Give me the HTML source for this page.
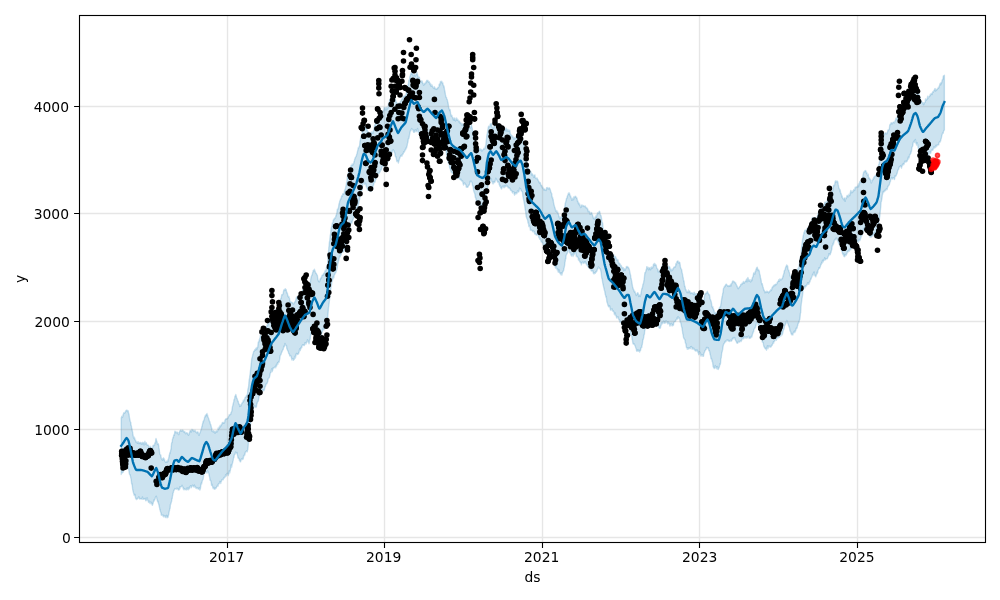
<!DOCTYPE html>
<html lang="en"><head><meta charset="utf-8"><title>Forecast plot</title>
<style>html,body{margin:0;padding:0;background:#fff}body{width:1000px;height:600px;overflow:hidden}svg{display:block}</style>
</head><body>
<svg width="1000" height="600" viewBox="0 0 1000 600">
<rect width="1000" height="600" fill="#fff"/>
<clipPath id="c"><rect x="79.5" y="15.5" width="906.0" height="527.0"/></clipPath>
<g clip-path="url(#c)">
<polygon points="121.2,417.9 121.5,417.4 121.8,416.3 122.1,417.2 122.4,417.4 122.7,416.8 123.0,414.6 123.3,415.0 123.6,413.2 123.9,412.7 124.2,413.2 124.5,413.3 124.8,413.0 125.1,411.9 125.4,412.0 125.7,411.0 126.0,410.5 126.3,410.9 126.6,410.1 126.9,410.1 127.2,410.1 127.5,411.3 127.8,411.8 128.1,410.7 128.4,411.9 128.7,413.8 129.0,413.9 129.3,416.3 129.6,418.8 129.9,419.7 130.2,421.2 130.5,421.9 130.8,422.6 131.1,425.6 131.4,425.8 131.7,429.0 132.0,428.7 132.3,431.1 132.6,431.9 132.9,434.7 133.2,435.7 133.5,437.6 133.8,438.1 134.1,437.0 134.4,438.9 134.7,437.8 135.0,439.9 135.3,440.4 135.6,440.0 135.9,441.6 136.2,442.4 136.5,442.5 136.8,441.9 137.1,442.9 137.4,441.9 137.7,443.3 138.0,441.7 138.3,441.9 138.6,443.2 138.9,443.8 139.2,442.4 139.5,443.3 139.8,443.1 140.1,442.8 140.4,442.4 140.7,442.8 141.0,443.2 141.3,444.4 141.6,443.1 141.9,442.8 142.2,442.4 142.5,444.0 142.8,442.5 143.1,443.0 143.4,442.6 143.7,443.0 144.0,445.0 144.3,443.7 144.6,443.3 144.9,441.2 145.2,443.1 145.5,443.3 145.8,444.2 146.1,442.6 146.4,443.0 146.7,444.4 147.0,445.1 147.3,445.2 147.6,445.0 147.9,444.8 148.2,445.6 148.5,445.4 148.8,446.5 149.1,448.5 149.4,448.2 149.7,447.6 150.0,447.6 150.3,446.3 150.6,447.5 150.9,446.9 151.2,448.6 151.5,449.8 151.8,449.2 152.1,449.3 152.4,447.6 152.7,447.9 153.0,445.3 153.3,445.2 153.6,445.2 153.9,445.8 154.2,445.5 154.5,445.3 154.8,443.2 155.1,442.5 155.4,442.9 155.7,439.9 156.0,438.5 156.3,439.6 156.6,440.6 156.9,441.6 157.2,442.4 157.5,444.5 157.8,444.3 158.1,443.7 158.4,444.1 158.7,445.6 159.0,447.9 159.3,449.4 159.6,452.7 159.9,454.0 160.2,454.5 160.5,455.0 160.8,454.9 161.1,457.5 161.4,458.5 161.7,459.4 162.0,458.7 162.3,460.2 162.6,459.5 162.9,458.7 163.2,458.7 163.5,457.8 163.8,458.8 164.1,460.4 164.4,458.9 164.7,460.2 165.0,461.3 165.3,461.7 165.6,462.3 165.9,461.9 166.2,462.1 166.5,461.1 166.8,462.4 167.1,461.8 167.4,460.4 167.7,461.8 168.0,461.5 168.3,459.2 168.6,458.4 168.9,457.1 169.2,455.0 169.5,454.8 169.8,452.6 170.1,453.7 170.4,451.8 170.7,450.1 171.0,449.3 171.3,446.7 171.6,443.1 171.9,442.4 172.2,442.2 172.5,439.1 172.8,438.5 173.1,437.1 173.4,437.7 173.7,434.9 174.0,435.3 174.3,435.3 174.6,433.2 174.9,431.2 175.2,431.8 175.5,431.6 175.8,432.4 176.1,432.9 176.4,432.4 176.7,432.4 177.0,431.9 177.3,432.3 177.6,432.8 177.9,433.1 178.2,433.9 178.5,434.5 178.8,434.7 179.1,432.6 179.4,432.0 179.7,431.3 180.0,430.7 180.3,430.6 180.6,430.0 180.9,430.5 181.2,431.2 181.5,430.2 181.8,430.9 182.1,431.0 182.4,430.3 182.7,430.0 183.0,430.7 183.3,430.6 183.6,431.9 183.9,431.7 184.2,431.5 184.5,432.6 184.8,431.6 185.1,432.4 185.4,433.2 185.7,433.8 186.0,433.7 186.3,433.4 186.6,432.6 186.9,433.2 187.2,433.3 187.5,433.1 187.8,434.2 188.1,434.0 188.4,435.3 188.7,435.2 189.0,434.0 189.3,433.9 189.6,431.6 189.9,432.3 190.2,430.5 190.5,430.4 190.8,430.7 191.1,431.2 191.4,432.0 191.7,430.0 192.0,429.3 192.3,429.8 192.6,430.6 192.9,429.7 193.2,430.2 193.5,430.6 193.8,431.5 194.1,431.4 194.4,431.3 194.7,430.7 195.0,430.1 195.3,431.2 195.6,431.4 195.9,432.2 196.2,432.3 196.5,432.3 196.8,433.1 197.1,432.4 197.4,432.3 197.7,431.8 198.0,432.1 198.3,433.1 198.6,435.1 198.9,435.2 199.2,435.3 199.5,433.6 199.8,433.3 200.1,432.4 200.4,431.8 200.7,430.8 201.0,429.8 201.3,429.4 201.6,427.9 201.9,426.3 202.2,426.1 202.5,423.8 202.8,423.3 203.1,421.3 203.4,421.8 203.7,420.4 204.0,420.1 204.3,418.9 204.6,417.0 204.9,417.5 205.2,415.8 205.5,415.2 205.8,416.0 206.1,414.6 206.4,414.4 206.7,414.2 207.0,413.5 207.3,415.8 207.6,415.0 207.9,416.9 208.2,417.4 208.5,418.1 208.8,419.0 209.1,419.9 209.4,421.3 209.7,421.4 210.0,422.2 210.3,424.1 210.6,424.6 210.9,424.8 211.2,426.4 211.5,427.9 211.8,428.1 212.1,431.4 212.4,430.8 212.7,431.4 213.0,431.7 213.3,432.0 213.6,430.6 213.9,431.6 214.2,431.3 214.5,431.5 214.8,432.9 215.1,433.2 215.4,431.6 215.7,432.1 216.0,431.7 216.3,430.7 216.6,432.1 216.9,431.3 217.2,431.8 217.5,431.3 217.8,430.2 218.1,428.0 218.4,428.9 218.7,429.0 219.0,428.6 219.3,426.7 219.6,427.9 219.9,426.4 220.2,425.2 220.5,426.8 220.8,426.2 221.1,425.2 221.4,425.3 221.7,423.9 222.0,424.1 222.3,422.7 222.6,422.5 222.9,422.5 223.2,422.2 223.5,423.3 223.8,423.2 224.1,422.4 224.4,423.0 224.7,421.9 225.0,420.0 225.3,419.6 225.6,418.9 225.9,419.3 226.2,418.8 226.5,418.7 226.8,419.0 227.1,418.1 227.4,418.7 227.7,418.4 228.0,418.1 228.3,416.9 228.6,416.2 228.9,416.2 229.2,414.7 229.5,415.1 229.8,415.1 230.1,414.3 230.4,414.2 230.7,414.4 231.0,412.6 231.3,412.2 231.6,411.8 231.9,410.4 232.2,408.4 232.5,406.5 232.8,405.4 233.1,403.9 233.4,402.9 233.7,401.9 234.0,399.6 234.3,399.2 234.6,399.0 234.9,396.3 235.2,396.1 235.5,395.6 235.8,394.4 236.1,395.6 236.4,396.9 236.7,398.1 237.0,398.6 237.3,398.9 237.6,400.8 237.9,401.0 238.2,401.1 238.5,403.1 238.8,404.1 239.1,404.1 239.4,404.3 239.7,406.5 240.0,405.5 240.3,404.9 240.6,406.0 240.9,405.9 241.2,405.8 241.5,404.2 241.8,403.4 242.1,403.0 242.4,402.9 242.7,402.1 243.0,402.3 243.3,400.2 243.6,401.6 243.9,400.3 244.2,400.3 244.5,399.2 244.8,398.7 245.1,397.3 245.4,397.3 245.7,396.9 246.0,397.1 246.3,395.7 246.6,395.4 246.9,395.0 247.2,395.4 247.5,393.6 247.8,390.0 248.1,388.5 248.4,387.6 248.7,385.5 249.0,380.9 249.3,379.8 249.6,377.7 249.9,375.1 250.2,373.1 250.5,370.6 250.8,368.0 251.1,364.9 251.4,362.6 251.7,359.1 252.0,357.7 252.3,356.9 252.6,355.5 252.9,354.0 253.2,353.7 253.5,352.2 253.8,351.1 254.1,351.1 254.4,351.0 254.7,349.8 255.0,349.6 255.3,350.2 255.6,349.2 255.9,348.4 256.2,348.2 256.5,347.8 256.8,349.7 257.1,348.1 257.4,346.9 257.7,347.6 258.0,344.4 258.3,342.2 258.6,341.5 258.9,342.2 259.2,339.8 259.5,340.1 259.8,338.1 260.1,337.7 260.4,334.9 260.7,335.8 261.0,336.4 261.3,336.1 261.6,337.7 261.9,336.2 262.2,336.3 262.5,336.5 262.8,335.8 263.1,335.3 263.4,333.5 263.7,334.1 264.0,333.9 264.3,332.5 264.6,332.7 264.9,331.7 265.2,332.2 265.5,331.0 265.8,330.3 266.1,328.6 266.4,327.7 266.7,326.4 267.0,325.3 267.3,324.6 267.6,325.8 267.9,324.3 268.2,323.8 268.5,322.6 268.8,321.6 269.1,321.8 269.4,321.5 269.7,320.1 270.0,319.0 270.3,318.1 270.6,317.2 270.9,315.9 271.2,316.1 271.5,317.3 271.8,315.9 272.1,316.0 272.4,313.0 272.7,313.7 273.0,313.9 273.3,314.1 273.6,313.3 273.9,313.2 274.2,312.6 274.5,310.2 274.8,310.7 275.1,309.9 275.4,310.5 275.7,311.1 276.0,309.5 276.3,309.9 276.6,310.0 276.9,308.6 277.2,308.9 277.5,306.7 277.8,308.9 278.1,307.2 278.4,306.8 278.7,307.3 279.0,305.1 279.3,303.9 279.6,303.2 279.9,302.7 280.2,300.2 280.5,298.9 280.8,298.7 281.1,298.6 281.4,297.0 281.7,294.7 282.0,295.2 282.3,294.5 282.6,294.6 282.9,294.0 283.2,292.9 283.5,291.3 283.8,289.9 284.1,290.7 284.4,289.6 284.7,289.6 285.0,289.4 285.3,288.6 285.6,290.2 285.9,289.5 286.2,289.6 286.5,291.8 286.8,292.0 287.1,293.4 287.4,293.1 287.7,295.1 288.0,296.3 288.3,296.6 288.6,297.2 288.9,296.3 289.2,297.7 289.5,298.3 289.8,300.8 290.1,300.9 290.4,302.5 290.7,302.0 291.0,301.9 291.3,302.3 291.6,302.6 291.9,302.3 292.2,302.5 292.5,303.2 292.8,303.0 293.1,303.9 293.4,303.6 293.7,304.0 294.0,303.5 294.3,302.8 294.6,302.3 294.9,301.8 295.2,301.9 295.5,301.3 295.8,299.8 296.1,298.6 296.4,297.3 296.7,297.5 297.0,296.7 297.3,296.6 297.6,297.2 297.9,298.6 298.2,297.6 298.5,298.2 298.8,296.6 299.1,296.1 299.4,294.9 299.7,294.1 300.0,294.9 300.3,293.1 300.6,293.7 300.9,294.5 301.2,294.9 301.5,293.6 301.8,292.5 302.1,292.5 302.4,290.4 302.7,289.7 303.0,289.9 303.3,289.5 303.6,288.7 303.9,289.1 304.2,288.2 304.5,287.4 304.8,288.2 305.1,288.2 305.4,288.4 305.7,286.3 306.0,285.7 306.3,285.5 306.6,286.1 306.9,286.3 307.2,286.7 307.5,286.4 307.8,286.9 308.1,284.8 308.4,285.4 308.7,284.4 309.0,284.5 309.3,284.5 309.6,283.7 309.9,283.7 310.2,283.4 310.5,280.9 310.8,279.0 311.1,277.2 311.4,276.6 311.7,275.6 312.0,274.8 312.3,274.8 312.6,272.4 312.9,272.3 313.2,270.4 313.5,270.6 313.8,270.0 314.1,270.7 314.4,269.3 314.7,270.4 315.0,271.0 315.3,272.1 315.6,272.8 315.9,273.3 316.2,273.2 316.5,274.1 316.8,274.7 317.1,274.9 317.4,275.6 317.7,278.0 318.0,279.9 318.3,280.3 318.6,281.6 318.9,281.1 319.2,281.6 319.5,281.8 319.8,280.8 320.1,279.1 320.4,278.8 320.7,278.1 321.0,278.7 321.3,277.0 321.6,277.6 321.9,275.7 322.2,275.2 322.5,274.9 322.8,274.9 323.1,275.3 323.4,274.0 323.7,273.3 324.0,273.9 324.3,273.5 324.6,272.5 324.9,271.4 325.2,270.9 325.5,270.1 325.8,270.8 326.1,270.6 326.4,267.5 326.7,267.9 327.0,267.0 327.3,265.8 327.6,263.8 327.9,258.7 328.2,254.5 328.5,252.3 328.8,247.5 329.1,245.6 329.4,241.8 329.7,241.2 330.0,237.6 330.3,235.2 330.6,234.0 330.9,230.4 331.2,228.4 331.5,227.1 331.8,226.2 332.1,224.8 332.4,222.9 332.7,222.9 333.0,221.9 333.3,220.0 333.6,220.1 333.9,219.0 334.2,219.6 334.5,218.4 334.8,217.9 335.1,218.1 335.4,218.0 335.7,216.7 336.0,215.3 336.3,215.7 336.6,213.9 336.9,212.2 337.2,210.0 337.5,208.9 337.8,209.4 338.1,208.9 338.4,207.6 338.7,206.1 339.0,203.7 339.3,203.9 339.6,201.5 339.9,200.7 340.2,199.9 340.5,198.7 340.8,199.3 341.1,199.0 341.4,196.8 341.7,195.8 342.0,196.4 342.3,196.6 342.6,194.9 342.9,193.6 343.2,193.8 343.5,194.3 343.8,194.0 344.1,193.0 344.4,191.6 344.7,189.7 345.0,191.3 345.3,189.1 345.6,187.6 345.9,186.0 346.2,185.1 346.5,182.7 346.8,182.4 347.1,179.4 347.4,176.8 347.7,174.8 348.0,174.2 348.3,173.5 348.6,172.2 348.9,171.4 349.2,169.9 349.5,170.4 349.8,169.3 350.1,169.6 350.4,169.5 350.7,168.1 351.0,165.6 351.3,165.4 351.6,165.4 351.9,165.1 352.2,164.0 352.5,165.3 352.8,165.1 353.1,164.6 353.4,163.8 353.7,163.6 354.0,161.4 354.3,161.6 354.6,159.6 354.9,158.8 355.2,158.1 355.5,157.2 355.8,156.8 356.1,156.4 356.4,155.8 356.7,154.2 357.0,154.0 357.3,152.1 357.6,151.0 357.9,149.8 358.2,147.8 358.5,148.4 358.8,147.6 359.1,146.6 359.4,145.9 359.7,144.7 360.0,140.9 360.3,140.8 360.6,138.7 360.9,136.9 361.2,135.6 361.5,135.4 361.8,134.9 362.1,134.0 362.4,131.7 362.7,129.9 363.0,128.4 363.3,128.7 363.6,126.8 363.9,126.3 364.2,125.5 364.5,124.3 364.8,125.5 365.1,126.3 365.4,128.0 365.7,128.1 366.0,127.9 366.3,129.5 366.6,129.6 366.9,129.7 367.2,129.7 367.5,132.0 367.8,131.8 368.1,132.1 368.4,131.7 368.7,134.1 369.0,133.4 369.3,135.8 369.6,134.7 369.9,134.1 370.2,135.9 370.5,134.9 370.8,133.2 371.1,132.7 371.4,131.8 371.7,132.7 372.0,133.4 372.3,131.9 372.6,132.5 372.9,133.4 373.2,132.6 373.5,130.4 373.8,130.3 374.1,128.1 374.4,127.1 374.7,124.9 375.0,125.1 375.3,124.8 375.6,122.8 375.9,121.8 376.2,121.4 376.5,121.1 376.8,121.5 377.1,120.2 377.4,117.6 377.7,118.2 378.0,116.3 378.3,116.6 378.6,116.9 378.9,115.7 379.2,114.8 379.5,115.2 379.8,115.8 380.1,116.1 380.4,115.3 380.7,114.0 381.0,113.6 381.3,115.7 381.6,114.6 381.9,112.5 382.2,111.9 382.5,112.5 382.8,112.4 383.1,111.3 383.4,110.8 383.7,110.6 384.0,108.6 384.3,107.1 384.6,108.4 384.9,108.1 385.2,109.9 385.5,109.2 385.8,107.6 386.1,107.5 386.4,107.3 386.7,109.9 387.0,108.8 387.3,108.0 387.6,108.7 387.9,107.3 388.2,106.3 388.5,103.7 388.8,103.7 389.1,102.9 389.4,101.7 389.7,99.8 390.0,100.2 390.3,99.3 390.6,98.0 390.9,97.7 391.2,97.0 391.5,96.3 391.8,97.5 392.1,96.3 392.4,96.3 392.7,95.4 393.0,95.8 393.3,95.8 393.6,94.9 393.9,95.9 394.2,96.1 394.5,97.0 394.8,97.5 395.1,99.4 395.4,99.7 395.7,100.6 396.0,101.4 396.3,102.3 396.6,102.0 396.9,104.6 397.2,106.1 397.5,105.3 397.8,104.8 398.1,105.1 398.4,103.1 398.7,105.3 399.0,104.9 399.3,104.1 399.6,103.1 399.9,102.5 400.2,102.1 400.5,101.3 400.8,101.2 401.1,100.7 401.4,100.4 401.7,99.3 402.0,99.5 402.3,98.8 402.6,98.7 402.9,97.4 403.2,97.3 403.5,96.2 403.8,96.8 404.1,96.7 404.4,96.2 404.7,95.9 405.0,95.8 405.3,96.2 405.6,95.2 405.9,94.7 406.2,93.5 406.5,92.4 406.8,90.2 407.1,88.1 407.4,88.0 407.7,85.5 408.0,85.4 408.3,84.6 408.6,82.3 408.9,80.1 409.2,80.8 409.5,79.9 409.8,77.0 410.1,75.8 410.4,75.3 410.7,74.3 411.0,73.1 411.3,72.8 411.6,72.8 411.9,74.3 412.2,73.3 412.5,73.9 412.8,75.4 413.1,76.0 413.4,75.1 413.7,75.6 414.0,75.4 414.3,74.2 414.6,75.5 414.9,75.5 415.2,76.2 415.5,75.0 415.8,75.5 416.1,73.6 416.4,74.2 416.7,74.4 417.0,72.3 417.3,73.9 417.6,74.8 417.9,76.0 418.2,77.9 418.5,77.4 418.8,77.0 419.1,77.3 419.4,77.3 419.7,79.0 420.0,81.1 420.3,82.2 420.6,82.5 420.9,82.3 421.2,81.8 421.5,81.9 421.8,80.6 422.1,81.4 422.4,81.6 422.7,83.3 423.0,83.2 423.3,84.5 423.6,85.4 423.9,84.7 424.2,83.8 424.5,84.0 424.8,83.4 425.1,83.0 425.4,83.7 425.7,83.6 426.0,81.7 426.3,82.1 426.6,80.8 426.9,80.3 427.2,80.4 427.5,80.8 427.8,80.4 428.1,81.8 428.4,82.4 428.7,81.5 429.0,81.6 429.3,82.0 429.6,82.9 429.9,84.0 430.2,84.9 430.5,83.5 430.8,84.7 431.1,86.3 431.4,86.4 431.7,85.5 432.0,84.8 432.3,86.2 432.6,86.5 432.9,87.0 433.2,87.6 433.5,88.2 433.8,88.3 434.1,88.6 434.4,86.7 434.7,87.3 435.0,88.8 435.3,88.7 435.6,88.5 435.9,89.3 436.2,89.1 436.5,88.9 436.8,89.4 437.1,88.1 437.4,88.3 437.7,88.5 438.0,87.3 438.3,87.4 438.6,87.3 438.9,86.7 439.2,84.1 439.5,84.5 439.8,83.5 440.1,84.9 440.4,81.5 440.7,81.5 441.0,82.1 441.3,81.9 441.6,81.2 441.9,81.5 442.2,83.3 442.5,83.1 442.8,82.7 443.1,85.2 443.4,84.9 443.7,87.0 444.0,86.2 444.3,88.0 444.6,90.7 444.9,90.9 445.2,93.1 445.5,94.9 445.8,96.2 446.1,97.2 446.4,97.1 446.7,98.9 447.0,99.5 447.3,99.5 447.6,101.6 447.9,102.2 448.2,103.9 448.5,106.4 448.8,108.2 449.1,108.8 449.4,109.0 449.7,110.5 450.0,109.3 450.3,111.0 450.6,113.4 450.9,114.7 451.2,116.1 451.5,115.3 451.8,115.2 452.1,116.5 452.4,117.3 452.7,117.6 453.0,118.3 453.3,119.9 453.6,118.8 453.9,118.2 454.2,120.4 454.5,118.3 454.8,118.0 455.1,119.1 455.4,121.0 455.7,120.0 456.0,120.5 456.3,118.9 456.6,117.9 456.9,119.4 457.2,120.1 457.5,120.1 457.8,119.3 458.1,120.4 458.4,120.7 458.7,121.9 459.0,121.5 459.3,121.0 459.6,121.4 459.9,123.0 460.2,122.5 460.5,123.0 460.8,123.3 461.1,123.1 461.4,124.3 461.7,124.9 462.0,125.1 462.3,123.7 462.6,124.8 462.9,124.6 463.2,124.0 463.5,125.8 463.8,125.8 464.1,126.1 464.4,126.7 464.7,128.2 465.0,127.9 465.3,128.0 465.6,128.9 465.9,128.3 466.2,128.9 466.5,128.7 466.8,129.0 467.1,129.3 467.4,130.1 467.7,129.1 468.0,129.7 468.3,128.4 468.6,128.1 468.9,127.6 469.2,128.3 469.5,127.4 469.8,128.1 470.1,128.3 470.4,127.5 470.7,127.6 471.0,126.0 471.3,124.7 471.6,125.6 471.9,127.3 472.2,127.9 472.5,130.4 472.8,130.8 473.1,131.9 473.4,133.2 473.7,134.0 474.0,136.0 474.3,136.7 474.6,138.5 474.9,139.5 475.2,139.6 475.5,141.3 475.8,143.5 476.1,144.4 476.4,146.1 476.7,147.3 477.0,148.9 477.3,148.7 477.6,148.3 477.9,148.0 478.2,148.1 478.5,148.3 478.8,149.3 479.1,150.2 479.4,149.5 479.7,148.7 480.0,150.2 480.3,149.0 480.6,149.7 480.9,149.8 481.2,149.4 481.5,149.7 481.8,151.0 482.1,150.1 482.4,150.9 482.7,150.0 483.0,149.7 483.3,149.3 483.6,149.3 483.9,148.3 484.2,149.1 484.5,148.2 484.8,148.7 485.1,147.4 485.4,146.0 485.7,146.4 486.0,143.0 486.3,140.5 486.6,138.0 486.9,134.6 487.2,133.7 487.5,132.3 487.8,130.2 488.1,128.4 488.4,126.9 488.7,126.1 489.0,126.9 489.3,126.9 489.6,126.6 489.9,126.0 490.2,124.3 490.5,123.7 490.8,124.8 491.1,123.4 491.4,124.0 491.7,124.9 492.0,127.0 492.3,127.3 492.6,127.7 492.9,128.7 493.2,128.6 493.5,128.2 493.8,126.9 494.1,126.7 494.4,125.3 494.7,124.1 495.0,124.3 495.3,123.2 495.6,124.0 495.9,125.4 496.2,123.4 496.5,124.1 496.8,124.0 497.1,124.4 497.4,123.0 497.7,124.7 498.0,125.2 498.3,126.1 498.6,127.7 498.9,128.1 499.2,128.2 499.5,128.0 499.8,128.7 500.1,129.0 500.4,130.6 500.7,131.1 501.0,131.1 501.3,132.0 501.6,131.6 501.9,133.5 502.2,134.1 502.5,133.9 502.8,132.8 503.1,131.5 503.4,131.0 503.7,131.8 504.0,130.8 504.3,129.7 504.6,130.5 504.9,129.8 505.2,130.8 505.5,129.4 505.8,128.5 506.1,128.1 506.4,129.1 506.7,130.2 507.0,131.3 507.3,130.7 507.6,129.9 507.9,129.3 508.2,130.2 508.5,131.4 508.8,131.1 509.1,131.2 509.4,130.2 509.7,130.2 510.0,131.7 510.3,133.9 510.6,135.1 510.9,134.3 511.2,135.5 511.5,135.4 511.8,135.5 512.1,135.8 512.4,137.1 512.7,137.0 513.0,136.6 513.3,137.7 513.6,138.2 513.9,139.3 514.2,139.2 514.5,137.9 514.8,137.5 515.1,138.5 515.4,138.4 515.7,138.4 516.0,137.7 516.3,136.1 516.6,137.7 516.9,136.6 517.2,136.4 517.5,136.3 517.8,135.6 518.1,136.1 518.4,135.5 518.7,134.5 519.0,133.8 519.3,134.3 519.6,133.3 519.9,133.3 520.2,132.9 520.5,131.2 520.8,132.4 521.1,134.0 521.4,134.2 521.7,134.6 522.0,136.1 522.3,137.6 522.6,138.8 522.9,140.1 523.2,141.0 523.5,142.8 523.8,143.2 524.1,144.7 524.4,147.9 524.7,149.5 525.0,149.2 525.3,152.8 525.6,154.9 525.9,157.1 526.2,159.2 526.5,158.8 526.8,161.3 527.1,161.8 527.4,164.8 527.7,165.2 528.0,166.3 528.3,168.3 528.6,170.4 528.9,170.2 529.2,170.5 529.5,170.4 529.8,170.3 530.1,171.9 530.4,171.2 530.7,171.3 531.0,172.3 531.3,172.7 531.6,175.0 531.9,173.9 532.2,173.7 532.5,174.6 532.8,174.8 533.1,175.1 533.4,176.2 533.7,177.2 534.0,177.4 534.3,175.1 534.6,175.3 534.9,174.9 535.2,177.2 535.5,178.1 535.8,178.2 536.1,178.8 536.4,178.7 536.7,178.5 537.0,177.8 537.3,178.5 537.6,179.1 537.9,179.5 538.2,180.7 538.5,180.7 538.8,181.4 539.1,182.5 539.4,183.0 539.7,182.3 540.0,182.4 540.3,182.8 540.6,184.4 540.9,185.7 541.2,185.1 541.5,185.1 541.8,185.7 542.1,187.3 542.4,187.8 542.7,187.0 543.0,187.7 543.3,188.7 543.6,189.2 543.9,190.0 544.2,189.2 544.5,188.9 544.8,189.5 545.1,190.3 545.4,190.1 545.7,190.3 546.0,190.5 546.3,189.5 546.6,187.6 546.9,188.5 547.2,187.5 547.5,188.2 547.8,188.8 548.1,188.4 548.4,188.5 548.7,188.9 549.0,187.6 549.3,188.1 549.6,188.4 549.9,188.6 550.2,189.5 550.5,190.4 550.8,192.2 551.1,192.2 551.4,193.4 551.7,193.5 552.0,195.9 552.3,197.9 552.6,197.3 552.9,199.9 553.2,199.4 553.5,202.5 553.8,203.7 554.1,204.9 554.4,206.2 554.7,207.5 555.0,207.8 555.3,209.1 555.6,210.6 555.9,211.3 556.2,211.5 556.5,211.7 556.8,210.5 557.1,212.5 557.4,212.5 557.7,211.9 558.0,213.8 558.3,213.5 558.6,214.7 558.9,216.8 559.2,216.3 559.5,217.9 559.8,218.9 560.1,218.6 560.4,218.2 560.7,217.6 561.0,216.6 561.3,216.8 561.6,217.6 561.9,218.0 562.2,217.2 562.5,215.8 562.8,214.8 563.1,216.6 563.4,213.9 563.7,213.3 564.0,212.0 564.3,210.4 564.6,208.9 564.9,206.1 565.2,203.7 565.5,202.8 565.8,201.4 566.1,200.5 566.4,198.8 566.7,197.9 567.0,198.1 567.3,196.1 567.6,195.7 567.9,194.8 568.2,193.7 568.5,193.0 568.8,194.4 569.1,194.2 569.4,193.0 569.7,194.1 570.0,195.1 570.3,196.4 570.6,195.9 570.9,197.3 571.2,197.9 571.5,198.9 571.8,200.3 572.1,200.2 572.4,199.6 572.7,198.7 573.0,198.0 573.3,199.7 573.6,199.6 573.9,196.7 574.2,197.5 574.5,197.6 574.8,197.4 575.1,196.3 575.4,196.4 575.7,196.3 576.0,197.5 576.3,198.0 576.6,197.5 576.9,198.0 577.2,199.5 577.5,201.4 577.8,200.9 578.1,202.1 578.4,203.5 578.7,202.7 579.0,204.3 579.3,204.8 579.6,204.0 579.9,205.2 580.2,206.1 580.5,207.1 580.8,207.5 581.1,207.2 581.4,205.1 581.7,205.8 582.0,204.9 582.3,205.9 582.6,205.9 582.9,205.6 583.2,205.5 583.5,205.8 583.8,206.3 584.1,206.6 584.4,206.2 584.7,206.1 585.0,206.7 585.3,205.9 585.6,207.0 585.9,207.8 586.2,207.9 586.5,207.6 586.8,208.2 587.1,207.9 587.4,209.2 587.7,209.0 588.0,210.3 588.3,211.9 588.6,210.9 588.9,211.2 589.2,211.7 589.5,211.3 589.8,213.2 590.1,214.4 590.4,213.2 590.7,214.1 591.0,212.7 591.3,212.9 591.6,212.6 591.9,213.5 592.2,214.6 592.5,215.0 592.8,216.0 593.1,216.9 593.4,218.4 593.7,218.3 594.0,218.1 594.3,219.2 594.6,218.2 594.9,218.7 595.2,216.7 595.5,217.8 595.8,217.0 596.1,215.5 596.4,217.4 596.7,215.6 597.0,214.4 597.3,214.4 597.6,212.7 597.9,213.2 598.2,213.5 598.5,212.9 598.8,212.3 599.1,211.6 599.4,211.3 599.7,211.6 600.0,212.8 600.3,214.4 600.6,215.2 600.9,215.3 601.2,216.4 601.5,218.3 601.8,220.1 602.1,222.5 602.4,222.5 602.7,223.5 603.0,227.2 603.3,228.9 603.6,230.9 603.9,232.2 604.2,234.9 604.5,236.4 604.8,236.9 605.1,238.0 605.4,239.4 605.7,240.9 606.0,242.0 606.3,243.2 606.6,242.9 606.9,244.2 607.2,245.4 607.5,247.8 607.8,249.9 608.1,249.8 608.4,249.8 608.7,250.4 609.0,251.7 609.3,252.1 609.6,252.9 609.9,252.6 610.2,251.9 610.5,252.7 610.8,253.8 611.1,253.7 611.4,253.7 611.7,254.2 612.0,256.7 612.3,256.7 612.6,255.8 612.9,255.7 613.2,256.2 613.5,254.6 613.8,254.8 614.1,256.3 614.4,256.6 614.7,257.5 615.0,258.0 615.3,256.5 615.6,256.6 615.9,257.7 616.2,258.2 616.5,259.1 616.8,260.3 617.1,260.4 617.4,260.4 617.7,259.5 618.0,259.9 618.3,261.9 618.6,263.2 618.9,263.7 619.2,263.1 619.5,263.2 619.8,264.7 620.1,264.0 620.4,265.2 620.7,265.7 621.0,266.2 621.3,265.5 621.6,267.0 621.9,267.8 622.2,267.1 622.5,268.1 622.8,268.6 623.1,269.0 623.4,267.6 623.7,270.7 624.0,269.0 624.3,268.7 624.6,269.5 624.9,269.9 625.2,270.2 625.5,268.8 625.8,268.7 626.1,267.7 626.4,266.4 626.7,266.7 627.0,266.9 627.3,267.4 627.6,266.4 627.9,267.2 628.2,267.6 628.5,267.5 628.8,268.3 629.1,268.7 629.4,270.0 629.7,271.3 630.0,272.7 630.3,274.6 630.6,275.0 630.9,278.4 631.2,278.5 631.5,280.5 631.8,281.9 632.1,283.7 632.4,285.7 632.7,287.6 633.0,287.8 633.3,289.4 633.6,289.3 633.9,290.5 634.2,291.6 634.5,292.0 634.8,291.1 635.1,292.2 635.4,292.9 635.7,294.0 636.0,294.2 636.3,295.5 636.6,294.8 636.9,294.6 637.2,294.0 637.5,292.6 637.8,293.3 638.1,293.1 638.4,294.6 638.7,296.5 639.0,295.8 639.3,295.0 639.6,294.9 639.9,296.3 640.2,296.6 640.5,295.6 640.8,294.5 641.1,292.4 641.4,291.1 641.7,289.3 642.0,288.2 642.3,288.1 642.6,286.5 642.9,284.3 643.2,284.0 643.5,283.5 643.8,281.2 644.1,279.7 644.4,277.6 644.7,274.2 645.0,272.4 645.3,272.8 645.6,272.0 645.9,270.8 646.2,269.5 646.5,269.3 646.8,266.6 647.1,267.0 647.4,268.2 647.7,268.8 648.0,267.3 648.3,268.9 648.6,269.9 648.9,267.7 649.2,267.8 649.5,268.3 649.8,267.9 650.1,269.6 650.4,267.9 650.7,269.8 651.0,268.6 651.3,267.0 651.6,268.2 651.9,267.6 652.2,266.9 652.5,268.1 652.8,267.5 653.1,266.2 653.4,264.5 653.7,264.1 654.0,264.2 654.3,263.3 654.6,265.1 654.9,265.5 655.2,264.0 655.5,264.7 655.8,265.5 656.1,264.9 656.4,266.3 656.7,267.7 657.0,268.4 657.3,268.7 657.6,268.9 657.9,269.2 658.2,271.8 658.5,271.5 658.8,271.8 659.1,271.3 659.4,272.0 659.7,271.0 660.0,271.4 660.3,271.2 660.6,269.0 660.9,268.1 661.2,268.1 661.5,268.1 661.8,266.7 662.1,266.9 662.4,265.6 662.7,265.2 663.0,265.1 663.3,265.5 663.6,266.3 663.9,265.1 664.2,265.6 664.5,266.8 664.8,266.6 665.1,265.2 665.4,266.3 665.7,265.1 666.0,265.0 666.3,265.9 666.6,267.5 666.9,266.6 667.2,266.9 667.5,267.5 667.8,266.3 668.1,266.0 668.4,267.2 668.7,268.2 669.0,266.5 669.3,266.9 669.6,266.8 669.9,267.5 670.2,268.6 670.5,269.6 670.8,269.5 671.1,271.0 671.4,270.4 671.7,269.2 672.0,270.6 672.3,270.2 672.6,270.1 672.9,268.6 673.2,268.6 673.5,268.5 673.8,267.2 674.1,267.4 674.4,266.9 674.7,266.8 675.0,267.2 675.3,266.4 675.6,266.1 675.9,263.5 676.2,264.7 676.5,264.0 676.8,262.4 677.1,261.3 677.4,261.2 677.7,261.1 678.0,260.9 678.3,262.4 678.6,263.1 678.9,262.6 679.2,262.0 679.5,262.3 679.8,262.5 680.1,264.3 680.4,266.7 680.7,267.8 681.0,268.7 681.3,269.2 681.6,269.4 681.9,271.3 682.2,272.9 682.5,274.2 682.8,276.5 683.1,277.2 683.4,279.4 683.7,281.0 684.0,280.9 684.3,283.9 684.6,286.3 684.9,286.1 685.2,287.3 685.5,289.6 685.8,289.4 686.1,289.9 686.4,291.2 686.7,292.3 687.0,292.7 687.3,291.2 687.6,291.8 687.9,292.2 688.2,292.8 688.5,290.0 688.8,292.2 689.1,290.7 689.4,291.6 689.7,291.0 690.0,291.7 690.3,293.7 690.6,292.5 690.9,293.2 691.2,292.7 691.5,293.2 691.8,293.0 692.1,293.1 692.4,292.9 692.7,293.7 693.0,293.2 693.3,294.0 693.6,294.4 693.9,292.8 694.2,292.1 694.5,293.2 694.8,294.3 695.1,295.1 695.4,295.1 695.7,293.8 696.0,293.4 696.3,293.8 696.6,294.4 696.9,294.0 697.2,294.0 697.5,294.8 697.8,294.9 698.1,296.5 698.4,296.1 698.7,296.4 699.0,296.7 699.3,297.1 699.6,296.3 699.9,297.2 700.2,298.8 700.5,298.6 700.8,298.5 701.1,298.6 701.4,299.6 701.7,299.7 702.0,299.4 702.3,299.3 702.6,300.5 702.9,300.5 703.2,300.2 703.5,300.2 703.8,300.2 704.1,300.1 704.4,296.7 704.7,295.0 705.0,293.7 705.3,294.2 705.6,293.3 705.9,293.3 706.2,293.1 706.5,293.5 706.8,292.4 707.1,291.7 707.4,291.3 707.7,292.8 708.0,292.8 708.3,293.2 708.6,294.2 708.9,294.4 709.2,295.4 709.5,294.6 709.8,296.7 710.1,298.7 710.4,299.6 710.7,300.2 711.0,301.0 711.3,301.9 711.6,303.9 711.9,306.8 712.2,307.1 712.5,307.1 712.8,306.6 713.1,309.0 713.4,308.5 713.7,309.8 714.0,310.3 714.3,311.9 714.6,313.1 714.9,313.7 715.2,314.1 715.5,313.0 715.8,312.5 716.1,312.8 716.4,313.8 716.7,312.3 717.0,312.5 717.3,312.6 717.6,313.6 717.9,312.5 718.2,311.7 718.5,312.5 718.8,311.1 719.1,309.1 719.4,307.8 719.7,307.3 720.0,307.7 720.3,306.5 720.6,306.3 720.9,303.9 721.2,302.6 721.5,300.1 721.8,298.3 722.1,296.4 722.4,295.7 722.7,293.5 723.0,292.5 723.3,289.9 723.6,288.1 723.9,287.7 724.2,287.3 724.5,286.3 724.8,286.4 725.1,286.6 725.4,285.1 725.7,284.7 726.0,284.3 726.3,284.1 726.6,284.4 726.9,285.3 727.2,285.3 727.5,285.6 727.8,286.4 728.1,285.7 728.4,286.3 728.7,286.5 729.0,285.7 729.3,285.6 729.6,285.9 729.9,286.3 730.2,284.9 730.5,284.6 730.8,285.7 731.1,285.9 731.4,283.5 731.7,283.8 732.0,282.8 732.3,281.7 732.6,281.4 732.9,280.9 733.2,281.2 733.5,281.7 733.8,281.4 734.1,281.4 734.4,282.4 734.7,282.1 735.0,283.0 735.3,283.2 735.6,282.7 735.9,284.2 736.2,284.3 736.5,285.2 736.8,286.0 737.1,285.8 737.4,287.3 737.7,287.9 738.0,287.7 738.3,288.7 738.6,287.9 738.9,288.0 739.2,287.1 739.5,286.7 739.8,286.6 740.1,286.6 740.4,285.6 740.7,284.4 741.0,284.6 741.3,284.0 741.6,284.7 741.9,284.1 742.2,283.0 742.5,283.8 742.8,283.1 743.1,282.8 743.4,281.5 743.7,282.5 744.0,283.3 744.3,282.8 744.6,282.3 744.9,281.8 745.2,281.6 745.5,281.3 745.8,280.7 746.1,281.3 746.4,279.4 746.7,279.1 747.0,281.9 747.3,281.4 747.6,279.1 747.9,277.4 748.2,278.6 748.5,279.9 748.8,281.1 749.1,281.1 749.4,280.5 749.7,279.8 750.0,280.9 750.3,281.4 750.6,282.0 750.9,281.1 751.2,279.5 751.5,279.9 751.8,280.8 752.1,279.7 752.4,277.5 752.7,277.2 753.0,276.6 753.3,275.1 753.6,273.4 753.9,272.7 754.2,273.4 754.5,273.6 754.8,274.1 755.1,272.4 755.4,270.9 755.7,271.6 756.0,269.1 756.3,269.3 756.6,267.7 756.9,267.7 757.2,267.2 757.5,268.3 757.8,269.0 758.1,270.6 758.4,269.7 758.7,269.7 759.0,270.8 759.3,270.9 759.6,273.9 759.9,274.4 760.2,275.3 760.5,278.1 760.8,278.7 761.1,279.9 761.4,282.7 761.7,283.4 762.0,284.7 762.3,283.6 762.6,285.8 762.9,286.9 763.2,287.3 763.5,289.0 763.8,290.0 764.1,290.8 764.4,290.3 764.7,291.9 765.0,292.9 765.3,291.8 765.6,291.8 765.9,292.2 766.2,292.4 766.5,291.2 766.8,292.1 767.1,291.5 767.4,291.3 767.7,292.2 768.0,291.9 768.3,292.3 768.6,292.9 768.9,291.7 769.2,292.3 769.5,291.4 769.8,290.9 770.1,291.0 770.4,290.9 770.7,290.0 771.0,289.6 771.3,290.5 771.6,289.8 771.9,288.3 772.2,287.5 772.5,286.7 772.8,287.1 773.1,286.9 773.4,285.6 773.7,285.6 774.0,285.4 774.3,284.8 774.6,285.8 774.9,285.6 775.2,284.6 775.5,284.2 775.8,284.3 776.1,284.7 776.4,284.3 776.7,284.0 777.0,283.2 777.3,282.2 777.6,282.3 777.9,281.6 778.2,281.0 778.5,281.0 778.8,279.6 779.1,281.4 779.4,281.1 779.7,279.9 780.0,278.8 780.3,279.6 780.6,279.4 780.9,279.9 781.2,279.9 781.5,279.2 781.8,279.3 782.1,278.2 782.4,278.6 782.7,277.5 783.0,275.7 783.3,276.2 783.6,273.9 783.9,273.5 784.2,271.3 784.5,270.4 784.8,269.9 785.1,269.9 785.4,268.2 785.7,267.3 786.0,266.5 786.3,265.8 786.6,264.9 786.9,266.5 787.2,266.2 787.5,265.6 787.8,266.8 788.1,269.6 788.4,270.2 788.7,269.9 789.0,271.8 789.3,272.2 789.6,273.5 789.9,275.7 790.2,276.1 790.5,276.2 790.8,276.9 791.1,277.8 791.4,278.1 791.7,278.5 792.0,277.5 792.3,278.2 792.6,278.4 792.9,277.7 793.2,278.6 793.5,275.5 793.8,275.1 794.1,274.0 794.4,274.4 794.7,275.1 795.0,275.6 795.3,274.2 795.6,273.5 795.9,273.4 796.2,273.1 796.5,272.8 796.8,271.5 797.1,269.5 797.4,270.2 797.7,271.0 798.0,268.3 798.3,268.7 798.6,268.7 798.9,267.0 799.2,264.6 799.5,262.8 799.8,261.4 800.1,258.6 800.4,258.1 800.7,255.4 801.0,253.4 801.3,250.2 801.6,247.7 801.9,244.6 802.2,242.8 802.5,239.8 802.8,238.3 803.1,237.0 803.4,235.0 803.7,234.2 804.0,232.3 804.3,233.3 804.6,231.3 804.9,230.3 805.2,230.7 805.5,230.6 805.8,230.3 806.1,229.9 806.4,229.8 806.7,229.7 807.0,229.2 807.3,228.1 807.6,228.8 807.9,228.0 808.2,228.5 808.5,229.0 808.8,227.4 809.1,226.7 809.4,225.3 809.7,224.3 810.0,222.9 810.3,222.9 810.6,222.2 810.9,223.1 811.2,223.2 811.5,222.6 811.8,219.8 812.1,219.1 812.4,217.5 812.7,218.2 813.0,218.4 813.3,218.4 813.6,219.9 813.9,218.2 814.2,217.8 814.5,218.3 814.8,217.8 815.1,218.7 815.4,217.6 815.7,219.6 816.0,220.5 816.3,219.9 816.6,219.9 816.9,218.7 817.2,216.5 817.5,216.3 817.8,214.0 818.1,215.8 818.4,212.8 818.7,212.5 819.0,211.5 819.3,210.7 819.6,210.9 819.9,209.9 820.2,209.6 820.5,210.2 820.8,209.2 821.1,208.7 821.4,207.6 821.7,205.9 822.0,206.5 822.3,205.9 822.6,205.4 822.9,205.1 823.2,205.3 823.5,205.8 823.8,205.3 824.1,205.1 824.4,205.0 824.7,202.4 825.0,202.1 825.3,202.5 825.6,203.0 825.9,202.2 826.2,202.4 826.5,202.5 826.8,201.6 827.1,201.8 827.4,199.3 827.7,198.0 828.0,198.5 828.3,198.8 828.6,199.3 828.9,198.6 829.2,198.0 829.5,197.5 829.8,197.5 830.1,198.5 830.4,197.7 830.7,197.8 831.0,195.8 831.3,195.6 831.6,193.6 831.9,191.5 832.2,190.9 832.5,190.6 832.8,190.4 833.1,187.9 833.4,186.3 833.7,185.3 834.0,185.3 834.3,185.8 834.6,185.2 834.9,183.0 835.2,181.3 835.5,180.8 835.8,182.3 836.1,181.5 836.4,181.1 836.7,181.9 837.0,181.7 837.3,181.1 837.6,181.6 837.9,182.3 838.2,184.4 838.5,185.8 838.8,187.8 839.1,188.2 839.4,189.2 839.7,189.4 840.0,191.7 840.3,190.0 840.6,193.0 840.9,193.1 841.2,194.1 841.5,194.9 841.8,197.0 842.1,195.8 842.4,197.6 842.7,198.4 843.0,198.4 843.3,199.2 843.6,199.8 843.9,198.8 844.2,197.9 844.5,198.1 844.8,198.6 845.1,201.3 845.4,199.8 845.7,199.2 846.0,197.8 846.3,198.5 846.6,197.7 846.9,195.9 847.2,195.3 847.5,196.4 847.8,195.6 848.1,196.9 848.4,196.7 848.7,195.9 849.0,194.2 849.3,195.5 849.6,194.8 849.9,195.5 850.2,193.2 850.5,191.8 850.8,190.4 851.1,193.0 851.4,191.9 851.7,191.3 852.0,192.4 852.3,192.0 852.6,192.6 852.9,190.9 853.2,190.4 853.5,190.9 853.8,189.5 854.1,189.6 854.4,190.5 854.7,190.3 855.0,187.7 855.3,187.1 855.6,187.7 855.9,187.6 856.2,187.3 856.5,187.6 856.8,186.9 857.1,186.4 857.4,186.9 857.7,186.1 858.0,185.3 858.3,183.9 858.6,186.9 858.9,184.7 859.2,184.9 859.5,182.8 859.8,181.5 860.1,181.9 860.4,182.4 860.7,182.1 861.0,182.5 861.3,181.1 861.6,179.3 861.9,178.4 862.2,178.3 862.5,178.2 862.8,176.5 863.1,174.2 863.4,173.5 863.7,172.0 864.0,172.2 864.3,172.0 864.6,171.8 864.9,170.8 865.2,171.1 865.5,170.5 865.8,170.8 866.1,171.9 866.4,173.2 866.7,172.2 867.0,173.2 867.3,175.0 867.6,175.2 867.9,175.2 868.2,174.2 868.5,177.3 868.8,178.2 869.1,177.6 869.4,178.7 869.7,178.5 870.0,179.6 870.3,179.2 870.6,180.1 870.9,181.1 871.2,183.0 871.5,182.4 871.8,182.0 872.1,180.2 872.4,180.3 872.7,180.2 873.0,178.7 873.3,179.7 873.6,177.7 873.9,177.0 874.2,178.0 874.5,176.8 874.8,176.1 875.1,176.3 875.4,176.2 875.7,175.3 876.0,174.8 876.3,175.4 876.6,173.9 876.9,174.5 877.2,173.2 877.5,172.8 877.8,171.9 878.1,170.2 878.4,167.3 878.7,164.6 879.0,163.9 879.3,162.5 879.6,161.4 879.9,158.1 880.2,154.7 880.5,153.4 880.8,150.6 881.1,149.2 881.4,147.2 881.7,144.0 882.0,140.7 882.3,141.7 882.6,140.7 882.9,138.4 883.2,136.9 883.5,134.8 883.8,134.7 884.1,135.0 884.4,133.5 884.7,134.4 885.0,133.4 885.3,132.8 885.6,133.6 885.9,133.1 886.2,133.3 886.5,133.5 886.8,134.0 887.1,132.8 887.4,132.5 887.7,131.1 888.0,129.9 888.3,130.7 888.6,129.9 888.9,129.6 889.2,129.5 889.5,127.4 889.8,124.7 890.1,124.7 890.4,123.9 890.7,124.4 891.0,122.8 891.3,122.7 891.6,123.2 891.9,123.4 892.2,123.9 892.5,123.0 892.8,122.8 893.1,122.3 893.4,122.1 893.7,122.3 894.0,122.7 894.3,122.9 894.6,122.7 894.9,121.1 895.2,120.6 895.5,120.0 895.8,118.6 896.1,118.1 896.4,118.8 896.7,119.7 897.0,118.8 897.3,116.8 897.6,115.6 897.9,115.3 898.2,116.0 898.5,114.2 898.8,113.1 899.1,112.1 899.4,109.9 899.7,111.7 900.0,111.2 900.3,110.7 900.6,109.2 900.9,108.7 901.2,108.2 901.5,108.3 901.8,108.4 902.1,109.5 902.4,109.6 902.7,109.6 903.0,108.5 903.3,107.0 903.6,107.2 903.9,106.0 904.2,106.9 904.5,107.8 904.8,107.6 905.1,107.8 905.4,107.6 905.7,106.8 906.0,105.2 906.3,104.3 906.6,104.0 906.9,104.0 907.2,103.2 907.5,103.2 907.8,102.7 908.1,103.0 908.4,102.6 908.7,101.9 909.0,100.3 909.3,99.7 909.6,98.8 909.9,97.0 910.2,97.2 910.5,96.2 910.8,94.8 911.1,94.6 911.4,94.1 911.7,92.6 912.0,91.1 912.3,90.6 912.6,89.8 912.9,89.9 913.2,87.6 913.5,87.2 913.8,86.4 914.1,86.6 914.4,85.5 914.7,85.4 915.0,85.0 915.3,86.1 915.6,84.8 915.9,84.6 916.2,85.8 916.5,86.1 916.8,87.4 917.1,88.9 917.4,88.4 917.7,89.4 918.0,91.7 918.3,91.5 918.6,92.3 918.9,94.7 919.2,95.6 919.5,95.8 919.8,96.8 920.1,97.9 920.4,100.2 920.7,99.9 921.0,101.1 921.3,102.1 921.6,101.4 921.9,102.2 922.2,102.4 922.5,102.5 922.8,103.9 923.1,103.8 923.4,102.6 923.7,104.7 924.0,103.9 924.3,103.3 924.6,102.5 924.9,102.5 925.2,101.7 925.5,99.0 925.8,100.5 926.1,100.4 926.4,100.4 926.7,99.1 927.0,99.2 927.3,98.9 927.6,96.3 927.9,98.0 928.2,97.9 928.5,97.9 928.8,96.9 929.1,96.2 929.4,96.0 929.7,96.5 930.0,95.2 930.3,94.2 930.6,95.0 930.9,94.4 931.2,93.5 931.5,93.6 931.8,94.3 932.1,94.6 932.4,93.0 932.7,92.0 933.0,91.6 933.3,92.4 933.6,91.5 933.9,90.7 934.2,90.0 934.5,90.4 934.8,88.8 935.1,88.5 935.4,89.8 935.7,91.1 936.0,90.0 936.3,89.4 936.6,90.1 936.9,89.6 937.2,89.3 937.5,89.0 937.8,88.4 938.1,88.3 938.4,87.2 938.7,88.0 939.0,87.2 939.3,85.9 939.6,85.5 939.9,84.1 940.2,83.3 940.5,83.3 940.8,84.8 941.1,83.3 941.4,82.1 941.7,83.1 942.0,81.0 942.3,79.9 942.6,79.1 942.9,79.7 943.2,76.6 943.5,75.7 943.8,75.7 944.1,75.6 944.4,75.3 944.4,75.1 944.4,130.3 944.4,130.0 944.1,130.1 943.8,130.8 943.5,131.5 943.2,133.2 942.9,133.1 942.6,133.0 942.3,134.2 942.0,135.0 941.7,136.2 941.4,137.9 941.1,138.9 940.8,140.1 940.5,141.4 940.2,141.1 939.9,142.2 939.6,141.8 939.3,142.0 939.0,143.1 938.7,144.8 938.4,144.7 938.1,144.9 937.8,145.1 937.5,145.0 937.2,145.2 936.9,145.5 936.6,146.7 936.3,145.6 936.0,145.2 935.7,146.2 935.4,147.0 935.1,147.7 934.8,147.6 934.5,148.1 934.2,147.0 933.9,146.7 933.6,148.3 933.3,148.6 933.0,149.9 932.7,150.3 932.4,149.4 932.1,150.3 931.8,149.9 931.5,150.6 931.2,150.7 930.9,152.6 930.6,153.4 930.3,152.7 930.0,151.8 929.7,152.0 929.4,152.0 929.1,153.5 928.8,154.3 928.5,154.3 928.2,154.7 927.9,155.6 927.6,156.2 927.3,156.1 927.0,154.8 926.7,155.2 926.4,155.3 926.1,157.9 925.8,157.5 925.5,158.1 925.2,158.7 924.9,157.4 924.6,159.9 924.3,161.4 924.0,162.1 923.7,162.1 923.4,161.7 923.1,161.2 922.8,160.4 922.5,159.5 922.2,160.1 921.9,158.6 921.6,157.6 921.3,157.7 921.0,158.1 920.7,155.8 920.4,155.8 920.1,155.2 919.8,155.4 919.5,153.7 919.2,151.6 918.9,150.3 918.6,148.9 918.3,148.3 918.0,147.1 917.7,144.3 917.4,144.1 917.1,142.7 916.8,143.8 916.5,145.0 916.2,143.4 915.9,143.3 915.6,140.6 915.3,139.5 915.0,140.3 914.7,142.5 914.4,141.5 914.1,140.9 913.8,142.2 913.5,141.9 913.2,142.3 912.9,145.0 912.6,146.3 912.3,147.0 912.0,147.2 911.7,149.1 911.4,151.8 911.1,151.4 910.8,153.5 910.5,153.8 910.2,154.5 909.9,154.3 909.6,154.6 909.3,157.3 909.0,157.6 908.7,158.9 908.4,157.0 908.1,158.0 907.8,159.5 907.5,159.8 907.2,160.8 906.9,161.6 906.6,160.9 906.3,161.9 906.0,161.7 905.7,162.1 905.4,161.1 905.1,161.3 904.8,161.2 904.5,162.1 904.2,163.5 903.9,164.5 903.6,163.7 903.3,164.4 903.0,164.1 902.7,165.4 902.4,164.3 902.1,166.2 901.8,166.5 901.5,168.2 901.2,167.0 900.9,166.7 900.6,165.7 900.3,166.6 900.0,166.4 899.7,167.1 899.4,166.5 899.1,167.5 898.8,169.2 898.5,169.5 898.2,169.5 897.9,170.3 897.6,171.2 897.3,172.8 897.0,173.7 896.7,174.0 896.4,175.1 896.1,175.6 895.8,176.3 895.5,176.0 895.2,176.9 894.9,176.0 894.6,179.2 894.3,179.5 894.0,178.4 893.7,178.0 893.4,177.7 893.1,178.1 892.8,177.6 892.5,179.1 892.2,179.1 891.9,178.9 891.6,177.5 891.3,178.5 891.0,179.0 890.7,179.5 890.4,181.6 890.1,182.1 889.8,182.7 889.5,184.0 889.2,184.9 888.9,185.2 888.6,185.5 888.3,185.7 888.0,186.7 887.7,186.4 887.4,188.2 887.1,189.5 886.8,189.3 886.5,188.7 886.2,189.2 885.9,190.2 885.6,190.2 885.3,190.6 885.0,190.2 884.7,191.2 884.4,190.4 884.1,191.8 883.8,192.0 883.5,192.5 883.2,191.4 882.9,193.0 882.6,194.3 882.3,195.3 882.0,198.2 881.7,199.7 881.4,201.4 881.1,202.0 880.8,206.3 880.5,209.2 880.2,212.2 879.9,215.9 879.6,217.5 879.3,219.3 879.0,220.2 878.7,222.1 878.4,225.4 878.1,225.5 877.8,226.6 877.5,227.7 877.2,228.1 876.9,228.5 876.6,228.4 876.3,230.2 876.0,231.8 875.7,232.6 875.4,233.9 875.1,235.9 874.8,235.2 874.5,233.7 874.2,232.7 873.9,233.9 873.6,235.6 873.3,234.1 873.0,234.5 872.7,235.8 872.4,235.7 872.1,235.8 871.8,236.3 871.5,237.0 871.2,236.0 870.9,236.5 870.6,237.1 870.3,236.8 870.0,237.1 869.7,235.8 869.4,235.0 869.1,233.9 868.8,233.7 868.5,231.6 868.2,231.1 867.9,229.5 867.6,229.0 867.3,229.6 867.0,227.3 866.7,226.8 866.4,226.5 866.1,225.7 865.8,225.5 865.5,225.4 865.2,226.4 864.9,227.7 864.6,228.3 864.3,228.1 864.0,229.6 863.7,230.3 863.4,228.9 863.1,231.0 862.8,231.9 862.5,233.6 862.2,234.2 861.9,235.6 861.6,234.8 861.3,236.2 861.0,237.5 860.7,238.3 860.4,239.0 860.1,240.1 859.8,240.8 859.5,239.9 859.2,239.2 858.9,240.8 858.6,240.4 858.3,242.1 858.0,240.7 857.7,241.2 857.4,241.9 857.1,240.9 856.8,241.9 856.5,242.5 856.2,243.4 855.9,243.1 855.6,243.5 855.3,243.7 855.0,244.2 854.7,245.8 854.4,244.8 854.1,245.8 853.8,246.8 853.5,248.1 853.2,247.8 852.9,247.4 852.6,246.0 852.3,245.4 852.0,246.8 851.7,248.0 851.4,247.7 851.1,248.4 850.8,249.7 850.5,248.7 850.2,249.8 849.9,249.3 849.6,249.2 849.3,250.7 849.0,251.4 848.7,250.9 848.4,250.5 848.1,251.2 847.8,252.2 847.5,251.6 847.2,252.6 846.9,253.8 846.6,253.7 846.3,254.8 846.0,255.4 845.7,254.8 845.4,254.4 845.1,255.3 844.8,256.5 844.5,256.5 844.2,256.7 843.9,254.0 843.6,256.1 843.3,254.7 843.0,253.5 842.7,254.2 842.4,253.2 842.1,251.3 841.8,251.0 841.5,250.7 841.2,248.7 840.9,249.3 840.6,248.2 840.3,245.5 840.0,244.3 839.7,244.0 839.4,244.7 839.1,244.1 838.8,243.2 838.5,242.3 838.2,242.3 837.9,241.3 837.6,239.7 837.3,240.3 837.0,239.0 836.7,238.1 836.4,239.0 836.1,238.2 835.8,238.1 835.5,239.4 835.2,239.9 834.9,239.3 834.6,239.9 834.3,240.3 834.0,242.3 833.7,243.0 833.4,244.6 833.1,243.2 832.8,244.1 832.5,246.1 832.2,245.6 831.9,248.5 831.6,250.1 831.3,250.9 831.0,252.5 830.7,252.2 830.4,254.0 830.1,254.9 829.8,253.7 829.5,254.8 829.2,254.6 828.9,253.6 828.6,256.1 828.3,256.2 828.0,257.0 827.7,257.7 827.4,258.6 827.1,258.9 826.8,258.9 826.5,258.6 826.2,258.8 825.9,258.7 825.6,259.9 825.3,259.8 825.0,259.6 824.7,257.7 824.4,260.2 824.1,259.2 823.8,260.7 823.5,260.8 823.2,261.5 822.9,262.2 822.6,260.2 822.3,261.3 822.0,263.4 821.7,262.5 821.4,264.1 821.1,264.7 820.8,264.1 820.5,266.2 820.2,267.0 819.9,267.9 819.6,268.4 819.3,268.3 819.0,267.7 818.7,269.2 818.4,269.7 818.1,270.0 817.8,272.0 817.5,273.0 817.2,273.8 816.9,272.1 816.6,274.1 816.3,275.1 816.0,276.1 815.7,276.9 815.4,275.5 815.1,276.0 814.8,275.4 814.5,273.9 814.2,272.0 813.9,273.4 813.6,272.3 813.3,274.2 813.0,275.5 812.7,274.2 812.4,275.3 812.1,276.2 811.8,277.0 811.5,277.6 811.2,278.8 810.9,278.4 810.6,279.9 810.3,280.1 810.0,281.8 809.7,281.5 809.4,282.1 809.1,283.4 808.8,284.4 808.5,282.6 808.2,283.5 807.9,284.3 807.6,282.6 807.3,284.7 807.0,284.5 806.7,285.3 806.4,285.3 806.1,286.3 805.8,286.7 805.5,286.7 805.2,285.7 804.9,288.0 804.6,286.9 804.3,287.3 804.0,286.4 803.7,287.5 803.4,289.0 803.1,290.4 802.8,293.2 802.5,295.7 802.2,297.6 801.9,299.4 801.6,301.7 801.3,303.8 801.0,307.0 800.7,312.8 800.4,313.4 800.1,317.1 799.8,319.4 799.5,319.7 799.2,321.5 798.9,322.5 798.6,322.1 798.3,323.6 798.0,323.9 797.7,325.6 797.4,326.0 797.1,327.9 796.8,328.2 796.5,328.9 796.2,328.2 795.9,329.6 795.6,331.0 795.3,331.3 795.0,332.1 794.7,332.6 794.4,331.0 794.1,331.9 793.8,332.0 793.5,332.9 793.2,332.8 792.9,335.0 792.6,334.2 792.3,334.7 792.0,334.6 791.7,334.8 791.4,333.4 791.1,333.9 790.8,332.4 790.5,331.3 790.2,331.2 789.9,330.6 789.6,328.6 789.3,326.9 789.0,327.0 788.7,325.5 788.4,325.5 788.1,324.0 787.8,323.5 787.5,322.5 787.2,321.2 786.9,320.5 786.6,321.9 786.3,321.3 786.0,323.6 785.7,323.3 785.4,324.5 785.1,325.2 784.8,325.2 784.5,325.9 784.2,327.9 783.9,329.2 783.6,329.5 783.3,330.2 783.0,332.0 782.7,333.2 782.4,334.3 782.1,334.9 781.8,333.3 781.5,332.8 781.2,334.3 780.9,336.1 780.6,335.5 780.3,336.1 780.0,334.9 779.7,335.9 779.4,337.4 779.1,337.1 778.8,337.0 778.5,337.8 778.2,337.0 777.9,337.6 777.6,338.1 777.3,337.5 777.0,338.7 776.7,338.2 776.4,340.3 776.1,339.3 775.8,338.1 775.5,339.3 775.2,339.8 774.9,340.8 774.6,340.7 774.3,341.4 774.0,341.6 773.7,343.2 773.4,341.8 773.1,343.3 772.8,343.6 772.5,344.2 772.2,345.2 771.9,345.4 771.6,345.3 771.3,346.5 771.0,346.0 770.7,347.1 770.4,346.4 770.1,347.2 769.8,346.2 769.5,346.1 769.2,346.8 768.9,346.4 768.6,346.1 768.3,347.3 768.0,348.7 767.7,348.2 767.4,345.8 767.1,347.3 766.8,347.9 766.5,350.2 766.2,348.6 765.9,348.9 765.6,349.0 765.3,348.9 765.0,347.6 764.7,348.0 764.4,347.4 764.1,346.6 763.8,346.3 763.5,344.7 763.2,342.6 762.9,342.4 762.6,342.2 762.3,342.1 762.0,339.9 761.7,339.1 761.4,336.7 761.1,335.3 760.8,333.6 760.5,332.9 760.2,330.7 759.9,330.4 759.6,329.9 759.3,328.0 759.0,327.2 758.7,325.1 758.4,325.1 758.1,325.0 757.8,323.2 757.5,321.8 757.2,322.6 756.9,323.1 756.6,322.6 756.3,323.5 756.0,325.6 755.7,325.8 755.4,327.3 755.1,327.5 754.8,328.4 754.5,328.3 754.2,329.1 753.9,329.5 753.6,331.9 753.3,331.6 753.0,333.1 752.7,333.3 752.4,334.5 752.1,335.9 751.8,337.0 751.5,336.4 751.2,336.5 750.9,337.7 750.6,337.3 750.3,338.2 750.0,337.5 749.7,338.3 749.4,338.2 749.1,338.5 748.8,336.3 748.5,336.1 748.2,336.5 747.9,337.0 747.6,337.2 747.3,337.9 747.0,337.2 746.7,337.4 746.4,336.6 746.1,338.3 745.8,337.3 745.5,337.3 745.2,337.2 744.9,337.9 744.6,336.7 744.3,336.9 744.0,337.8 743.7,338.9 743.4,337.8 743.1,338.9 742.8,337.7 742.5,338.9 742.2,338.7 741.9,339.9 741.6,340.2 741.3,341.0 741.0,341.6 740.7,340.7 740.4,340.6 740.1,341.0 739.8,341.8 739.5,341.6 739.2,342.3 738.9,341.6 738.6,341.6 738.3,341.2 738.0,342.4 737.7,343.3 737.4,342.8 737.1,343.3 736.8,342.6 736.5,342.4 736.2,341.3 735.9,340.9 735.6,340.5 735.3,339.7 735.0,338.9 734.7,337.5 734.4,338.3 734.1,337.9 733.8,338.7 733.5,338.2 733.2,337.5 732.9,338.8 732.6,339.3 732.3,338.7 732.0,340.0 731.7,340.7 731.4,341.0 731.1,341.2 730.8,340.3 730.5,340.5 730.2,340.2 729.9,341.3 729.6,341.6 729.3,341.0 729.0,340.7 728.7,341.2 728.4,341.0 728.1,340.1 727.8,339.8 727.5,340.4 727.2,340.5 726.9,340.3 726.6,340.2 726.3,340.3 726.0,341.6 725.7,341.3 725.4,342.0 725.1,341.3 724.8,342.7 724.5,343.0 724.2,343.4 723.9,344.1 723.6,344.2 723.3,345.5 723.0,347.1 722.7,349.4 722.4,350.6 722.1,352.1 721.8,352.5 721.5,355.2 721.2,358.2 720.9,358.3 720.6,362.8 720.3,364.6 720.0,363.8 719.7,363.9 719.4,367.2 719.1,367.0 718.8,368.2 718.5,368.8 718.2,369.5 717.9,369.3 717.6,368.3 717.3,366.5 717.0,366.8 716.7,368.7 716.4,366.9 716.1,368.0 715.8,367.9 715.5,366.1 715.2,365.5 714.9,367.4 714.6,368.1 714.3,368.6 714.0,368.2 713.7,367.7 713.4,367.0 713.1,366.6 712.8,364.0 712.5,361.6 712.2,361.7 711.9,360.2 711.6,358.9 711.3,358.4 711.0,358.8 710.7,356.6 710.4,354.9 710.1,354.5 709.8,352.7 709.5,350.8 709.2,351.1 708.9,350.8 708.6,349.0 708.3,347.8 708.0,348.8 707.7,347.8 707.4,347.6 707.1,347.4 706.8,347.9 706.5,347.5 706.2,349.2 705.9,349.7 705.6,349.9 705.3,350.5 705.0,350.5 704.7,351.8 704.4,352.2 704.1,353.2 703.8,353.6 703.5,356.1 703.2,356.4 702.9,356.4 702.6,354.7 702.3,354.6 702.0,354.8 701.7,354.5 701.4,354.9 701.1,356.2 700.8,355.6 700.5,353.5 700.2,352.9 699.9,352.6 699.6,351.7 699.3,352.2 699.0,354.5 698.7,354.7 698.4,352.3 698.1,352.8 697.8,351.0 697.5,351.9 697.2,350.0 696.9,351.0 696.6,350.5 696.3,350.5 696.0,349.9 695.7,351.0 695.4,350.9 695.1,350.6 694.8,349.6 694.5,350.1 694.2,349.1 693.9,348.2 693.6,349.2 693.3,348.3 693.0,348.6 692.7,347.9 692.4,349.1 692.1,349.2 691.8,347.6 691.5,346.4 691.2,347.0 690.9,347.3 690.6,346.6 690.3,348.6 690.0,348.6 689.7,347.9 689.4,348.4 689.1,348.1 688.8,347.8 688.5,349.0 688.2,349.1 687.9,348.1 687.6,347.8 687.3,349.3 687.0,348.1 686.7,347.7 686.4,347.5 686.1,345.7 685.8,343.3 685.5,343.3 685.2,341.9 684.9,339.7 684.6,339.6 684.3,339.0 684.0,338.2 683.7,338.2 683.4,336.9 683.1,334.6 682.8,334.0 682.5,331.5 682.2,329.6 681.9,327.4 681.6,327.0 681.3,325.2 681.0,323.8 680.7,322.6 680.4,322.2 680.1,322.1 679.8,319.6 679.5,318.5 679.2,317.8 678.9,318.3 678.6,317.7 678.3,317.2 678.0,316.6 677.7,319.1 677.4,319.0 677.1,318.5 676.8,318.1 676.5,319.5 676.2,319.8 675.9,319.9 675.6,321.2 675.3,321.6 675.0,321.4 674.7,321.4 674.4,322.0 674.1,322.1 673.8,322.5 673.5,325.2 673.2,325.3 672.9,324.7 672.6,325.9 672.3,325.0 672.0,325.8 671.7,323.5 671.4,323.5 671.1,324.1 670.8,324.6 670.5,325.6 670.2,324.0 669.9,326.1 669.6,324.4 669.3,323.1 669.0,323.9 668.7,323.8 668.4,323.2 668.1,321.8 667.8,323.3 667.5,323.9 667.2,322.0 666.9,322.6 666.6,321.3 666.3,320.9 666.0,320.9 665.7,321.1 665.4,323.0 665.1,322.7 664.8,321.5 664.5,323.2 664.2,323.2 663.9,323.1 663.6,321.0 663.3,321.7 663.0,322.0 662.7,322.9 662.4,323.9 662.1,322.5 661.8,323.2 661.5,323.7 661.2,325.3 660.9,325.2 660.6,327.4 660.3,328.3 660.0,327.2 659.7,328.2 659.4,328.2 659.1,327.9 658.8,326.8 658.5,326.9 658.2,325.8 657.9,326.1 657.6,324.9 657.3,323.8 657.0,323.7 656.7,323.7 656.4,321.9 656.1,321.8 655.8,322.0 655.5,320.7 655.2,321.8 654.9,319.4 654.6,320.0 654.3,319.7 654.0,319.9 653.7,320.9 653.4,322.2 653.1,321.9 652.8,322.7 652.5,322.1 652.2,323.1 651.9,322.9 651.6,323.2 651.3,324.6 651.0,324.4 650.7,326.3 650.4,326.8 650.1,325.1 649.8,325.6 649.5,325.6 649.2,326.6 648.9,325.9 648.6,325.1 648.3,324.3 648.0,325.4 647.7,323.8 647.4,324.9 647.1,324.8 646.8,324.7 646.5,325.9 646.2,325.0 645.9,325.8 645.6,327.3 645.3,328.4 645.0,330.0 644.7,330.9 644.4,334.5 644.1,334.6 643.8,336.9 643.5,338.3 643.2,339.6 642.9,339.7 642.6,342.2 642.3,344.5 642.0,345.4 641.7,347.6 641.4,347.6 641.1,347.7 640.8,348.9 640.5,350.5 640.2,351.0 639.9,350.9 639.6,352.1 639.3,350.3 639.0,351.2 638.7,350.3 638.4,350.2 638.1,351.4 637.8,349.8 637.5,351.0 637.2,351.0 636.9,351.2 636.6,351.1 636.3,349.0 636.0,348.5 635.7,347.7 635.4,346.6 635.1,345.6 634.8,345.5 634.5,344.3 634.2,344.2 633.9,343.4 633.6,344.2 633.3,343.9 633.0,343.8 632.7,342.2 632.4,339.6 632.1,339.5 631.8,336.0 631.5,335.0 631.2,335.6 630.9,334.6 630.6,334.3 630.3,331.3 630.0,329.5 629.7,327.6 629.4,327.2 629.1,324.4 628.8,322.8 628.5,322.6 628.2,322.0 627.9,322.3 627.6,322.6 627.3,323.6 627.0,324.0 626.7,322.7 626.4,322.9 626.1,323.9 625.8,324.5 625.5,325.3 625.2,326.1 624.9,326.9 624.6,327.3 624.3,325.9 624.0,326.4 623.7,326.3 623.4,326.2 623.1,326.9 622.8,325.3 622.5,325.1 622.2,324.1 621.9,324.3 621.6,323.3 621.3,322.2 621.0,321.7 620.7,321.8 620.4,321.2 620.1,322.5 619.8,321.6 619.5,319.6 619.2,320.1 618.9,319.6 618.6,318.7 618.3,317.7 618.0,316.8 617.7,316.8 617.4,317.2 617.1,317.6 616.8,318.1 616.5,317.3 616.2,316.1 615.9,315.1 615.6,315.5 615.3,312.9 615.0,313.8 614.7,313.7 614.4,314.7 614.1,312.6 613.8,311.7 613.5,311.8 613.2,311.0 612.9,310.4 612.6,311.1 612.3,309.5 612.0,308.8 611.7,309.4 611.4,309.2 611.1,309.1 610.8,310.2 610.5,310.0 610.2,308.8 609.9,307.2 609.6,305.6 609.3,307.1 609.0,306.9 608.7,306.8 608.4,306.1 608.1,305.9 607.8,304.7 607.5,303.5 607.2,302.1 606.9,302.2 606.6,299.2 606.3,296.5 606.0,297.4 605.7,295.8 605.4,294.8 605.1,294.0 604.8,291.5 604.5,290.6 604.2,289.5 603.9,288.2 603.6,286.8 603.3,285.4 603.0,284.3 602.7,282.7 602.4,280.7 602.1,278.4 601.8,278.5 601.5,276.1 601.2,272.8 600.9,271.4 600.6,270.0 600.3,268.9 600.0,268.6 599.7,268.5 599.4,268.5 599.1,267.7 598.8,267.5 598.5,267.0 598.2,267.3 597.9,268.8 597.6,269.0 597.3,269.3 597.0,271.0 596.7,271.3 596.4,271.4 596.1,272.2 595.8,271.8 595.5,272.7 595.2,273.4 594.9,273.3 594.6,272.8 594.3,273.8 594.0,272.8 593.7,273.7 593.4,273.4 593.1,272.1 592.8,270.4 592.5,270.8 592.2,271.2 591.9,270.2 591.6,271.0 591.3,270.9 591.0,270.1 590.7,269.1 590.4,269.4 590.1,268.7 589.8,267.6 589.5,267.8 589.2,267.4 588.9,268.1 588.6,267.8 588.3,266.4 588.0,266.3 587.7,266.4 587.4,265.0 587.1,265.5 586.8,264.2 586.5,264.5 586.2,263.7 585.9,262.6 585.6,263.4 585.3,261.7 585.0,262.5 584.7,262.7 584.4,261.8 584.1,262.9 583.8,263.4 583.5,262.6 583.2,262.8 582.9,262.1 582.6,261.9 582.3,262.5 582.0,263.2 581.7,263.1 581.4,264.8 581.1,263.0 580.8,262.2 580.5,263.1 580.2,262.4 579.9,261.4 579.6,261.6 579.3,259.7 579.0,258.8 578.7,260.2 578.4,259.9 578.1,257.6 577.8,257.4 577.5,256.8 577.2,256.9 576.9,256.1 576.6,256.2 576.3,256.4 576.0,254.4 575.7,252.2 575.4,252.4 575.1,252.8 574.8,252.7 574.5,253.3 574.2,254.5 573.9,252.8 573.6,254.2 573.3,255.6 573.0,256.5 572.7,254.1 572.4,254.6 572.1,255.2 571.8,254.9 571.5,256.0 571.2,255.5 570.9,254.8 570.6,252.6 570.3,253.3 570.0,253.0 569.7,252.6 569.4,251.9 569.1,250.0 568.8,248.1 568.5,248.0 568.2,250.2 567.9,250.6 567.6,252.4 567.3,253.3 567.0,253.6 566.7,254.2 566.4,254.8 566.1,255.5 565.8,258.9 565.5,258.7 565.2,261.4 564.9,262.9 564.6,265.6 564.3,267.2 564.0,268.4 563.7,270.0 563.4,271.2 563.1,270.9 562.8,271.7 562.5,272.6 562.2,273.6 561.9,275.1 561.6,273.3 561.3,272.7 561.0,274.9 560.7,273.2 560.4,273.7 560.1,273.8 559.8,272.8 559.5,272.9 559.2,270.9 558.9,269.5 558.6,271.4 558.3,272.3 558.0,271.5 557.7,269.0 557.4,269.3 557.1,269.9 556.8,268.4 556.5,267.8 556.2,265.9 555.9,267.2 555.6,268.2 555.3,267.3 555.0,266.7 554.7,262.8 554.4,263.3 554.1,262.0 553.8,260.2 553.5,258.4 553.2,258.1 552.9,256.3 552.6,255.3 552.3,253.6 552.0,252.5 551.7,251.1 551.4,247.9 551.1,247.3 550.8,246.6 550.5,245.3 550.2,244.6 549.9,242.8 549.6,244.0 549.3,243.1 549.0,243.5 548.7,244.0 548.4,243.8 548.1,243.7 547.8,244.2 547.5,244.1 547.2,245.2 546.9,245.1 546.6,244.8 546.3,244.8 546.0,243.3 545.7,245.0 545.4,245.0 545.1,246.0 544.8,246.0 544.5,245.7 544.2,245.4 543.9,244.8 543.6,245.0 543.3,245.0 543.0,244.0 542.7,242.7 542.4,242.9 542.1,242.2 541.8,242.1 541.5,241.6 541.2,241.9 540.9,240.7 540.6,239.8 540.3,238.6 540.0,238.7 539.7,239.4 539.4,237.5 539.1,237.0 538.8,237.7 538.5,236.0 538.2,234.2 537.9,234.7 537.6,233.4 537.3,234.7 537.0,234.4 536.7,235.2 536.4,234.4 536.1,235.0 535.8,234.3 535.5,233.8 535.2,234.3 534.9,234.1 534.6,233.4 534.3,231.4 534.0,232.2 533.7,231.2 533.4,231.1 533.1,230.8 532.8,231.9 532.5,231.0 532.2,230.4 531.9,230.6 531.6,230.2 531.3,230.2 531.0,230.1 530.7,229.7 530.4,230.3 530.1,227.7 529.8,226.7 529.5,226.1 529.2,225.9 528.9,226.7 528.6,224.0 528.3,222.6 528.0,222.9 527.7,220.5 527.4,219.5 527.1,219.0 526.8,218.4 526.5,217.3 526.2,216.9 525.9,214.3 525.6,211.2 525.3,210.0 525.0,208.1 524.7,205.7 524.4,203.8 524.1,202.5 523.8,200.7 523.5,199.3 523.2,197.4 522.9,196.8 522.6,193.5 522.3,191.7 522.0,191.3 521.7,191.2 521.4,190.4 521.1,191.0 520.8,189.0 520.5,188.9 520.2,189.1 519.9,188.6 519.6,188.1 519.3,189.7 519.0,191.2 518.7,192.1 518.4,191.8 518.1,191.6 517.8,190.9 517.5,191.0 517.2,192.8 516.9,192.4 516.6,193.9 516.3,192.8 516.0,193.3 515.7,193.3 515.4,192.6 515.1,194.5 514.8,193.4 514.5,195.2 514.2,194.0 513.9,191.9 513.6,191.8 513.3,191.9 513.0,192.1 512.7,193.1 512.4,192.3 512.1,192.1 511.8,190.7 511.5,190.4 511.2,190.4 510.9,190.6 510.6,190.3 510.3,188.8 510.0,188.3 509.7,188.3 509.4,188.6 509.1,187.9 508.8,187.5 508.5,188.0 508.2,187.8 507.9,186.6 507.6,186.4 507.3,186.7 507.0,186.5 506.7,185.1 506.4,185.8 506.1,185.5 505.8,186.5 505.5,186.7 505.2,186.3 504.9,185.7 504.6,187.1 504.3,187.7 504.0,186.3 503.7,187.0 503.4,187.6 503.1,186.0 502.8,186.8 502.5,186.7 502.2,186.4 501.9,188.2 501.6,189.1 501.3,188.6 501.0,187.9 500.7,187.9 500.4,186.1 500.1,185.3 499.8,186.3 499.5,185.0 499.2,184.6 498.9,182.1 498.6,181.8 498.3,182.7 498.0,182.4 497.7,181.9 497.4,181.6 497.1,180.1 496.8,180.1 496.5,180.0 496.2,178.8 495.9,178.2 495.6,179.0 495.3,180.5 495.0,181.8 494.7,182.6 494.4,182.2 494.1,181.5 493.8,182.5 493.5,182.0 493.2,183.8 492.9,182.1 492.6,183.6 492.3,181.8 492.0,181.9 491.7,181.0 491.4,179.4 491.1,178.6 490.8,179.3 490.5,179.9 490.2,180.5 489.9,181.0 489.6,181.0 489.3,181.9 489.0,181.9 488.7,182.8 488.4,184.4 488.1,186.0 487.8,187.0 487.5,189.0 487.2,189.6 486.9,191.1 486.6,193.4 486.3,195.4 486.0,200.0 485.7,203.9 485.4,204.2 485.1,206.0 484.8,205.8 484.5,206.0 484.2,204.6 483.9,205.2 483.6,205.6 483.3,204.9 483.0,206.5 482.7,206.5 482.4,206.4 482.1,205.9 481.8,205.9 481.5,206.2 481.2,204.3 480.9,205.4 480.6,205.4 480.3,205.6 480.0,204.8 479.7,203.5 479.4,203.0 479.1,203.9 478.8,204.0 478.5,203.8 478.2,202.4 477.9,203.5 477.6,204.4 477.3,205.6 477.0,204.0 476.7,202.0 476.4,200.3 476.1,199.8 475.8,197.9 475.5,197.9 475.2,196.6 474.9,194.2 474.6,193.1 474.3,192.6 474.0,191.9 473.7,190.9 473.4,189.0 473.1,187.1 472.8,185.5 472.5,186.0 472.2,183.4 471.9,182.3 471.6,181.8 471.3,181.8 471.0,181.0 470.7,182.0 470.4,182.1 470.1,181.4 469.8,182.8 469.5,184.7 469.2,185.0 468.9,185.0 468.6,185.4 468.3,186.2 468.0,186.7 467.7,187.4 467.4,187.4 467.1,186.6 466.8,186.6 466.5,187.3 466.2,186.8 465.9,184.9 465.6,184.4 465.3,184.2 465.0,184.1 464.7,182.9 464.4,183.1 464.1,183.8 463.8,184.0 463.5,185.1 463.2,183.8 462.9,182.5 462.6,181.0 462.3,181.4 462.0,180.5 461.7,180.9 461.4,180.7 461.1,179.2 460.8,179.9 460.5,179.9 460.2,179.5 459.9,179.3 459.6,178.2 459.3,177.8 459.0,177.8 458.7,177.9 458.4,178.3 458.1,178.2 457.8,178.0 457.5,178.4 457.2,176.6 456.9,177.3 456.6,176.1 456.3,175.3 456.0,176.4 455.7,177.5 455.4,175.5 455.1,176.1 454.8,175.7 454.5,174.8 454.2,175.9 453.9,175.2 453.6,174.8 453.3,175.4 453.0,174.1 452.7,172.7 452.4,172.7 452.1,172.9 451.8,172.0 451.5,172.6 451.2,172.1 450.9,170.8 450.6,170.3 450.3,168.8 450.0,168.3 449.7,168.1 449.4,165.7 449.1,164.1 448.8,163.1 448.5,163.2 448.2,162.8 447.9,161.0 447.6,159.4 447.3,159.2 447.0,155.6 446.7,155.3 446.4,153.3 446.1,151.8 445.8,148.9 445.5,146.8 445.2,147.2 444.9,146.6 444.6,145.4 444.3,144.8 444.0,143.3 443.7,142.9 443.4,142.2 443.1,140.9 442.8,140.3 442.5,140.8 442.2,139.8 441.9,138.9 441.6,140.8 441.3,139.6 441.0,138.4 440.7,139.0 440.4,138.9 440.1,139.4 439.8,140.2 439.5,140.9 439.2,141.5 438.9,140.8 438.6,140.8 438.3,142.6 438.0,143.7 437.7,144.9 437.4,144.8 437.1,144.4 436.8,144.3 436.5,146.6 436.2,146.5 435.9,145.2 435.6,145.3 435.3,144.1 435.0,143.3 434.7,144.3 434.4,144.0 434.1,142.9 433.8,143.3 433.5,142.4 433.2,141.2 432.9,141.2 432.6,140.8 432.3,141.3 432.0,141.6 431.7,143.0 431.4,142.0 431.1,141.0 430.8,141.3 430.5,140.9 430.2,140.2 429.9,139.6 429.6,140.6 429.3,141.2 429.0,140.6 428.7,137.8 428.4,137.7 428.1,138.2 427.8,138.6 427.5,138.2 427.2,137.7 426.9,137.2 426.6,138.4 426.3,138.9 426.0,137.6 425.7,138.2 425.4,140.0 425.1,140.3 424.8,140.5 424.5,140.3 424.2,140.4 423.9,141.3 423.6,140.5 423.3,141.1 423.0,140.5 422.7,138.9 422.4,138.5 422.1,137.9 421.8,137.4 421.5,137.0 421.2,136.7 420.9,136.4 420.6,135.2 420.3,135.9 420.0,135.6 419.7,135.3 419.4,134.6 419.1,133.4 418.8,132.5 418.5,132.6 418.2,130.7 417.9,130.3 417.6,128.5 417.3,129.3 417.0,131.6 416.7,131.1 416.4,130.4 416.1,131.6 415.8,130.1 415.5,130.9 415.2,129.6 414.9,131.3 414.6,132.2 414.3,131.2 414.0,132.4 413.7,132.3 413.4,131.4 413.1,130.7 412.8,129.5 412.5,129.6 412.2,129.2 411.9,129.2 411.6,128.6 411.3,129.2 411.0,130.6 410.7,130.2 410.4,130.8 410.1,132.1 409.8,133.4 409.5,134.9 409.2,137.0 408.9,138.3 408.6,139.1 408.3,138.7 408.0,142.0 407.7,142.7 407.4,144.0 407.1,145.9 406.8,146.8 406.5,148.2 406.2,147.6 405.9,148.8 405.6,149.9 405.3,149.3 405.0,150.5 404.7,151.2 404.4,151.3 404.1,152.3 403.8,151.7 403.5,152.6 403.2,153.9 402.9,153.5 402.6,154.5 402.3,154.6 402.0,156.0 401.7,155.0 401.4,155.5 401.1,156.3 400.8,155.5 400.5,156.7 400.2,156.8 399.9,158.0 399.6,158.3 399.3,159.6 399.0,160.8 398.7,161.4 398.4,163.0 398.1,161.9 397.8,161.3 397.5,160.8 397.2,161.6 396.9,161.5 396.6,160.3 396.3,158.3 396.0,156.7 395.7,157.2 395.4,156.5 395.1,155.3 394.8,152.7 394.5,152.9 394.2,151.4 393.9,150.6 393.6,150.8 393.3,149.8 393.0,150.9 392.7,150.5 392.4,150.3 392.1,153.1 391.8,152.0 391.5,152.0 391.2,153.3 390.9,154.4 390.6,154.7 390.3,155.6 390.0,155.8 389.7,155.5 389.4,156.2 389.1,156.5 388.8,158.7 388.5,158.1 388.2,160.0 387.9,161.8 387.6,162.4 387.3,164.2 387.0,163.6 386.7,163.3 386.4,163.8 386.1,163.4 385.8,163.9 385.5,166.5 385.2,166.2 384.9,164.8 384.6,165.4 384.3,165.9 384.0,165.4 383.7,166.2 383.4,166.3 383.1,165.6 382.8,164.4 382.5,166.1 382.2,166.5 381.9,167.7 381.6,168.4 381.3,169.9 381.0,169.6 380.7,169.8 380.4,170.6 380.1,171.8 379.8,171.6 379.5,172.4 379.2,173.1 378.9,173.6 378.6,173.8 378.3,173.2 378.0,172.9 377.7,172.9 377.4,173.8 377.1,175.2 376.8,176.9 376.5,176.9 376.2,179.1 375.9,178.5 375.6,178.9 375.3,180.6 375.0,182.2 374.7,181.5 374.4,182.4 374.1,181.9 373.8,183.6 373.5,185.2 373.2,185.5 372.9,187.6 372.6,186.9 372.3,189.0 372.0,188.8 371.7,188.7 371.4,189.5 371.1,191.4 370.8,191.1 370.5,190.3 370.2,190.6 369.9,190.8 369.6,189.1 369.3,190.7 369.0,189.5 368.7,189.5 368.4,190.3 368.1,189.2 367.8,190.2 367.5,189.5 367.2,188.2 366.9,187.6 366.6,186.6 366.3,186.8 366.0,185.3 365.7,183.5 365.4,183.7 365.1,183.8 364.8,184.6 364.5,182.2 364.2,180.8 363.9,181.1 363.6,180.9 363.3,183.4 363.0,183.6 362.7,185.2 362.4,187.3 362.1,189.1 361.8,190.2 361.5,190.2 361.2,191.6 360.9,192.7 360.6,194.6 360.3,195.6 360.0,196.6 359.7,199.0 359.4,199.9 359.1,201.0 358.8,203.1 358.5,204.0 358.2,204.2 357.9,207.2 357.6,207.6 357.3,207.2 357.0,207.5 356.7,208.9 356.4,209.6 356.1,212.1 355.8,212.1 355.5,212.4 355.2,213.2 354.9,213.6 354.6,214.6 354.3,215.4 354.0,215.9 353.7,217.5 353.4,218.7 353.1,219.3 352.8,219.5 352.5,220.8 352.2,220.9 351.9,223.1 351.6,222.7 351.3,222.1 351.0,223.7 350.7,224.2 350.4,224.5 350.1,225.8 349.8,227.5 349.5,228.2 349.2,228.2 348.9,229.7 348.6,230.1 348.3,229.0 348.0,230.9 347.7,232.8 347.4,235.1 347.1,234.1 346.8,237.5 346.5,238.7 346.2,241.3 345.9,243.1 345.6,243.6 345.3,246.0 345.0,246.8 344.7,247.6 344.4,249.1 344.1,250.0 343.8,250.9 343.5,251.5 343.2,251.4 342.9,252.2 342.6,251.7 342.3,252.3 342.0,250.3 341.7,251.2 341.4,252.9 341.1,254.9 340.8,253.9 340.5,255.8 340.2,256.7 339.9,256.0 339.6,256.2 339.3,257.7 339.0,259.0 338.7,260.9 338.4,260.8 338.1,263.2 337.8,263.7 337.5,265.7 337.2,268.1 336.9,269.5 336.6,270.2 336.3,270.9 336.0,272.1 335.7,273.0 335.4,272.8 335.1,273.4 334.8,274.4 334.5,274.9 334.2,274.9 333.9,277.7 333.6,278.2 333.3,276.6 333.0,276.8 332.7,279.6 332.4,280.2 332.1,281.7 331.8,281.9 331.5,285.0 331.2,286.1 330.9,288.1 330.6,289.9 330.3,292.7 330.0,294.7 329.7,298.6 329.4,300.8 329.1,303.7 328.8,305.9 328.5,307.6 328.2,311.8 327.9,315.2 327.6,319.1 327.3,320.8 327.0,323.6 326.7,324.2 326.4,325.4 326.1,325.8 325.8,327.1 325.5,325.6 325.2,327.3 324.9,328.3 324.6,327.8 324.3,328.1 324.0,330.0 323.7,330.1 323.4,328.6 323.1,328.7 322.8,329.1 322.5,330.0 322.2,332.2 321.9,332.2 321.6,333.4 321.3,334.9 321.0,335.0 320.7,334.3 320.4,335.3 320.1,337.2 319.8,337.0 319.5,337.6 319.2,337.4 318.9,335.4 318.6,335.8 318.3,335.7 318.0,335.0 317.7,333.0 317.4,332.7 317.1,331.5 316.8,331.2 316.5,329.7 316.2,328.0 315.9,329.1 315.6,327.7 315.3,327.6 315.0,326.0 314.7,326.8 314.4,325.3 314.1,327.6 313.8,326.8 313.5,326.4 313.2,328.3 312.9,329.9 312.6,330.2 312.3,329.6 312.0,331.1 311.7,331.3 311.4,332.5 311.1,334.0 310.8,334.4 310.5,335.8 310.2,339.0 309.9,339.8 309.6,340.2 309.3,342.8 309.0,343.8 308.7,342.8 308.4,342.1 308.1,341.1 307.8,340.7 307.5,339.6 307.2,341.9 306.9,341.8 306.6,342.4 306.3,343.0 306.0,344.0 305.7,343.3 305.4,342.9 305.1,342.5 304.8,343.9 304.5,345.1 304.2,345.6 303.9,344.9 303.6,345.4 303.3,344.7 303.0,345.4 302.7,345.0 302.4,345.0 302.1,346.0 301.8,347.6 301.5,347.8 301.2,347.4 300.9,348.9 300.6,348.2 300.3,350.6 300.0,349.8 299.7,349.0 299.4,350.3 299.1,352.1 298.8,353.1 298.5,353.9 298.2,353.6 297.9,354.6 297.6,354.6 297.3,353.7 297.0,354.2 296.7,353.3 296.4,354.8 296.1,353.9 295.8,356.1 295.5,358.0 295.2,356.1 294.9,356.3 294.6,356.7 294.3,359.3 294.0,359.1 293.7,359.7 293.4,360.4 293.1,358.9 292.8,359.3 292.5,358.7 292.2,358.5 291.9,360.1 291.6,358.5 291.3,357.6 291.0,356.1 290.7,355.9 290.4,356.1 290.1,355.1 289.8,356.1 289.5,355.1 289.2,353.6 288.9,353.5 288.6,353.3 288.3,351.5 288.0,351.1 287.7,350.7 287.4,349.8 287.1,349.1 286.8,348.8 286.5,345.9 286.2,345.4 285.9,345.3 285.6,345.0 285.3,344.5 285.0,343.5 284.7,345.6 284.4,346.2 284.1,347.0 283.8,346.2 283.5,347.8 283.2,349.6 282.9,349.6 282.6,350.0 282.3,350.9 282.0,352.0 281.7,352.2 281.4,352.9 281.1,354.3 280.8,354.8 280.5,355.0 280.2,355.6 279.9,358.0 279.6,359.6 279.3,361.1 279.0,362.2 278.7,361.7 278.4,361.9 278.1,362.9 277.8,364.4 277.5,362.7 277.2,363.5 276.9,364.6 276.6,366.1 276.3,366.3 276.0,365.1 275.7,367.8 275.4,366.7 275.1,367.1 274.8,367.7 274.5,367.3 274.2,367.3 273.9,367.7 273.6,368.1 273.3,368.7 273.0,367.9 272.7,370.1 272.4,371.0 272.1,371.7 271.8,368.7 271.5,369.4 271.2,371.8 270.9,372.5 270.6,372.9 270.3,372.9 270.0,375.0 269.7,376.2 269.4,377.4 269.1,378.0 268.8,378.1 268.5,378.6 268.2,378.6 267.9,381.0 267.6,381.9 267.3,382.8 267.0,383.6 266.7,383.8 266.4,383.5 266.1,384.3 265.8,385.3 265.5,386.2 265.2,386.9 264.9,386.6 264.6,389.2 264.3,389.5 264.0,390.5 263.7,390.1 263.4,390.9 263.1,389.7 262.8,390.0 262.5,390.1 262.2,390.6 261.9,390.8 261.6,390.5 261.3,391.2 261.0,390.2 260.7,392.7 260.4,392.8 260.1,394.4 259.8,395.2 259.5,395.7 259.2,395.6 258.9,398.2 258.6,399.5 258.3,401.0 258.0,401.4 257.7,401.6 257.4,402.2 257.1,403.6 256.8,403.2 256.5,406.4 256.2,407.1 255.9,407.6 255.6,406.4 255.3,406.9 255.0,406.0 254.7,406.8 254.4,406.3 254.1,406.1 253.8,407.6 253.5,407.7 253.2,409.3 252.9,410.5 252.6,412.8 252.3,413.3 252.0,414.4 251.7,415.3 251.4,418.3 251.1,421.3 250.8,421.9 250.5,424.7 250.2,427.6 249.9,430.4 249.6,432.3 249.3,434.1 249.0,438.3 248.7,441.0 248.4,443.3 248.1,446.9 247.8,449.8 247.5,450.2 247.2,451.9 246.9,451.3 246.6,450.8 246.3,451.4 246.0,451.7 245.7,452.0 245.4,451.9 245.1,453.5 244.8,455.0 244.5,454.3 244.2,455.8 243.9,455.7 243.6,455.6 243.3,459.0 243.0,457.9 242.7,458.7 242.4,459.6 242.1,458.9 241.8,459.8 241.5,459.0 241.2,459.1 240.9,460.2 240.6,461.9 240.3,461.9 240.0,461.2 239.7,460.2 239.4,460.5 239.1,458.9 238.8,458.2 238.5,458.4 238.2,458.3 237.9,457.6 237.6,455.4 237.3,454.7 237.0,452.5 236.7,453.4 236.4,453.1 236.1,452.5 235.8,452.7 235.5,452.1 235.2,453.7 234.9,454.5 234.6,454.3 234.3,455.0 234.0,457.4 233.7,457.3 233.4,459.0 233.1,460.9 232.8,461.8 232.5,463.3 232.2,463.9 231.9,466.0 231.6,467.4 231.3,465.5 231.0,464.9 230.7,468.1 230.4,470.2 230.1,471.2 229.8,472.8 229.5,471.4 229.2,470.8 228.9,473.8 228.6,474.1 228.3,475.6 228.0,474.6 227.7,473.2 227.4,473.8 227.1,473.9 226.8,473.6 226.5,475.0 226.2,476.1 225.9,475.4 225.6,474.8 225.3,476.9 225.0,476.9 224.7,477.3 224.4,477.4 224.1,478.2 223.8,477.6 223.5,478.6 223.2,479.7 222.9,479.2 222.6,479.7 222.3,479.6 222.0,480.1 221.7,479.9 221.4,481.5 221.1,481.7 220.8,483.5 220.5,482.2 220.2,482.0 219.9,481.4 219.6,482.6 219.3,483.4 219.0,483.9 218.7,483.7 218.4,483.8 218.1,486.1 217.8,485.2 217.5,485.3 217.2,486.4 216.9,486.4 216.6,486.9 216.3,488.1 216.0,488.2 215.7,487.8 215.4,488.6 215.1,489.0 214.8,489.3 214.5,489.2 214.2,488.5 213.9,487.3 213.6,487.8 213.3,488.7 213.0,488.1 212.7,487.1 212.4,485.8 212.1,484.3 211.8,485.4 211.5,485.3 211.2,482.8 210.9,481.3 210.6,480.5 210.3,480.4 210.0,480.1 209.7,477.8 209.4,476.4 209.1,475.3 208.8,473.3 208.5,472.9 208.2,472.5 207.9,471.5 207.6,470.7 207.3,471.5 207.0,473.0 206.7,471.6 206.4,472.2 206.1,472.8 205.8,472.0 205.5,471.9 205.2,472.5 204.9,472.5 204.6,473.2 204.3,473.0 204.0,474.1 203.7,475.7 203.4,477.6 203.1,479.5 202.8,479.6 202.5,480.3 202.2,481.3 201.9,482.6 201.6,484.2 201.3,482.9 201.0,484.5 200.7,486.7 200.4,488.6 200.1,489.6 199.8,490.1 199.5,488.6 199.2,487.5 198.9,489.3 198.6,488.8 198.3,488.7 198.0,488.8 197.7,488.3 197.4,487.7 197.1,487.6 196.8,488.6 196.5,488.0 196.2,487.6 195.9,488.2 195.6,487.1 195.3,486.5 195.0,487.2 194.7,486.3 194.4,484.9 194.1,486.6 193.8,486.9 193.5,486.0 193.2,486.2 192.9,485.9 192.6,485.1 192.3,486.0 192.0,485.5 191.7,486.5 191.4,487.7 191.1,487.2 190.8,486.5 190.5,485.7 190.2,486.4 189.9,486.8 189.6,488.5 189.3,488.8 189.0,487.5 188.7,488.8 188.4,489.7 188.1,488.8 187.8,489.7 187.5,489.3 187.2,487.6 186.9,488.4 186.6,489.3 186.3,490.0 186.0,489.4 185.7,489.5 185.4,489.2 185.1,489.6 184.8,488.8 184.5,488.8 184.2,489.5 183.9,489.8 183.6,488.0 183.3,489.1 183.0,487.4 182.7,486.9 182.4,486.0 182.1,485.1 181.8,486.5 181.5,486.5 181.2,486.8 180.9,486.8 180.6,487.1 180.3,486.8 180.0,488.6 179.7,486.9 179.4,489.8 179.1,489.5 178.8,489.4 178.5,490.0 178.2,490.1 177.9,488.4 177.6,489.2 177.3,488.7 177.0,488.2 176.7,488.1 176.4,489.2 176.1,488.8 175.8,488.8 175.5,488.6 175.2,488.9 174.9,488.5 174.6,489.5 174.3,490.0 174.0,490.4 173.7,490.3 173.4,492.7 173.1,492.8 172.8,494.9 172.5,496.0 172.2,498.7 171.9,498.7 171.6,501.3 171.3,502.2 171.0,503.4 170.7,504.3 170.4,504.6 170.1,508.4 169.8,508.5 169.5,510.5 169.2,511.6 168.9,513.3 168.6,515.1 168.3,515.8 168.0,517.3 167.7,516.9 167.4,517.6 167.1,517.8 166.8,515.2 166.5,516.6 166.2,517.2 165.9,515.6 165.6,517.6 165.3,517.3 165.0,517.2 164.7,516.0 164.4,515.7 164.1,515.8 163.8,515.2 163.5,516.8 163.2,516.4 162.9,515.7 162.6,515.1 162.3,515.2 162.0,515.1 161.7,514.8 161.4,515.3 161.1,514.0 160.8,512.2 160.5,511.9 160.2,509.7 159.9,510.0 159.6,508.0 159.3,506.8 159.0,505.3 158.7,504.2 158.4,503.3 158.1,501.2 157.8,502.0 157.5,501.4 157.2,500.0 156.9,499.0 156.6,497.5 156.3,496.2 156.0,497.1 155.7,496.8 155.4,497.7 155.1,498.8 154.8,499.8 154.5,499.7 154.2,500.8 153.9,500.0 153.6,501.7 153.3,502.2 153.0,504.0 152.7,503.8 152.4,505.3 152.1,504.9 151.8,503.1 151.5,503.4 151.2,503.7 150.9,502.0 150.6,502.2 150.3,502.2 150.0,503.5 149.7,502.7 149.4,501.6 149.1,501.1 148.8,501.9 148.5,502.4 148.2,501.0 147.9,500.6 147.6,500.1 147.3,497.9 147.0,498.0 146.7,498.1 146.4,500.5 146.1,500.1 145.8,500.9 145.5,499.7 145.2,498.2 144.9,498.9 144.6,499.1 144.3,499.1 144.0,499.2 143.7,498.7 143.4,499.3 143.1,498.6 142.8,498.0 142.5,496.9 142.2,499.2 141.9,499.2 141.6,498.4 141.3,498.9 141.0,498.9 140.7,498.6 140.4,498.9 140.1,499.0 139.8,498.7 139.5,498.9 139.2,498.1 138.9,496.8 138.6,497.3 138.3,498.0 138.0,498.2 137.7,498.4 137.4,499.1 137.1,498.5 136.8,498.6 136.5,499.6 136.2,499.0 135.9,498.3 135.6,498.5 135.3,496.7 135.0,494.5 134.7,495.3 134.4,495.6 134.1,495.1 133.8,493.7 133.5,492.8 133.2,491.7 132.9,490.5 132.6,488.9 132.3,485.8 132.0,483.8 131.7,484.2 131.4,481.7 131.1,478.8 130.8,478.2 130.5,476.4 130.2,475.6 129.9,474.4 129.6,474.5 129.3,473.4 129.0,471.6 128.7,469.5 128.4,468.2 128.1,468.3 127.8,468.4 127.5,466.5 127.2,467.5 126.9,467.3 126.6,465.6 126.3,466.8 126.0,467.0 125.7,467.6 125.4,469.4 125.1,469.6 124.8,468.6 124.5,468.4 124.2,469.2 123.9,469.2 123.6,469.6 123.3,471.9 123.0,472.3 122.7,472.2 122.4,472.7 122.1,473.0 121.8,473.0 121.5,473.6 121.2,474.5" fill="#0072B2" fill-opacity="0.2" stroke="#0072B2" stroke-opacity="0.2" stroke-width="1.39" stroke-linejoin="round"/>
<path d="M227.5 15.5V542.5M384.5 15.5V542.5M542.5 15.5V542.5M699.5 15.5V542.5M857.5 15.5V542.5M79.5 537.5H985.5M79.5 429.5H985.5M79.5 321.5H985.5M79.5 213.5H985.5M79.5 106.5H985.5" stroke="#808080" stroke-opacity="0.2" stroke-width="1.39" fill="none"/>
<g fill="#000"><circle cx="121.6" cy="455.6" r="2.78"/><circle cx="121.8" cy="453.3" r="2.78"/><circle cx="122.1" cy="454.6" r="2.78"/><circle cx="122.3" cy="458.8" r="2.78"/><circle cx="122.5" cy="461.6" r="2.78"/><circle cx="122.7" cy="464.1" r="2.78"/><circle cx="123.0" cy="468.0" r="2.78"/><circle cx="123.2" cy="465.4" r="2.78"/><circle cx="123.4" cy="461.4" r="2.78"/><circle cx="123.6" cy="458.2" r="2.78"/><circle cx="123.9" cy="456.1" r="2.78"/><circle cx="124.1" cy="453.2" r="2.78"/><circle cx="124.3" cy="453.3" r="2.78"/><circle cx="124.5" cy="457.7" r="2.78"/><circle cx="124.8" cy="461.8" r="2.78"/><circle cx="125.0" cy="464.1" r="2.78"/><circle cx="125.2" cy="466.5" r="2.78"/><circle cx="125.4" cy="467.1" r="2.78"/><circle cx="125.7" cy="464.1" r="2.78"/><circle cx="125.9" cy="460.8" r="2.78"/><circle cx="126.4" cy="450.2" r="2.78"/><circle cx="126.7" cy="450.5" r="2.78"/><circle cx="127.0" cy="451.6" r="2.78"/><circle cx="127.3" cy="452.6" r="2.78"/><circle cx="127.7" cy="453.5" r="2.78"/><circle cx="128.0" cy="455.2" r="2.78"/><circle cx="128.3" cy="454.2" r="2.78"/><circle cx="128.6" cy="453.1" r="2.78"/><circle cx="128.9" cy="452.1" r="2.78"/><circle cx="129.2" cy="451.4" r="2.78"/><circle cx="129.5" cy="450.7" r="2.78"/><circle cx="129.8" cy="450.3" r="2.78"/><circle cx="130.2" cy="451.2" r="2.78"/><circle cx="130.5" cy="452.3" r="2.78"/><circle cx="130.8" cy="453.2" r="2.78"/><circle cx="131.1" cy="454.1" r="2.78"/><circle cx="131.4" cy="454.5" r="2.78"/><circle cx="131.7" cy="455.2" r="2.78"/><circle cx="132.0" cy="454.8" r="2.78"/><circle cx="132.3" cy="454.3" r="2.78"/><circle cx="132.7" cy="453.8" r="2.78"/><circle cx="133.0" cy="452.9" r="2.78"/><circle cx="133.3" cy="453.1" r="2.78"/><circle cx="133.6" cy="453.5" r="2.78"/><circle cx="133.9" cy="454.3" r="2.78"/><circle cx="134.2" cy="454.3" r="2.78"/><circle cx="134.5" cy="454.8" r="2.78"/><circle cx="134.8" cy="455.0" r="2.78"/><circle cx="135.2" cy="455.3" r="2.78"/><circle cx="135.5" cy="455.1" r="2.78"/><circle cx="135.8" cy="455.0" r="2.78"/><circle cx="136.1" cy="454.1" r="2.78"/><circle cx="136.4" cy="453.9" r="2.78"/><circle cx="136.7" cy="453.2" r="2.78"/><circle cx="137.0" cy="453.3" r="2.78"/><circle cx="137.3" cy="453.7" r="2.78"/><circle cx="137.7" cy="454.4" r="2.78"/><circle cx="138.0" cy="454.7" r="2.78"/><circle cx="138.3" cy="455.1" r="2.78"/><circle cx="138.6" cy="455.0" r="2.78"/><circle cx="138.9" cy="454.7" r="2.78"/><circle cx="139.2" cy="454.3" r="2.78"/><circle cx="139.5" cy="452.8" r="2.78"/><circle cx="139.8" cy="452.1" r="2.78"/><circle cx="140.2" cy="451.3" r="2.78"/><circle cx="140.5" cy="451.4" r="2.78"/><circle cx="140.8" cy="452.2" r="2.78"/><circle cx="141.1" cy="453.6" r="2.78"/><circle cx="141.4" cy="454.4" r="2.78"/><circle cx="141.7" cy="455.3" r="2.78"/><circle cx="142.0" cy="456.3" r="2.78"/><circle cx="142.3" cy="456.6" r="2.78"/><circle cx="142.7" cy="456.0" r="2.78"/><circle cx="143.0" cy="456.2" r="2.78"/><circle cx="143.3" cy="456.0" r="2.78"/><circle cx="143.6" cy="455.3" r="2.78"/><circle cx="143.9" cy="455.7" r="2.78"/><circle cx="144.2" cy="455.9" r="2.78"/><circle cx="144.5" cy="456.6" r="2.78"/><circle cx="144.8" cy="457.0" r="2.78"/><circle cx="145.2" cy="457.3" r="2.78"/><circle cx="145.5" cy="457.7" r="2.78"/><circle cx="145.8" cy="457.3" r="2.78"/><circle cx="146.1" cy="456.8" r="2.78"/><circle cx="146.4" cy="456.4" r="2.78"/><circle cx="146.7" cy="455.4" r="2.78"/><circle cx="147.0" cy="455.5" r="2.78"/><circle cx="147.3" cy="455.5" r="2.78"/><circle cx="147.7" cy="456.0" r="2.78"/><circle cx="148.0" cy="455.9" r="2.78"/><circle cx="148.3" cy="455.4" r="2.78"/><circle cx="148.6" cy="455.0" r="2.78"/><circle cx="148.9" cy="453.9" r="2.78"/><circle cx="149.2" cy="452.5" r="2.78"/><circle cx="149.5" cy="451.7" r="2.78"/><circle cx="149.8" cy="451.4" r="2.78"/><circle cx="150.2" cy="450.6" r="2.78"/><circle cx="150.5" cy="450.7" r="2.78"/><circle cx="150.8" cy="451.5" r="2.78"/><circle cx="151.1" cy="452.4" r="2.78"/><circle cx="151.4" cy="452.7" r="2.78"/><circle cx="151.7" cy="453.1" r="2.78"/><circle cx="158.9" cy="477.7" r="2.78"/><circle cx="159.2" cy="477.1" r="2.78"/><circle cx="159.5" cy="476.3" r="2.78"/><circle cx="159.8" cy="475.9" r="2.78"/><circle cx="160.2" cy="475.5" r="2.78"/><circle cx="160.5" cy="474.6" r="2.78"/><circle cx="160.8" cy="475.4" r="2.78"/><circle cx="161.1" cy="475.7" r="2.78"/><circle cx="161.4" cy="476.4" r="2.78"/><circle cx="161.7" cy="477.2" r="2.78"/><circle cx="162.0" cy="477.4" r="2.78"/><circle cx="162.3" cy="477.7" r="2.78"/><circle cx="162.6" cy="476.8" r="2.78"/><circle cx="163.0" cy="475.8" r="2.78"/><circle cx="163.3" cy="475.3" r="2.78"/><circle cx="163.6" cy="474.9" r="2.78"/><circle cx="163.9" cy="473.5" r="2.78"/><circle cx="164.2" cy="473.8" r="2.78"/><circle cx="164.5" cy="473.7" r="2.78"/><circle cx="164.8" cy="473.9" r="2.78"/><circle cx="165.1" cy="474.3" r="2.78"/><circle cx="165.4" cy="474.2" r="2.78"/><circle cx="165.8" cy="473.2" r="2.78"/><circle cx="166.1" cy="471.7" r="2.78"/><circle cx="166.4" cy="470.8" r="2.78"/><circle cx="166.7" cy="469.9" r="2.78"/><circle cx="167.0" cy="469.4" r="2.78"/><circle cx="167.3" cy="468.8" r="2.78"/><circle cx="167.6" cy="468.5" r="2.78"/><circle cx="167.9" cy="468.8" r="2.78"/><circle cx="168.2" cy="468.7" r="2.78"/><circle cx="168.6" cy="469.1" r="2.78"/><circle cx="168.9" cy="469.2" r="2.78"/><circle cx="169.2" cy="469.5" r="2.78"/><circle cx="169.5" cy="469.7" r="2.78"/><circle cx="169.8" cy="469.5" r="2.78"/><circle cx="170.1" cy="469.6" r="2.78"/><circle cx="170.4" cy="469.1" r="2.78"/><circle cx="170.7" cy="468.7" r="2.78"/><circle cx="171.0" cy="468.3" r="2.78"/><circle cx="171.4" cy="468.1" r="2.78"/><circle cx="171.7" cy="467.7" r="2.78"/><circle cx="172.0" cy="468.0" r="2.78"/><circle cx="172.3" cy="468.8" r="2.78"/><circle cx="172.6" cy="468.8" r="2.78"/><circle cx="172.9" cy="469.5" r="2.78"/><circle cx="173.2" cy="469.7" r="2.78"/><circle cx="173.5" cy="469.6" r="2.78"/><circle cx="173.8" cy="469.4" r="2.78"/><circle cx="174.2" cy="468.8" r="2.78"/><circle cx="174.5" cy="467.8" r="2.78"/><circle cx="174.8" cy="468.1" r="2.78"/><circle cx="175.1" cy="468.6" r="2.78"/><circle cx="175.4" cy="468.9" r="2.78"/><circle cx="175.7" cy="468.9" r="2.78"/><circle cx="176.0" cy="469.5" r="2.78"/><circle cx="176.3" cy="469.6" r="2.78"/><circle cx="176.6" cy="469.3" r="2.78"/><circle cx="177.0" cy="468.6" r="2.78"/><circle cx="177.3" cy="468.1" r="2.78"/><circle cx="177.6" cy="468.1" r="2.78"/><circle cx="177.9" cy="467.6" r="2.78"/><circle cx="178.2" cy="468.5" r="2.78"/><circle cx="178.5" cy="468.5" r="2.78"/><circle cx="178.8" cy="468.9" r="2.78"/><circle cx="179.1" cy="469.4" r="2.78"/><circle cx="179.4" cy="469.6" r="2.78"/><circle cx="179.8" cy="469.1" r="2.78"/><circle cx="180.1" cy="469.1" r="2.78"/><circle cx="180.4" cy="468.8" r="2.78"/><circle cx="180.7" cy="468.5" r="2.78"/><circle cx="181.0" cy="468.2" r="2.78"/><circle cx="181.3" cy="468.9" r="2.78"/><circle cx="181.6" cy="469.6" r="2.78"/><circle cx="181.9" cy="470.1" r="2.78"/><circle cx="182.2" cy="470.5" r="2.78"/><circle cx="182.6" cy="471.4" r="2.78"/><circle cx="182.9" cy="471.1" r="2.78"/><circle cx="183.2" cy="470.3" r="2.78"/><circle cx="183.5" cy="470.3" r="2.78"/><circle cx="183.8" cy="469.8" r="2.78"/><circle cx="184.1" cy="469.4" r="2.78"/><circle cx="184.4" cy="469.1" r="2.78"/><circle cx="184.7" cy="470.3" r="2.78"/><circle cx="185.0" cy="471.6" r="2.78"/><circle cx="185.4" cy="472.1" r="2.78"/><circle cx="185.7" cy="472.3" r="2.78"/><circle cx="186.0" cy="472.4" r="2.78"/><circle cx="186.3" cy="471.5" r="2.78"/><circle cx="186.6" cy="471.3" r="2.78"/><circle cx="186.9" cy="470.1" r="2.78"/><circle cx="187.2" cy="469.6" r="2.78"/><circle cx="187.5" cy="469.0" r="2.78"/><circle cx="187.8" cy="468.3" r="2.78"/><circle cx="188.2" cy="469.0" r="2.78"/><circle cx="188.5" cy="469.3" r="2.78"/><circle cx="188.8" cy="469.3" r="2.78"/><circle cx="189.1" cy="469.8" r="2.78"/><circle cx="189.4" cy="470.3" r="2.78"/><circle cx="189.7" cy="469.5" r="2.78"/><circle cx="190.0" cy="468.6" r="2.78"/><circle cx="190.3" cy="468.2" r="2.78"/><circle cx="190.7" cy="467.8" r="2.78"/><circle cx="191.0" cy="468.1" r="2.78"/><circle cx="191.3" cy="468.7" r="2.78"/><circle cx="191.6" cy="469.3" r="2.78"/><circle cx="191.9" cy="469.6" r="2.78"/><circle cx="192.2" cy="470.2" r="2.78"/><circle cx="192.5" cy="469.4" r="2.78"/><circle cx="192.8" cy="469.4" r="2.78"/><circle cx="193.1" cy="468.8" r="2.78"/><circle cx="193.5" cy="468.5" r="2.78"/><circle cx="193.8" cy="467.8" r="2.78"/><circle cx="194.1" cy="468.4" r="2.78"/><circle cx="194.4" cy="468.4" r="2.78"/><circle cx="194.7" cy="469.3" r="2.78"/><circle cx="195.0" cy="469.5" r="2.78"/><circle cx="195.3" cy="469.8" r="2.78"/><circle cx="195.6" cy="469.7" r="2.78"/><circle cx="195.9" cy="469.6" r="2.78"/><circle cx="196.3" cy="468.7" r="2.78"/><circle cx="196.6" cy="468.3" r="2.78"/><circle cx="196.9" cy="468.2" r="2.78"/><circle cx="197.2" cy="467.6" r="2.78"/><circle cx="197.5" cy="468.0" r="2.78"/><circle cx="197.8" cy="468.9" r="2.78"/><circle cx="198.1" cy="469.9" r="2.78"/><circle cx="198.4" cy="471.0" r="2.78"/><circle cx="198.7" cy="470.7" r="2.78"/><circle cx="199.1" cy="470.7" r="2.78"/><circle cx="199.4" cy="470.7" r="2.78"/><circle cx="199.7" cy="470.2" r="2.78"/><circle cx="200.0" cy="470.3" r="2.78"/><circle cx="200.3" cy="469.6" r="2.78"/><circle cx="200.6" cy="469.7" r="2.78"/><circle cx="200.9" cy="470.1" r="2.78"/><circle cx="201.2" cy="470.9" r="2.78"/><circle cx="201.5" cy="471.7" r="2.78"/><circle cx="201.9" cy="472.0" r="2.78"/><circle cx="202.2" cy="471.7" r="2.78"/><circle cx="202.5" cy="471.4" r="2.78"/><circle cx="202.8" cy="470.5" r="2.78"/><circle cx="203.1" cy="469.5" r="2.78"/><circle cx="203.4" cy="468.3" r="2.78"/><circle cx="203.7" cy="467.5" r="2.78"/><circle cx="204.0" cy="466.6" r="2.78"/><circle cx="204.3" cy="467.1" r="2.78"/><circle cx="204.7" cy="467.0" r="2.78"/><circle cx="205.0" cy="466.5" r="2.78"/><circle cx="205.3" cy="465.8" r="2.78"/><circle cx="205.6" cy="465.0" r="2.78"/><circle cx="205.9" cy="463.1" r="2.78"/><circle cx="206.2" cy="461.9" r="2.78"/><circle cx="206.5" cy="461.6" r="2.78"/><circle cx="206.8" cy="460.9" r="2.78"/><circle cx="207.1" cy="461.6" r="2.78"/><circle cx="207.5" cy="462.1" r="2.78"/><circle cx="207.8" cy="462.6" r="2.78"/><circle cx="208.1" cy="462.5" r="2.78"/><circle cx="208.4" cy="463.1" r="2.78"/><circle cx="208.7" cy="462.7" r="2.78"/><circle cx="209.0" cy="462.2" r="2.78"/><circle cx="209.3" cy="461.7" r="2.78"/><circle cx="209.6" cy="460.6" r="2.78"/><circle cx="209.9" cy="460.7" r="2.78"/><circle cx="210.3" cy="460.9" r="2.78"/><circle cx="210.6" cy="461.0" r="2.78"/><circle cx="210.9" cy="461.3" r="2.78"/><circle cx="211.2" cy="461.7" r="2.78"/><circle cx="211.5" cy="462.3" r="2.78"/><circle cx="211.8" cy="462.1" r="2.78"/><circle cx="212.1" cy="461.8" r="2.78"/><circle cx="212.4" cy="461.0" r="2.78"/><circle cx="212.7" cy="460.1" r="2.78"/><circle cx="213.1" cy="459.3" r="2.78"/><circle cx="213.4" cy="458.8" r="2.78"/><circle cx="213.7" cy="459.5" r="2.78"/><circle cx="214.0" cy="459.2" r="2.78"/><circle cx="214.3" cy="459.3" r="2.78"/><circle cx="214.6" cy="459.3" r="2.78"/><circle cx="214.9" cy="458.3" r="2.78"/><circle cx="215.2" cy="457.5" r="2.78"/><circle cx="215.5" cy="456.2" r="2.78"/><circle cx="215.9" cy="455.1" r="2.78"/><circle cx="216.2" cy="454.4" r="2.78"/><circle cx="216.5" cy="453.2" r="2.78"/><circle cx="216.8" cy="454.1" r="2.78"/><circle cx="217.1" cy="454.6" r="2.78"/><circle cx="217.4" cy="454.9" r="2.78"/><circle cx="217.7" cy="455.9" r="2.78"/><circle cx="218.0" cy="455.5" r="2.78"/><circle cx="218.3" cy="455.2" r="2.78"/><circle cx="218.7" cy="454.7" r="2.78"/><circle cx="219.0" cy="453.8" r="2.78"/><circle cx="219.3" cy="453.1" r="2.78"/><circle cx="219.6" cy="452.8" r="2.78"/><circle cx="219.9" cy="453.2" r="2.78"/><circle cx="220.2" cy="454.0" r="2.78"/><circle cx="220.5" cy="454.7" r="2.78"/><circle cx="220.8" cy="454.8" r="2.78"/><circle cx="221.2" cy="454.3" r="2.78"/><circle cx="221.5" cy="453.9" r="2.78"/><circle cx="221.8" cy="453.3" r="2.78"/><circle cx="222.1" cy="452.1" r="2.78"/><circle cx="222.4" cy="451.7" r="2.78"/><circle cx="222.7" cy="451.7" r="2.78"/><circle cx="223.0" cy="452.5" r="2.78"/><circle cx="223.3" cy="453.0" r="2.78"/><circle cx="223.6" cy="452.9" r="2.78"/><circle cx="224.0" cy="453.8" r="2.78"/><circle cx="224.3" cy="453.6" r="2.78"/><circle cx="224.6" cy="453.3" r="2.78"/><circle cx="224.9" cy="452.5" r="2.78"/><circle cx="225.2" cy="452.3" r="2.78"/><circle cx="225.5" cy="451.3" r="2.78"/><circle cx="225.8" cy="450.4" r="2.78"/><circle cx="226.1" cy="450.7" r="2.78"/><circle cx="226.4" cy="451.6" r="2.78"/><circle cx="226.8" cy="452.2" r="2.78"/><circle cx="227.1" cy="452.5" r="2.78"/><circle cx="227.4" cy="453.0" r="2.78"/><circle cx="227.7" cy="452.8" r="2.78"/><circle cx="228.0" cy="452.0" r="2.78"/><circle cx="228.3" cy="451.8" r="2.78"/><circle cx="228.6" cy="450.8" r="2.78"/><circle cx="228.9" cy="449.9" r="2.78"/><circle cx="229.2" cy="448.1" r="2.78"/><circle cx="229.6" cy="448.1" r="2.78"/><circle cx="229.9" cy="447.5" r="2.78"/><circle cx="230.2" cy="447.4" r="2.78"/><circle cx="230.5" cy="447.0" r="2.78"/><circle cx="230.8" cy="446.8" r="2.78"/><circle cx="231.1" cy="443.5" r="2.78"/><circle cx="231.4" cy="439.7" r="2.78"/><circle cx="231.7" cy="435.8" r="2.78"/><circle cx="232.0" cy="432.6" r="2.78"/><circle cx="232.4" cy="429.6" r="2.78"/><circle cx="232.7" cy="429.0" r="2.78"/><circle cx="233.0" cy="429.5" r="2.78"/><circle cx="233.3" cy="431.1" r="2.78"/><circle cx="233.6" cy="433.0" r="2.78"/><circle cx="233.9" cy="434.3" r="2.78"/><circle cx="234.2" cy="433.3" r="2.78"/><circle cx="234.5" cy="431.5" r="2.78"/><circle cx="234.8" cy="430.2" r="2.78"/><circle cx="235.2" cy="431.2" r="2.78"/><circle cx="235.5" cy="430.2" r="2.78"/><circle cx="235.8" cy="429.3" r="2.78"/><circle cx="236.1" cy="428.0" r="2.78"/><circle cx="236.4" cy="427.4" r="2.78"/><circle cx="236.7" cy="427.2" r="2.78"/><circle cx="237.0" cy="428.9" r="2.78"/><circle cx="237.3" cy="430.0" r="2.78"/><circle cx="237.6" cy="431.6" r="2.78"/><circle cx="237.9" cy="432.4" r="2.78"/><circle cx="238.2" cy="431.1" r="2.78"/><circle cx="238.6" cy="430.7" r="2.78"/><circle cx="238.9" cy="429.4" r="2.78"/><circle cx="239.2" cy="427.7" r="2.78"/><circle cx="239.5" cy="426.7" r="2.78"/><circle cx="239.8" cy="427.5" r="2.78"/><circle cx="240.1" cy="428.5" r="2.78"/><circle cx="240.4" cy="429.4" r="2.78"/><circle cx="240.7" cy="430.5" r="2.78"/><circle cx="241.0" cy="431.9" r="2.78"/><circle cx="241.3" cy="432.3" r="2.78"/><circle cx="246.6" cy="437.2" r="2.78"/><circle cx="246.9" cy="433.9" r="2.78"/><circle cx="247.2" cy="431.7" r="2.78"/><circle cx="247.4" cy="428.8" r="2.78"/><circle cx="247.7" cy="425.6" r="2.78"/><circle cx="248.0" cy="425.9" r="2.78"/><circle cx="248.3" cy="429.1" r="2.78"/><circle cx="248.5" cy="433.3" r="2.78"/><circle cx="248.8" cy="435.2" r="2.78"/><circle cx="249.1" cy="438.5" r="2.78"/><circle cx="249.3" cy="439.2" r="2.78"/><circle cx="249.6" cy="436.4" r="2.78"/><circle cx="151.2" cy="468.1" r="2.78"/><circle cx="156.9" cy="484.4" r="2.78"/><circle cx="156.2" cy="481.2" r="2.78"/><circle cx="271.9" cy="290.6" r="2.78"/><circle cx="271.9" cy="295.6" r="2.78"/><circle cx="272.5" cy="301.9" r="2.78"/><circle cx="271.9" cy="307.5" r="2.78"/><circle cx="278.8" cy="302.5" r="2.78"/><circle cx="279.4" cy="305.6" r="2.78"/><circle cx="288.1" cy="305.0" r="2.78"/><circle cx="288.8" cy="310.6" r="2.78"/><circle cx="292.5" cy="310.0" r="2.78"/><circle cx="313.1" cy="314.4" r="2.78"/><circle cx="328.8" cy="292.5" r="2.78"/><circle cx="327.5" cy="296.2" r="2.78"/><circle cx="267.5" cy="320.6" r="2.78"/><circle cx="346.2" cy="258.4" r="2.78"/><circle cx="359.4" cy="229.4" r="2.78"/><circle cx="370.6" cy="188.8" r="2.78"/><circle cx="386.2" cy="184.4" r="2.78"/><circle cx="386.2" cy="169.4" r="2.78"/><circle cx="428.5" cy="196.5" r="2.78"/><circle cx="439.4" cy="161.2" r="2.78"/><circle cx="361.2" cy="180.6" r="2.78"/><circle cx="360.0" cy="187.5" r="2.78"/><circle cx="360.0" cy="193.8" r="2.78"/><circle cx="434.4" cy="99.4" r="2.78"/><circle cx="435.0" cy="112.5" r="2.78"/><circle cx="378.8" cy="80.6" r="2.78"/><circle cx="378.8" cy="83.8" r="2.78"/><circle cx="378.8" cy="88.1" r="2.78"/><circle cx="379.0" cy="93.8" r="2.78"/><circle cx="362.5" cy="108.1" r="2.78"/><circle cx="362.5" cy="113.1" r="2.78"/><circle cx="409.5" cy="39.8" r="2.78"/><circle cx="416.4" cy="48.2" r="2.78"/><circle cx="403.5" cy="52.5" r="2.78"/><circle cx="411.2" cy="54.5" r="2.78"/><circle cx="403.5" cy="61.0" r="2.78"/><circle cx="416.0" cy="59.7" r="2.78"/><circle cx="411.5" cy="64.0" r="2.78"/><circle cx="472.7" cy="54.5" r="2.78"/><circle cx="472.7" cy="57.5" r="2.78"/><circle cx="472.7" cy="59.7" r="2.78"/><circle cx="473.7" cy="67.5" r="2.78"/><circle cx="471.5" cy="74.0" r="2.78"/><circle cx="471.5" cy="77.0" r="2.78"/><circle cx="470.7" cy="83.0" r="2.78"/><circle cx="473.7" cy="85.2" r="2.78"/><circle cx="470.7" cy="92.0" r="2.78"/><circle cx="473.7" cy="95.0" r="2.78"/><circle cx="470.0" cy="98.0" r="2.78"/><circle cx="469.2" cy="101.7" r="2.78"/><circle cx="521.2" cy="114.4" r="2.78"/><circle cx="474.4" cy="112.5" r="2.78"/><circle cx="478.1" cy="217.5" r="2.78"/><circle cx="478.1" cy="203.1" r="2.78"/><circle cx="564.4" cy="248.8" r="2.78"/><circle cx="587.5" cy="228.1" r="2.78"/><circle cx="566.2" cy="210.0" r="2.78"/><circle cx="564.4" cy="215.0" r="2.78"/><circle cx="624.4" cy="304.4" r="2.78"/><circle cx="624.4" cy="313.8" r="2.78"/><circle cx="741.2" cy="334.4" r="2.78"/><circle cx="825.6" cy="247.1" r="2.78"/><circle cx="860.6" cy="232.5" r="2.78"/><circle cx="877.5" cy="250.2" r="2.78"/><circle cx="829.4" cy="188.4" r="2.78"/><circle cx="863.5" cy="180.4" r="2.78"/><circle cx="863.5" cy="192.5" r="2.78"/><circle cx="863.8" cy="201.2" r="2.78"/><circle cx="865.0" cy="205.0" r="2.78"/><circle cx="820.6" cy="205.2" r="2.78"/><circle cx="899.4" cy="81.2" r="2.78"/><circle cx="898.8" cy="87.2" r="2.78"/><circle cx="898.5" cy="95.4" r="2.78"/><circle cx="881.2" cy="133.1" r="2.78"/><circle cx="897.5" cy="132.5" r="2.78"/><circle cx="893.8" cy="135.0" r="2.78"/><circle cx="479.4" cy="254.4" r="2.78"/><circle cx="480.0" cy="258.0" r="2.78"/><circle cx="478.0" cy="260.6" r="2.78"/><circle cx="479.4" cy="262.5" r="2.78"/><circle cx="480.2" cy="268.5" r="2.78"/><circle cx="128.3" cy="447.8" r="2.78"/><circle cx="130.0" cy="448.3" r="2.78"/><circle cx="121.7" cy="451.4" r="2.78"/><circle cx="123.6" cy="451.2" r="2.78"/><circle cx="126.5" cy="449.2" r="2.78"/><circle cx="250.4" cy="396.9" r="2.78"/><circle cx="250.0" cy="400.6" r="2.78"/><circle cx="250.6" cy="404.4" r="2.78"/><circle cx="250.9" cy="408.1" r="2.78"/><circle cx="251.2" cy="411.9" r="2.78"/><circle cx="251.0" cy="415.6" r="2.78"/><circle cx="250.5" cy="419.4" r="2.78"/><circle cx="255.0" cy="376.2" r="2.78"/><circle cx="259.4" cy="375.0" r="2.78"/><circle cx="260.0" cy="380.6" r="2.78"/><circle cx="257.5" cy="381.2" r="2.78"/><circle cx="255.0" cy="385.0" r="2.78"/><circle cx="260.0" cy="386.2" r="2.78"/><circle cx="255.6" cy="390.0" r="2.78"/><circle cx="258.8" cy="391.2" r="2.78"/><circle cx="260.0" cy="392.5" r="2.78"/><circle cx="253.8" cy="388.8" r="2.78"/><circle cx="252.5" cy="393.8" r="2.78"/><circle cx="261.9" cy="366.2" r="2.78"/><circle cx="260.6" cy="370.6" r="2.78"/><circle cx="263.8" cy="328.8" r="2.78"/><circle cx="261.9" cy="331.9" r="2.78"/><circle cx="265.0" cy="333.8" r="2.78"/><circle cx="268.1" cy="331.2" r="2.78"/><circle cx="271.2" cy="332.5" r="2.78"/><circle cx="263.8" cy="337.5" r="2.78"/><circle cx="268.1" cy="340.0" r="2.78"/><circle cx="265.0" cy="343.8" r="2.78"/><circle cx="266.9" cy="346.9" r="2.78"/><circle cx="270.0" cy="347.5" r="2.78"/><circle cx="270.6" cy="351.2" r="2.78"/><circle cx="262.5" cy="351.9" r="2.78"/><circle cx="262.5" cy="355.6" r="2.78"/><circle cx="260.0" cy="358.8" r="2.78"/><circle cx="262.5" cy="363.1" r="2.78"/><circle cx="271.2" cy="311.9" r="2.78"/><circle cx="271.9" cy="316.2" r="2.78"/><circle cx="273.1" cy="321.2" r="2.78"/><circle cx="274.4" cy="326.2" r="2.78"/><circle cx="276.2" cy="330.0" r="2.78"/><circle cx="275.6" cy="312.5" r="2.78"/><circle cx="276.9" cy="317.5" r="2.78"/><circle cx="278.8" cy="322.5" r="2.78"/><circle cx="280.6" cy="327.5" r="2.78"/><circle cx="278.8" cy="308.8" r="2.78"/><circle cx="281.2" cy="313.8" r="2.78"/><circle cx="282.5" cy="320.0" r="2.78"/><circle cx="283.1" cy="330.0" r="2.78"/><circle cx="285.6" cy="327.5" r="2.78"/><circle cx="286.2" cy="321.2" r="2.78"/><circle cx="287.5" cy="330.0" r="2.78"/><circle cx="290.0" cy="326.2" r="2.78"/><circle cx="288.1" cy="318.8" r="2.78"/><circle cx="290.6" cy="321.2" r="2.78"/><circle cx="292.5" cy="316.2" r="2.78"/><circle cx="294.4" cy="322.5" r="2.78"/><circle cx="296.2" cy="327.5" r="2.78"/><circle cx="293.1" cy="330.0" r="2.78"/><circle cx="295.0" cy="332.5" r="2.78"/><circle cx="297.5" cy="321.2" r="2.78"/><circle cx="298.8" cy="316.2" r="2.78"/><circle cx="300.0" cy="312.5" r="2.78"/><circle cx="296.9" cy="315.0" r="2.78"/><circle cx="290.6" cy="313.8" r="2.78"/><circle cx="301.2" cy="293.8" r="2.78"/><circle cx="305.0" cy="292.5" r="2.78"/><circle cx="310.0" cy="292.5" r="2.78"/><circle cx="312.5" cy="293.8" r="2.78"/><circle cx="300.0" cy="297.5" r="2.78"/><circle cx="301.2" cy="302.5" r="2.78"/><circle cx="307.5" cy="297.5" r="2.78"/><circle cx="308.8" cy="302.5" r="2.78"/><circle cx="310.0" cy="307.5" r="2.78"/><circle cx="302.5" cy="307.5" r="2.78"/><circle cx="300.6" cy="311.2" r="2.78"/><circle cx="305.0" cy="311.2" r="2.78"/><circle cx="303.8" cy="316.2" r="2.78"/><circle cx="326.9" cy="320.6" r="2.78"/><circle cx="327.5" cy="324.4" r="2.78"/><circle cx="326.2" cy="326.2" r="2.78"/><circle cx="316.9" cy="323.1" r="2.78"/><circle cx="315.0" cy="326.2" r="2.78"/><circle cx="313.1" cy="328.8" r="2.78"/><circle cx="316.9" cy="330.0" r="2.78"/><circle cx="313.8" cy="332.5" r="2.78"/><circle cx="318.8" cy="333.1" r="2.78"/><circle cx="316.2" cy="336.9" r="2.78"/><circle cx="326.9" cy="335.0" r="2.78"/><circle cx="326.2" cy="339.4" r="2.78"/><circle cx="315.0" cy="342.5" r="2.78"/><circle cx="320.0" cy="341.2" r="2.78"/><circle cx="323.8" cy="340.0" r="2.78"/><circle cx="325.6" cy="343.8" r="2.78"/><circle cx="318.8" cy="347.5" r="2.78"/><circle cx="323.8" cy="348.8" r="2.78"/><circle cx="321.9" cy="345.0" r="2.78"/><circle cx="306.2" cy="275.0" r="2.78"/><circle cx="303.8" cy="278.8" r="2.78"/><circle cx="305.6" cy="283.1" r="2.78"/><circle cx="308.1" cy="285.0" r="2.78"/><circle cx="305.0" cy="287.5" r="2.78"/><circle cx="307.5" cy="288.8" r="2.78"/><circle cx="328.1" cy="285.0" r="2.78"/><circle cx="328.1" cy="275.0" r="2.78"/><circle cx="330.0" cy="266.2" r="2.78"/><circle cx="333.1" cy="268.8" r="2.78"/><circle cx="331.2" cy="262.5" r="2.78"/><circle cx="333.8" cy="264.4" r="2.78"/><circle cx="330.6" cy="257.5" r="2.78"/><circle cx="333.8" cy="258.8" r="2.78"/><circle cx="330.0" cy="255.0" r="2.78"/><circle cx="328.8" cy="280.0" r="2.78"/><circle cx="336.2" cy="226.2" r="2.78"/><circle cx="334.4" cy="234.4" r="2.78"/><circle cx="335.0" cy="237.5" r="2.78"/><circle cx="333.8" cy="243.8" r="2.78"/><circle cx="337.5" cy="246.2" r="2.78"/><circle cx="340.0" cy="250.0" r="2.78"/><circle cx="342.5" cy="246.2" r="2.78"/><circle cx="341.2" cy="242.5" r="2.78"/><circle cx="338.8" cy="240.0" r="2.78"/><circle cx="342.5" cy="237.5" r="2.78"/><circle cx="347.5" cy="247.5" r="2.78"/><circle cx="347.5" cy="250.0" r="2.78"/><circle cx="346.2" cy="240.0" r="2.78"/><circle cx="348.8" cy="237.5" r="2.78"/><circle cx="343.8" cy="233.8" r="2.78"/><circle cx="347.5" cy="232.5" r="2.78"/><circle cx="348.8" cy="230.0" r="2.78"/><circle cx="343.8" cy="228.8" r="2.78"/><circle cx="341.9" cy="224.4" r="2.78"/><circle cx="348.1" cy="225.0" r="2.78"/><circle cx="345.0" cy="223.8" r="2.78"/><circle cx="343.1" cy="216.2" r="2.78"/><circle cx="345.0" cy="218.1" r="2.78"/><circle cx="357.5" cy="216.2" r="2.78"/><circle cx="360.0" cy="217.5" r="2.78"/><circle cx="356.9" cy="223.1" r="2.78"/><circle cx="358.8" cy="224.4" r="2.78"/><circle cx="350.6" cy="170.0" r="2.78"/><circle cx="350.0" cy="175.6" r="2.78"/><circle cx="351.2" cy="177.5" r="2.78"/><circle cx="350.0" cy="183.8" r="2.78"/><circle cx="353.1" cy="185.6" r="2.78"/><circle cx="350.0" cy="191.2" r="2.78"/><circle cx="348.1" cy="193.1" r="2.78"/><circle cx="353.8" cy="196.2" r="2.78"/><circle cx="355.0" cy="201.9" r="2.78"/><circle cx="352.5" cy="202.5" r="2.78"/><circle cx="353.1" cy="207.5" r="2.78"/><circle cx="343.1" cy="209.4" r="2.78"/><circle cx="342.5" cy="213.1" r="2.78"/><circle cx="349.4" cy="211.2" r="2.78"/><circle cx="357.5" cy="211.2" r="2.78"/><circle cx="360.0" cy="208.8" r="2.78"/><circle cx="356.2" cy="214.4" r="2.78"/><circle cx="366.2" cy="163.1" r="2.78"/><circle cx="375.0" cy="163.1" r="2.78"/><circle cx="371.2" cy="167.5" r="2.78"/><circle cx="373.8" cy="170.0" r="2.78"/><circle cx="369.4" cy="172.5" r="2.78"/><circle cx="372.5" cy="175.0" r="2.78"/><circle cx="375.6" cy="175.6" r="2.78"/><circle cx="371.2" cy="180.0" r="2.78"/><circle cx="375.0" cy="155.0" r="2.78"/><circle cx="372.5" cy="152.5" r="2.78"/><circle cx="365.0" cy="145.6" r="2.78"/><circle cx="368.1" cy="147.5" r="2.78"/><circle cx="366.2" cy="150.6" r="2.78"/><circle cx="370.0" cy="150.0" r="2.78"/><circle cx="371.2" cy="145.0" r="2.78"/><circle cx="373.8" cy="142.5" r="2.78"/><circle cx="375.0" cy="147.5" r="2.78"/><circle cx="381.9" cy="145.6" r="2.78"/><circle cx="381.2" cy="151.2" r="2.78"/><circle cx="381.2" cy="155.0" r="2.78"/><circle cx="386.2" cy="150.0" r="2.78"/><circle cx="389.4" cy="154.4" r="2.78"/><circle cx="383.8" cy="157.5" r="2.78"/><circle cx="387.5" cy="158.8" r="2.78"/><circle cx="382.5" cy="162.5" r="2.78"/><circle cx="385.0" cy="163.8" r="2.78"/><circle cx="388.1" cy="142.5" r="2.78"/><circle cx="390.6" cy="141.2" r="2.78"/><circle cx="422.5" cy="147.5" r="2.78"/><circle cx="423.8" cy="143.1" r="2.78"/><circle cx="427.5" cy="141.2" r="2.78"/><circle cx="422.5" cy="155.0" r="2.78"/><circle cx="422.5" cy="160.6" r="2.78"/><circle cx="426.9" cy="163.1" r="2.78"/><circle cx="427.5" cy="166.9" r="2.78"/><circle cx="430.0" cy="170.6" r="2.78"/><circle cx="428.8" cy="174.4" r="2.78"/><circle cx="430.0" cy="177.5" r="2.78"/><circle cx="431.2" cy="181.2" r="2.78"/><circle cx="428.1" cy="185.6" r="2.78"/><circle cx="428.8" cy="187.5" r="2.78"/><circle cx="431.2" cy="142.5" r="2.78"/><circle cx="435.0" cy="143.8" r="2.78"/><circle cx="438.8" cy="142.5" r="2.78"/><circle cx="443.1" cy="141.2" r="2.78"/><circle cx="431.2" cy="150.0" r="2.78"/><circle cx="433.8" cy="153.8" r="2.78"/><circle cx="437.5" cy="156.2" r="2.78"/><circle cx="440.6" cy="153.1" r="2.78"/><circle cx="440.0" cy="148.8" r="2.78"/><circle cx="436.2" cy="148.8" r="2.78"/><circle cx="443.8" cy="147.5" r="2.78"/><circle cx="364.4" cy="120.6" r="2.78"/><circle cx="361.9" cy="128.1" r="2.78"/><circle cx="368.1" cy="126.2" r="2.78"/><circle cx="363.8" cy="136.2" r="2.78"/><circle cx="368.8" cy="135.0" r="2.78"/><circle cx="373.1" cy="138.8" r="2.78"/><circle cx="377.5" cy="108.8" r="2.78"/><circle cx="380.0" cy="112.5" r="2.78"/><circle cx="380.6" cy="116.2" r="2.78"/><circle cx="376.9" cy="120.6" r="2.78"/><circle cx="380.0" cy="127.5" r="2.78"/><circle cx="376.9" cy="128.8" r="2.78"/><circle cx="381.2" cy="135.0" r="2.78"/><circle cx="395.0" cy="67.5" r="2.78"/><circle cx="395.0" cy="71.2" r="2.78"/><circle cx="395.0" cy="75.0" r="2.78"/><circle cx="402.5" cy="70.6" r="2.78"/><circle cx="402.5" cy="74.4" r="2.78"/><circle cx="391.9" cy="80.0" r="2.78"/><circle cx="398.1" cy="80.6" r="2.78"/><circle cx="401.9" cy="81.2" r="2.78"/><circle cx="391.2" cy="86.2" r="2.78"/><circle cx="395.0" cy="86.2" r="2.78"/><circle cx="400.0" cy="87.5" r="2.78"/><circle cx="405.0" cy="88.1" r="2.78"/><circle cx="392.5" cy="91.2" r="2.78"/><circle cx="396.2" cy="91.9" r="2.78"/><circle cx="400.0" cy="95.0" r="2.78"/><circle cx="393.1" cy="96.2" r="2.78"/><circle cx="392.5" cy="100.0" r="2.78"/><circle cx="391.2" cy="104.4" r="2.78"/><circle cx="398.1" cy="106.2" r="2.78"/><circle cx="405.0" cy="103.8" r="2.78"/><circle cx="407.5" cy="98.8" r="2.78"/><circle cx="403.8" cy="107.5" r="2.78"/><circle cx="391.2" cy="112.5" r="2.78"/><circle cx="398.8" cy="112.5" r="2.78"/><circle cx="401.9" cy="113.1" r="2.78"/><circle cx="388.8" cy="119.4" r="2.78"/><circle cx="398.1" cy="118.8" r="2.78"/><circle cx="403.8" cy="118.8" r="2.78"/><circle cx="387.5" cy="126.2" r="2.78"/><circle cx="390.0" cy="130.0" r="2.78"/><circle cx="388.1" cy="134.4" r="2.78"/><circle cx="412.5" cy="66.9" r="2.78"/><circle cx="415.6" cy="67.5" r="2.78"/><circle cx="413.8" cy="70.0" r="2.78"/><circle cx="413.1" cy="81.2" r="2.78"/><circle cx="417.5" cy="81.2" r="2.78"/><circle cx="413.1" cy="85.0" r="2.78"/><circle cx="415.6" cy="86.9" r="2.78"/><circle cx="412.5" cy="93.1" r="2.78"/><circle cx="419.4" cy="92.5" r="2.78"/><circle cx="414.4" cy="97.5" r="2.78"/><circle cx="419.4" cy="97.5" r="2.78"/><circle cx="418.1" cy="106.9" r="2.78"/><circle cx="418.8" cy="108.8" r="2.78"/><circle cx="419.4" cy="116.2" r="2.78"/><circle cx="420.0" cy="120.0" r="2.78"/><circle cx="422.5" cy="123.8" r="2.78"/><circle cx="425.0" cy="126.2" r="2.78"/><circle cx="421.9" cy="133.8" r="2.78"/><circle cx="425.0" cy="130.0" r="2.78"/><circle cx="422.5" cy="137.5" r="2.78"/><circle cx="426.2" cy="137.5" r="2.78"/><circle cx="442.5" cy="118.1" r="2.78"/><circle cx="441.2" cy="122.5" r="2.78"/><circle cx="448.8" cy="126.2" r="2.78"/><circle cx="433.8" cy="128.8" r="2.78"/><circle cx="437.5" cy="130.0" r="2.78"/><circle cx="442.5" cy="127.5" r="2.78"/><circle cx="431.2" cy="133.8" r="2.78"/><circle cx="436.2" cy="135.0" r="2.78"/><circle cx="441.2" cy="135.0" r="2.78"/><circle cx="446.2" cy="133.8" r="2.78"/><circle cx="432.5" cy="138.8" r="2.78"/><circle cx="437.5" cy="138.8" r="2.78"/><circle cx="443.8" cy="138.8" r="2.78"/><circle cx="467.5" cy="115.0" r="2.78"/><circle cx="466.2" cy="120.0" r="2.78"/><circle cx="471.9" cy="118.8" r="2.78"/><circle cx="466.2" cy="125.0" r="2.78"/><circle cx="465.0" cy="130.0" r="2.78"/><circle cx="464.4" cy="133.8" r="2.78"/><circle cx="466.9" cy="136.2" r="2.78"/><circle cx="475.0" cy="133.8" r="2.78"/><circle cx="466.9" cy="115.0" r="2.78"/><circle cx="470.0" cy="116.9" r="2.78"/><circle cx="474.4" cy="118.8" r="2.78"/><circle cx="466.9" cy="119.4" r="2.78"/><circle cx="467.5" cy="123.1" r="2.78"/><circle cx="466.9" cy="126.2" r="2.78"/><circle cx="465.6" cy="130.0" r="2.78"/><circle cx="464.4" cy="133.1" r="2.78"/><circle cx="466.2" cy="136.9" r="2.78"/><circle cx="475.6" cy="133.1" r="2.78"/><circle cx="475.6" cy="138.1" r="2.78"/><circle cx="475.6" cy="143.8" r="2.78"/><circle cx="476.2" cy="147.5" r="2.78"/><circle cx="476.2" cy="150.6" r="2.78"/><circle cx="464.4" cy="146.2" r="2.78"/><circle cx="461.2" cy="148.8" r="2.78"/><circle cx="477.5" cy="157.5" r="2.78"/><circle cx="476.2" cy="161.2" r="2.78"/><circle cx="477.5" cy="171.9" r="2.78"/><circle cx="440.0" cy="116.2" r="2.78"/><circle cx="441.2" cy="120.0" r="2.78"/><circle cx="442.5" cy="125.0" r="2.78"/><circle cx="448.8" cy="126.2" r="2.78"/><circle cx="440.0" cy="131.2" r="2.78"/><circle cx="443.8" cy="133.8" r="2.78"/><circle cx="445.0" cy="138.8" r="2.78"/><circle cx="448.1" cy="141.2" r="2.78"/><circle cx="440.0" cy="143.8" r="2.78"/><circle cx="445.6" cy="147.5" r="2.78"/><circle cx="450.0" cy="150.0" r="2.78"/><circle cx="453.8" cy="151.2" r="2.78"/><circle cx="457.5" cy="152.5" r="2.78"/><circle cx="461.2" cy="156.2" r="2.78"/><circle cx="449.4" cy="157.5" r="2.78"/><circle cx="453.8" cy="158.1" r="2.78"/><circle cx="458.1" cy="160.0" r="2.78"/><circle cx="440.0" cy="153.8" r="2.78"/><circle cx="440.0" cy="161.2" r="2.78"/><circle cx="452.5" cy="162.5" r="2.78"/><circle cx="457.5" cy="162.5" r="2.78"/><circle cx="460.0" cy="165.0" r="2.78"/><circle cx="453.8" cy="167.5" r="2.78"/><circle cx="457.5" cy="172.5" r="2.78"/><circle cx="455.0" cy="168.8" r="2.78"/><circle cx="496.2" cy="103.8" r="2.78"/><circle cx="496.9" cy="108.1" r="2.78"/><circle cx="496.9" cy="112.5" r="2.78"/><circle cx="497.5" cy="115.6" r="2.78"/><circle cx="495.0" cy="120.0" r="2.78"/><circle cx="495.0" cy="123.1" r="2.78"/><circle cx="498.8" cy="126.2" r="2.78"/><circle cx="501.9" cy="128.1" r="2.78"/><circle cx="500.6" cy="132.5" r="2.78"/><circle cx="491.2" cy="131.9" r="2.78"/><circle cx="491.2" cy="136.2" r="2.78"/><circle cx="495.0" cy="136.2" r="2.78"/><circle cx="499.4" cy="137.5" r="2.78"/><circle cx="502.5" cy="140.0" r="2.78"/><circle cx="508.1" cy="138.1" r="2.78"/><circle cx="492.5" cy="140.0" r="2.78"/><circle cx="494.4" cy="143.1" r="2.78"/><circle cx="490.0" cy="146.9" r="2.78"/><circle cx="506.2" cy="143.1" r="2.78"/><circle cx="508.1" cy="146.9" r="2.78"/><circle cx="502.5" cy="147.5" r="2.78"/><circle cx="505.0" cy="151.2" r="2.78"/><circle cx="504.4" cy="155.0" r="2.78"/><circle cx="505.0" cy="160.6" r="2.78"/><circle cx="491.2" cy="160.0" r="2.78"/><circle cx="490.0" cy="163.8" r="2.78"/><circle cx="489.4" cy="168.1" r="2.78"/><circle cx="487.5" cy="171.9" r="2.78"/><circle cx="503.8" cy="168.8" r="2.78"/><circle cx="503.1" cy="172.5" r="2.78"/><circle cx="508.1" cy="166.2" r="2.78"/><circle cx="510.0" cy="168.8" r="2.78"/><circle cx="511.2" cy="172.5" r="2.78"/><circle cx="508.1" cy="173.8" r="2.78"/><circle cx="523.1" cy="120.6" r="2.78"/><circle cx="526.2" cy="123.8" r="2.78"/><circle cx="523.8" cy="126.2" r="2.78"/><circle cx="525.0" cy="129.4" r="2.78"/><circle cx="520.0" cy="129.4" r="2.78"/><circle cx="521.2" cy="131.9" r="2.78"/><circle cx="518.8" cy="136.2" r="2.78"/><circle cx="520.6" cy="138.8" r="2.78"/><circle cx="518.1" cy="142.5" r="2.78"/><circle cx="516.2" cy="145.0" r="2.78"/><circle cx="516.9" cy="149.4" r="2.78"/><circle cx="514.4" cy="150.6" r="2.78"/><circle cx="518.1" cy="152.5" r="2.78"/><circle cx="516.9" cy="155.6" r="2.78"/><circle cx="525.6" cy="143.1" r="2.78"/><circle cx="526.2" cy="148.8" r="2.78"/><circle cx="526.9" cy="151.2" r="2.78"/><circle cx="526.2" cy="155.0" r="2.78"/><circle cx="526.2" cy="158.8" r="2.78"/><circle cx="526.2" cy="165.0" r="2.78"/><circle cx="527.5" cy="171.9" r="2.78"/><circle cx="515.0" cy="163.1" r="2.78"/><circle cx="513.8" cy="170.0" r="2.78"/><circle cx="516.2" cy="173.8" r="2.78"/><circle cx="453.8" cy="177.5" r="2.78"/><circle cx="456.2" cy="175.0" r="2.78"/><circle cx="487.5" cy="178.1" r="2.78"/><circle cx="487.5" cy="182.5" r="2.78"/><circle cx="481.2" cy="185.6" r="2.78"/><circle cx="477.5" cy="187.5" r="2.78"/><circle cx="486.2" cy="191.2" r="2.78"/><circle cx="482.5" cy="194.4" r="2.78"/><circle cx="485.0" cy="198.1" r="2.78"/><circle cx="486.2" cy="201.9" r="2.78"/><circle cx="485.0" cy="204.4" r="2.78"/><circle cx="481.2" cy="208.1" r="2.78"/><circle cx="483.8" cy="211.2" r="2.78"/><circle cx="480.6" cy="212.5" r="2.78"/><circle cx="483.1" cy="226.2" r="2.78"/><circle cx="480.6" cy="229.4" r="2.78"/><circle cx="485.6" cy="228.8" r="2.78"/><circle cx="483.8" cy="233.8" r="2.78"/><circle cx="502.5" cy="179.4" r="2.78"/><circle cx="505.6" cy="180.6" r="2.78"/><circle cx="512.5" cy="180.0" r="2.78"/><circle cx="508.8" cy="176.2" r="2.78"/><circle cx="515.0" cy="176.9" r="2.78"/><circle cx="528.1" cy="181.2" r="2.78"/><circle cx="528.8" cy="187.5" r="2.78"/><circle cx="531.2" cy="191.2" r="2.78"/><circle cx="528.1" cy="193.8" r="2.78"/><circle cx="531.9" cy="195.6" r="2.78"/><circle cx="529.4" cy="200.6" r="2.78"/><circle cx="531.2" cy="211.2" r="2.78"/><circle cx="536.2" cy="212.5" r="2.78"/><circle cx="532.5" cy="216.2" r="2.78"/><circle cx="537.5" cy="217.5" r="2.78"/><circle cx="533.8" cy="221.2" r="2.78"/><circle cx="538.8" cy="221.9" r="2.78"/><circle cx="535.6" cy="223.8" r="2.78"/><circle cx="541.9" cy="223.1" r="2.78"/><circle cx="540.0" cy="227.5" r="2.78"/><circle cx="543.8" cy="230.0" r="2.78"/><circle cx="540.0" cy="232.5" r="2.78"/><circle cx="543.8" cy="235.0" r="2.78"/><circle cx="545.0" cy="232.5" r="2.78"/><circle cx="550.6" cy="243.1" r="2.78"/><circle cx="546.2" cy="247.5" r="2.78"/><circle cx="553.8" cy="246.2" r="2.78"/><circle cx="558.1" cy="223.8" r="2.78"/><circle cx="560.0" cy="228.8" r="2.78"/><circle cx="558.1" cy="232.5" r="2.78"/><circle cx="561.2" cy="235.0" r="2.78"/><circle cx="558.8" cy="238.8" r="2.78"/><circle cx="563.8" cy="241.2" r="2.78"/><circle cx="540.0" cy="221.2" r="2.78"/><circle cx="541.9" cy="225.0" r="2.78"/><circle cx="543.1" cy="229.4" r="2.78"/><circle cx="543.8" cy="232.5" r="2.78"/><circle cx="544.4" cy="235.6" r="2.78"/><circle cx="540.0" cy="231.2" r="2.78"/><circle cx="550.6" cy="242.5" r="2.78"/><circle cx="545.6" cy="248.1" r="2.78"/><circle cx="552.5" cy="246.2" r="2.78"/><circle cx="547.5" cy="251.9" r="2.78"/><circle cx="553.8" cy="251.2" r="2.78"/><circle cx="556.2" cy="252.5" r="2.78"/><circle cx="550.0" cy="255.0" r="2.78"/><circle cx="554.4" cy="256.9" r="2.78"/><circle cx="548.1" cy="261.2" r="2.78"/><circle cx="555.0" cy="263.1" r="2.78"/><circle cx="555.6" cy="260.0" r="2.78"/><circle cx="565.0" cy="220.0" r="2.78"/><circle cx="566.9" cy="221.2" r="2.78"/><circle cx="558.1" cy="223.8" r="2.78"/><circle cx="558.8" cy="227.5" r="2.78"/><circle cx="560.0" cy="231.2" r="2.78"/><circle cx="558.8" cy="235.0" r="2.78"/><circle cx="561.9" cy="236.2" r="2.78"/><circle cx="563.1" cy="226.2" r="2.78"/><circle cx="560.6" cy="238.8" r="2.78"/><circle cx="568.1" cy="236.2" r="2.78"/><circle cx="567.5" cy="243.1" r="2.78"/><circle cx="570.6" cy="232.5" r="2.78"/><circle cx="573.8" cy="236.2" r="2.78"/><circle cx="571.9" cy="240.0" r="2.78"/><circle cx="573.1" cy="244.4" r="2.78"/><circle cx="573.8" cy="249.4" r="2.78"/><circle cx="576.2" cy="242.5" r="2.78"/><circle cx="576.2" cy="232.5" r="2.78"/><circle cx="577.5" cy="225.0" r="2.78"/><circle cx="580.0" cy="227.5" r="2.78"/><circle cx="581.9" cy="231.2" r="2.78"/><circle cx="583.1" cy="238.1" r="2.78"/><circle cx="580.0" cy="238.8" r="2.78"/><circle cx="578.8" cy="243.8" r="2.78"/><circle cx="582.5" cy="245.0" r="2.78"/><circle cx="586.2" cy="241.2" r="2.78"/><circle cx="585.0" cy="247.5" r="2.78"/><circle cx="581.2" cy="250.0" r="2.78"/><circle cx="588.8" cy="246.2" r="2.78"/><circle cx="587.5" cy="251.2" r="2.78"/><circle cx="590.0" cy="250.0" r="2.78"/><circle cx="585.0" cy="256.2" r="2.78"/><circle cx="586.2" cy="253.1" r="2.78"/><circle cx="593.8" cy="250.0" r="2.78"/><circle cx="592.5" cy="255.0" r="2.78"/><circle cx="591.9" cy="259.4" r="2.78"/><circle cx="591.2" cy="263.1" r="2.78"/><circle cx="591.2" cy="266.2" r="2.78"/><circle cx="598.1" cy="221.2" r="2.78"/><circle cx="597.5" cy="225.0" r="2.78"/><circle cx="596.9" cy="228.8" r="2.78"/><circle cx="600.0" cy="230.0" r="2.78"/><circle cx="601.2" cy="233.8" r="2.78"/><circle cx="596.2" cy="233.8" r="2.78"/><circle cx="595.0" cy="237.5" r="2.78"/><circle cx="605.0" cy="232.5" r="2.78"/><circle cx="608.8" cy="236.2" r="2.78"/><circle cx="605.0" cy="238.8" r="2.78"/><circle cx="608.1" cy="242.5" r="2.78"/><circle cx="609.4" cy="246.2" r="2.78"/><circle cx="606.2" cy="247.5" r="2.78"/><circle cx="605.6" cy="250.6" r="2.78"/><circle cx="602.5" cy="240.0" r="2.78"/><circle cx="598.8" cy="238.8" r="2.78"/><circle cx="610.0" cy="253.8" r="2.78"/><circle cx="608.8" cy="257.5" r="2.78"/><circle cx="611.9" cy="260.0" r="2.78"/><circle cx="612.5" cy="263.8" r="2.78"/><circle cx="613.8" cy="266.9" r="2.78"/><circle cx="591.9" cy="258.8" r="2.78"/><circle cx="591.9" cy="265.0" r="2.78"/><circle cx="609.4" cy="256.2" r="2.78"/><circle cx="611.2" cy="260.0" r="2.78"/><circle cx="612.5" cy="265.0" r="2.78"/><circle cx="613.8" cy="271.2" r="2.78"/><circle cx="617.5" cy="270.0" r="2.78"/><circle cx="616.9" cy="275.0" r="2.78"/><circle cx="621.2" cy="275.0" r="2.78"/><circle cx="623.8" cy="278.1" r="2.78"/><circle cx="619.4" cy="280.0" r="2.78"/><circle cx="613.8" cy="280.0" r="2.78"/><circle cx="622.5" cy="282.5" r="2.78"/><circle cx="613.8" cy="286.9" r="2.78"/><circle cx="618.1" cy="285.0" r="2.78"/><circle cx="623.1" cy="288.8" r="2.78"/><circle cx="665.0" cy="260.6" r="2.78"/><circle cx="665.0" cy="264.4" r="2.78"/><circle cx="665.0" cy="267.5" r="2.78"/><circle cx="662.5" cy="271.2" r="2.78"/><circle cx="663.8" cy="274.4" r="2.78"/><circle cx="666.9" cy="273.8" r="2.78"/><circle cx="662.5" cy="280.0" r="2.78"/><circle cx="661.9" cy="284.4" r="2.78"/><circle cx="661.2" cy="288.1" r="2.78"/><circle cx="668.8" cy="278.1" r="2.78"/><circle cx="671.2" cy="281.9" r="2.78"/><circle cx="667.5" cy="285.0" r="2.78"/><circle cx="672.5" cy="285.0" r="2.78"/><circle cx="675.6" cy="285.6" r="2.78"/><circle cx="670.0" cy="290.0" r="2.78"/><circle cx="673.8" cy="291.2" r="2.78"/><circle cx="676.2" cy="289.4" r="2.78"/><circle cx="676.2" cy="298.8" r="2.78"/><circle cx="677.5" cy="302.5" r="2.78"/><circle cx="676.2" cy="306.9" r="2.78"/><circle cx="680.0" cy="305.0" r="2.78"/><circle cx="685.0" cy="300.0" r="2.78"/><circle cx="686.2" cy="305.0" r="2.78"/><circle cx="682.5" cy="308.8" r="2.78"/><circle cx="687.5" cy="311.2" r="2.78"/><circle cx="691.2" cy="305.0" r="2.78"/><circle cx="690.0" cy="310.0" r="2.78"/><circle cx="692.5" cy="313.8" r="2.78"/><circle cx="695.0" cy="316.2" r="2.78"/><circle cx="690.0" cy="316.2" r="2.78"/><circle cx="697.5" cy="310.0" r="2.78"/><circle cx="698.8" cy="305.0" r="2.78"/><circle cx="697.5" cy="298.1" r="2.78"/><circle cx="698.8" cy="300.0" r="2.78"/><circle cx="623.8" cy="323.1" r="2.78"/><circle cx="624.4" cy="327.5" r="2.78"/><circle cx="625.6" cy="331.2" r="2.78"/><circle cx="626.9" cy="335.6" r="2.78"/><circle cx="626.2" cy="339.4" r="2.78"/><circle cx="626.2" cy="343.1" r="2.78"/><circle cx="630.6" cy="317.5" r="2.78"/><circle cx="628.8" cy="320.6" r="2.78"/><circle cx="633.8" cy="315.0" r="2.78"/><circle cx="638.1" cy="313.1" r="2.78"/><circle cx="640.6" cy="311.9" r="2.78"/><circle cx="628.8" cy="325.0" r="2.78"/><circle cx="633.8" cy="326.2" r="2.78"/><circle cx="633.8" cy="330.0" r="2.78"/><circle cx="635.0" cy="333.1" r="2.78"/><circle cx="631.2" cy="322.5" r="2.78"/><circle cx="637.5" cy="318.8" r="2.78"/><circle cx="640.0" cy="321.2" r="2.78"/><circle cx="645.0" cy="317.5" r="2.78"/><circle cx="648.8" cy="316.2" r="2.78"/><circle cx="652.5" cy="313.8" r="2.78"/><circle cx="655.0" cy="307.5" r="2.78"/><circle cx="658.1" cy="306.2" r="2.78"/><circle cx="660.0" cy="305.0" r="2.78"/><circle cx="660.6" cy="311.2" r="2.78"/><circle cx="660.0" cy="315.0" r="2.78"/><circle cx="657.5" cy="320.0" r="2.78"/><circle cx="653.8" cy="318.8" r="2.78"/><circle cx="650.0" cy="321.2" r="2.78"/><circle cx="646.2" cy="322.5" r="2.78"/><circle cx="643.8" cy="325.6" r="2.78"/><circle cx="652.5" cy="325.0" r="2.78"/><circle cx="656.2" cy="323.1" r="2.78"/><circle cx="641.2" cy="317.5" r="2.78"/><circle cx="647.5" cy="325.6" r="2.78"/><circle cx="653.8" cy="321.9" r="2.78"/><circle cx="700.6" cy="293.8" r="2.78"/><circle cx="698.8" cy="297.5" r="2.78"/><circle cx="701.9" cy="302.5" r="2.78"/><circle cx="697.5" cy="305.0" r="2.78"/><circle cx="693.8" cy="306.2" r="2.78"/><circle cx="696.2" cy="310.0" r="2.78"/><circle cx="692.5" cy="312.5" r="2.78"/><circle cx="695.0" cy="316.2" r="2.78"/><circle cx="690.0" cy="305.0" r="2.78"/><circle cx="690.0" cy="313.8" r="2.78"/><circle cx="706.9" cy="313.8" r="2.78"/><circle cx="708.8" cy="316.2" r="2.78"/><circle cx="701.9" cy="321.9" r="2.78"/><circle cx="703.1" cy="328.1" r="2.78"/><circle cx="711.2" cy="320.0" r="2.78"/><circle cx="716.2" cy="318.8" r="2.78"/><circle cx="720.6" cy="312.5" r="2.78"/><circle cx="718.1" cy="316.2" r="2.78"/><circle cx="716.9" cy="323.8" r="2.78"/><circle cx="715.0" cy="327.5" r="2.78"/><circle cx="716.9" cy="331.2" r="2.78"/><circle cx="716.2" cy="335.0" r="2.78"/><circle cx="717.5" cy="327.5" r="2.78"/><circle cx="721.2" cy="315.0" r="2.78"/><circle cx="727.5" cy="311.9" r="2.78"/><circle cx="731.2" cy="317.5" r="2.78"/><circle cx="730.0" cy="322.5" r="2.78"/><circle cx="731.2" cy="327.5" r="2.78"/><circle cx="733.1" cy="328.8" r="2.78"/><circle cx="735.0" cy="321.2" r="2.78"/><circle cx="738.8" cy="318.8" r="2.78"/><circle cx="741.2" cy="315.0" r="2.78"/><circle cx="733.8" cy="316.2" r="2.78"/><circle cx="741.9" cy="329.4" r="2.78"/><circle cx="741.9" cy="325.0" r="2.78"/><circle cx="745.0" cy="322.5" r="2.78"/><circle cx="748.8" cy="321.2" r="2.78"/><circle cx="748.8" cy="313.8" r="2.78"/><circle cx="752.5" cy="316.2" r="2.78"/><circle cx="751.2" cy="311.2" r="2.78"/><circle cx="755.6" cy="304.4" r="2.78"/><circle cx="756.9" cy="308.8" r="2.78"/><circle cx="757.5" cy="312.5" r="2.78"/><circle cx="758.1" cy="317.5" r="2.78"/><circle cx="759.4" cy="320.0" r="2.78"/><circle cx="755.0" cy="315.0" r="2.78"/><circle cx="746.9" cy="317.5" r="2.78"/><circle cx="761.9" cy="328.8" r="2.78"/><circle cx="762.5" cy="332.5" r="2.78"/><circle cx="762.5" cy="337.5" r="2.78"/><circle cx="764.4" cy="335.0" r="2.78"/><circle cx="766.2" cy="321.2" r="2.78"/><circle cx="770.0" cy="318.8" r="2.78"/><circle cx="767.5" cy="326.2" r="2.78"/><circle cx="771.2" cy="328.8" r="2.78"/><circle cx="772.5" cy="332.5" r="2.78"/><circle cx="773.8" cy="336.2" r="2.78"/><circle cx="777.5" cy="333.8" r="2.78"/><circle cx="778.8" cy="330.0" r="2.78"/><circle cx="780.6" cy="325.0" r="2.78"/><circle cx="776.2" cy="328.8" r="2.78"/><circle cx="765.0" cy="330.0" r="2.78"/><circle cx="780.6" cy="300.0" r="2.78"/><circle cx="780.0" cy="303.8" r="2.78"/><circle cx="783.1" cy="306.9" r="2.78"/><circle cx="785.0" cy="291.2" r="2.78"/><circle cx="783.8" cy="295.0" r="2.78"/><circle cx="787.5" cy="303.8" r="2.78"/><circle cx="790.0" cy="298.8" r="2.78"/><circle cx="792.5" cy="293.8" r="2.78"/><circle cx="792.5" cy="287.5" r="2.78"/><circle cx="795.0" cy="283.8" r="2.78"/><circle cx="797.5" cy="286.2" r="2.78"/><circle cx="800.6" cy="288.8" r="2.78"/><circle cx="798.8" cy="282.5" r="2.78"/><circle cx="793.8" cy="297.5" r="2.78"/><circle cx="795.0" cy="271.9" r="2.78"/><circle cx="793.8" cy="277.5" r="2.78"/><circle cx="796.2" cy="280.0" r="2.78"/><circle cx="793.1" cy="282.5" r="2.78"/><circle cx="798.1" cy="283.8" r="2.78"/><circle cx="800.0" cy="276.2" r="2.78"/><circle cx="801.2" cy="272.5" r="2.78"/><circle cx="798.8" cy="275.0" r="2.78"/><circle cx="801.9" cy="261.2" r="2.78"/><circle cx="801.9" cy="265.0" r="2.78"/><circle cx="803.1" cy="257.5" r="2.78"/><circle cx="804.4" cy="252.5" r="2.78"/><circle cx="805.0" cy="248.8" r="2.78"/><circle cx="806.2" cy="245.0" r="2.78"/><circle cx="808.1" cy="242.5" r="2.78"/><circle cx="810.6" cy="240.6" r="2.78"/><circle cx="805.6" cy="255.0" r="2.78"/><circle cx="803.8" cy="262.5" r="2.78"/><circle cx="808.8" cy="247.5" r="2.78"/><circle cx="814.4" cy="220.0" r="2.78"/><circle cx="812.5" cy="223.8" r="2.78"/><circle cx="815.0" cy="225.0" r="2.78"/><circle cx="810.6" cy="228.8" r="2.78"/><circle cx="809.4" cy="231.2" r="2.78"/><circle cx="813.8" cy="230.0" r="2.78"/><circle cx="816.9" cy="232.5" r="2.78"/><circle cx="815.0" cy="235.0" r="2.78"/><circle cx="818.8" cy="236.2" r="2.78"/><circle cx="816.2" cy="238.8" r="2.78"/><circle cx="819.4" cy="240.0" r="2.78"/><circle cx="824.4" cy="235.6" r="2.78"/><circle cx="825.0" cy="228.1" r="2.78"/><circle cx="818.1" cy="227.5" r="2.78"/><circle cx="818.8" cy="221.2" r="2.78"/><circle cx="821.2" cy="212.5" r="2.78"/><circle cx="825.0" cy="215.0" r="2.78"/><circle cx="822.5" cy="217.5" r="2.78"/><circle cx="826.2" cy="220.0" r="2.78"/><circle cx="828.8" cy="215.0" r="2.78"/><circle cx="832.5" cy="216.2" r="2.78"/><circle cx="820.6" cy="216.2" r="2.78"/><circle cx="830.0" cy="221.2" r="2.78"/><circle cx="826.2" cy="222.5" r="2.78"/><circle cx="833.1" cy="228.8" r="2.78"/><circle cx="836.2" cy="226.2" r="2.78"/><circle cx="837.5" cy="230.0" r="2.78"/><circle cx="833.8" cy="222.5" r="2.78"/><circle cx="840.0" cy="228.8" r="2.78"/><circle cx="841.2" cy="232.5" r="2.78"/><circle cx="845.0" cy="233.8" r="2.78"/><circle cx="848.8" cy="231.2" r="2.78"/><circle cx="851.9" cy="223.8" r="2.78"/><circle cx="850.0" cy="227.5" r="2.78"/><circle cx="853.1" cy="228.8" r="2.78"/><circle cx="841.2" cy="239.4" r="2.78"/><circle cx="845.0" cy="240.0" r="2.78"/><circle cx="847.5" cy="236.2" r="2.78"/><circle cx="851.2" cy="238.8" r="2.78"/><circle cx="853.8" cy="236.9" r="2.78"/><circle cx="842.5" cy="245.0" r="2.78"/><circle cx="843.8" cy="248.1" r="2.78"/><circle cx="850.0" cy="241.2" r="2.78"/><circle cx="854.4" cy="243.8" r="2.78"/><circle cx="856.2" cy="246.2" r="2.78"/><circle cx="858.1" cy="250.0" r="2.78"/><circle cx="858.1" cy="253.8" r="2.78"/><circle cx="858.8" cy="258.8" r="2.78"/><circle cx="860.6" cy="261.2" r="2.78"/><circle cx="857.5" cy="260.0" r="2.78"/><circle cx="852.5" cy="245.0" r="2.78"/><circle cx="861.2" cy="217.5" r="2.78"/><circle cx="865.0" cy="215.0" r="2.78"/><circle cx="860.6" cy="222.5" r="2.78"/><circle cx="866.2" cy="221.2" r="2.78"/><circle cx="868.8" cy="226.2" r="2.78"/><circle cx="867.5" cy="230.0" r="2.78"/><circle cx="871.2" cy="228.8" r="2.78"/><circle cx="870.0" cy="233.1" r="2.78"/><circle cx="873.8" cy="223.8" r="2.78"/><circle cx="875.0" cy="216.2" r="2.78"/><circle cx="876.2" cy="220.0" r="2.78"/><circle cx="879.4" cy="226.2" r="2.78"/><circle cx="880.0" cy="228.8" r="2.78"/><circle cx="877.5" cy="235.0" r="2.78"/><circle cx="878.8" cy="236.2" r="2.78"/><circle cx="872.5" cy="218.8" r="2.78"/><circle cx="870.0" cy="216.2" r="2.78"/><circle cx="863.8" cy="212.5" r="2.78"/><circle cx="830.6" cy="194.4" r="2.78"/><circle cx="830.0" cy="198.1" r="2.78"/><circle cx="831.2" cy="201.2" r="2.78"/><circle cx="828.8" cy="205.0" r="2.78"/><circle cx="825.0" cy="208.8" r="2.78"/><circle cx="821.2" cy="211.2" r="2.78"/><circle cx="828.8" cy="210.0" r="2.78"/><circle cx="881.2" cy="136.2" r="2.78"/><circle cx="881.2" cy="140.0" r="2.78"/><circle cx="881.2" cy="143.8" r="2.78"/><circle cx="880.6" cy="150.0" r="2.78"/><circle cx="881.9" cy="153.8" r="2.78"/><circle cx="881.2" cy="158.1" r="2.78"/><circle cx="879.4" cy="168.8" r="2.78"/><circle cx="878.8" cy="174.4" r="2.78"/><circle cx="883.1" cy="155.6" r="2.78"/><circle cx="895.0" cy="136.2" r="2.78"/><circle cx="893.1" cy="140.0" r="2.78"/><circle cx="896.9" cy="137.5" r="2.78"/><circle cx="891.2" cy="143.8" r="2.78"/><circle cx="893.8" cy="146.2" r="2.78"/><circle cx="890.0" cy="147.5" r="2.78"/><circle cx="891.9" cy="154.4" r="2.78"/><circle cx="891.2" cy="159.4" r="2.78"/><circle cx="890.6" cy="161.9" r="2.78"/><circle cx="886.2" cy="165.0" r="2.78"/><circle cx="888.8" cy="168.1" r="2.78"/><circle cx="885.0" cy="171.2" r="2.78"/><circle cx="887.5" cy="175.0" r="2.78"/><circle cx="886.9" cy="176.9" r="2.78"/><circle cx="884.4" cy="166.2" r="2.78"/><circle cx="925.6" cy="141.2" r="2.78"/><circle cx="928.1" cy="144.4" r="2.78"/><circle cx="926.2" cy="148.1" r="2.78"/><circle cx="922.5" cy="150.6" r="2.78"/><circle cx="920.6" cy="151.2" r="2.78"/><circle cx="920.0" cy="155.6" r="2.78"/><circle cx="921.2" cy="158.8" r="2.78"/><circle cx="921.2" cy="161.9" r="2.78"/><circle cx="920.0" cy="165.0" r="2.78"/><circle cx="919.4" cy="168.8" r="2.78"/><circle cx="922.5" cy="171.2" r="2.78"/><circle cx="928.1" cy="158.1" r="2.78"/><circle cx="928.8" cy="161.9" r="2.78"/><circle cx="930.0" cy="166.2" r="2.78"/><circle cx="931.2" cy="172.5" r="2.78"/><circle cx="915.4" cy="77.2" r="2.78"/><circle cx="914.4" cy="80.6" r="2.78"/><circle cx="911.2" cy="84.4" r="2.78"/><circle cx="915.0" cy="85.0" r="2.78"/><circle cx="911.9" cy="88.8" r="2.78"/><circle cx="915.6" cy="88.1" r="2.78"/><circle cx="917.5" cy="91.2" r="2.78"/><circle cx="908.8" cy="91.2" r="2.78"/><circle cx="904.4" cy="93.8" r="2.78"/><circle cx="907.5" cy="95.0" r="2.78"/><circle cx="911.2" cy="94.4" r="2.78"/><circle cx="917.5" cy="97.5" r="2.78"/><circle cx="915.0" cy="100.0" r="2.78"/><circle cx="918.1" cy="101.9" r="2.78"/><circle cx="916.9" cy="102.5" r="2.78"/><circle cx="908.8" cy="98.8" r="2.78"/><circle cx="903.8" cy="102.5" r="2.78"/><circle cx="906.2" cy="103.8" r="2.78"/><circle cx="900.0" cy="106.9" r="2.78"/><circle cx="908.1" cy="106.9" r="2.78"/><circle cx="903.8" cy="108.8" r="2.78"/><circle cx="899.4" cy="111.9" r="2.78"/><circle cx="902.5" cy="112.5" r="2.78"/><circle cx="900.0" cy="116.2" r="2.78"/><circle cx="901.2" cy="118.8" r="2.78"/><circle cx="900.2" cy="121.0" r="2.78"/><circle cx="251.1" cy="397.0" r="2.78"/><circle cx="252.2" cy="394.0" r="2.78"/><circle cx="252.8" cy="393.6" r="2.78"/><circle cx="253.2" cy="390.5" r="2.78"/><circle cx="253.8" cy="388.7" r="2.78"/><circle cx="254.6" cy="388.7" r="2.78"/><circle cx="254.7" cy="385.4" r="2.78"/><circle cx="254.8" cy="390.2" r="2.78"/><circle cx="255.1" cy="385.0" r="2.78"/><circle cx="256.8" cy="380.6" r="2.78"/><circle cx="256.7" cy="381.1" r="2.78"/><circle cx="256.6" cy="380.6" r="2.78"/><circle cx="257.1" cy="381.9" r="2.78"/><circle cx="257.9" cy="380.7" r="2.78"/><circle cx="257.2" cy="373.3" r="2.78"/><circle cx="258.4" cy="377.6" r="2.78"/><circle cx="258.4" cy="379.0" r="2.78"/><circle cx="258.6" cy="377.0" r="2.78"/><circle cx="259.2" cy="392.6" r="2.78"/><circle cx="259.6" cy="373.6" r="2.78"/><circle cx="261.1" cy="369.4" r="2.78"/><circle cx="262.3" cy="364.2" r="2.78"/><circle cx="263.4" cy="328.2" r="2.78"/><circle cx="264.1" cy="339.5" r="2.78"/><circle cx="264.7" cy="334.8" r="2.78"/><circle cx="264.3" cy="340.5" r="2.78"/><circle cx="265.1" cy="349.4" r="2.78"/><circle cx="265.7" cy="344.9" r="2.78"/><circle cx="266.9" cy="337.7" r="2.78"/><circle cx="266.1" cy="345.4" r="2.78"/><circle cx="267.1" cy="346.7" r="2.78"/><circle cx="267.8" cy="330.8" r="2.78"/><circle cx="268.5" cy="342.5" r="2.78"/><circle cx="269.8" cy="350.9" r="2.78"/><circle cx="269.0" cy="344.3" r="2.78"/><circle cx="269.4" cy="344.5" r="2.78"/><circle cx="270.5" cy="350.7" r="2.78"/><circle cx="272.5" cy="318.3" r="2.78"/><circle cx="272.7" cy="319.3" r="2.78"/><circle cx="273.4" cy="321.9" r="2.78"/><circle cx="273.9" cy="325.2" r="2.78"/><circle cx="274.8" cy="326.8" r="2.78"/><circle cx="274.5" cy="325.4" r="2.78"/><circle cx="275.7" cy="313.1" r="2.78"/><circle cx="275.4" cy="328.9" r="2.78"/><circle cx="276.6" cy="315.8" r="2.78"/><circle cx="277.5" cy="325.7" r="2.78"/><circle cx="277.5" cy="318.8" r="2.78"/><circle cx="277.8" cy="320.5" r="2.78"/><circle cx="279.8" cy="311.7" r="2.78"/><circle cx="279.6" cy="323.9" r="2.78"/><circle cx="280.1" cy="328.1" r="2.78"/><circle cx="280.3" cy="315.3" r="2.78"/><circle cx="281.4" cy="315.1" r="2.78"/><circle cx="281.1" cy="324.6" r="2.78"/><circle cx="281.5" cy="324.0" r="2.78"/><circle cx="282.3" cy="319.0" r="2.78"/><circle cx="282.5" cy="320.3" r="2.78"/><circle cx="283.4" cy="326.8" r="2.78"/><circle cx="283.0" cy="330.8" r="2.78"/><circle cx="284.8" cy="324.8" r="2.78"/><circle cx="284.5" cy="327.9" r="2.78"/><circle cx="284.9" cy="328.4" r="2.78"/><circle cx="285.6" cy="319.7" r="2.78"/><circle cx="285.8" cy="325.5" r="2.78"/><circle cx="286.7" cy="320.3" r="2.78"/><circle cx="286.6" cy="320.6" r="2.78"/><circle cx="287.9" cy="317.9" r="2.78"/><circle cx="287.8" cy="329.2" r="2.78"/><circle cx="289.5" cy="324.1" r="2.78"/><circle cx="289.1" cy="323.3" r="2.78"/><circle cx="289.8" cy="315.0" r="2.78"/><circle cx="289.7" cy="326.6" r="2.78"/><circle cx="291.1" cy="320.1" r="2.78"/><circle cx="291.8" cy="317.4" r="2.78"/><circle cx="291.6" cy="318.0" r="2.78"/><circle cx="292.9" cy="317.2" r="2.78"/><circle cx="293.9" cy="331.3" r="2.78"/><circle cx="294.0" cy="325.8" r="2.78"/><circle cx="294.3" cy="323.5" r="2.78"/><circle cx="295.0" cy="324.7" r="2.78"/><circle cx="295.6" cy="318.2" r="2.78"/><circle cx="295.1" cy="333.1" r="2.78"/><circle cx="296.1" cy="328.4" r="2.78"/><circle cx="297.8" cy="314.9" r="2.78"/><circle cx="297.7" cy="321.1" r="2.78"/><circle cx="298.7" cy="315.5" r="2.78"/><circle cx="298.2" cy="315.1" r="2.78"/><circle cx="299.9" cy="312.8" r="2.78"/><circle cx="299.2" cy="314.3" r="2.78"/><circle cx="299.9" cy="312.5" r="2.78"/><circle cx="301.1" cy="302.5" r="2.78"/><circle cx="302.5" cy="307.9" r="2.78"/><circle cx="302.8" cy="308.3" r="2.78"/><circle cx="303.8" cy="316.8" r="2.78"/><circle cx="304.8" cy="312.5" r="2.78"/><circle cx="304.8" cy="281.7" r="2.78"/><circle cx="304.9" cy="277.5" r="2.78"/><circle cx="307.0" cy="284.0" r="2.78"/><circle cx="306.4" cy="290.7" r="2.78"/><circle cx="307.4" cy="298.1" r="2.78"/><circle cx="308.9" cy="293.9" r="2.78"/><circle cx="309.1" cy="304.6" r="2.78"/><circle cx="309.1" cy="289.3" r="2.78"/><circle cx="309.4" cy="304.3" r="2.78"/><circle cx="310.6" cy="292.1" r="2.78"/><circle cx="311.9" cy="293.8" r="2.78"/><circle cx="311.7" cy="294.4" r="2.78"/><circle cx="311.6" cy="293.0" r="2.78"/><circle cx="312.8" cy="328.7" r="2.78"/><circle cx="312.4" cy="293.0" r="2.78"/><circle cx="313.2" cy="329.0" r="2.78"/><circle cx="314.4" cy="326.2" r="2.78"/><circle cx="314.1" cy="331.5" r="2.78"/><circle cx="314.4" cy="328.3" r="2.78"/><circle cx="315.9" cy="338.9" r="2.78"/><circle cx="317.3" cy="335.9" r="2.78"/><circle cx="317.0" cy="341.9" r="2.78"/><circle cx="318.0" cy="331.3" r="2.78"/><circle cx="318.7" cy="340.3" r="2.78"/><circle cx="319.1" cy="346.3" r="2.78"/><circle cx="319.7" cy="342.2" r="2.78"/><circle cx="319.2" cy="344.8" r="2.78"/><circle cx="320.5" cy="341.8" r="2.78"/><circle cx="320.4" cy="348.3" r="2.78"/><circle cx="321.4" cy="344.8" r="2.78"/><circle cx="321.8" cy="337.9" r="2.78"/><circle cx="322.2" cy="347.8" r="2.78"/><circle cx="322.6" cy="343.5" r="2.78"/><circle cx="322.2" cy="344.2" r="2.78"/><circle cx="323.4" cy="347.7" r="2.78"/><circle cx="324.5" cy="347.0" r="2.78"/><circle cx="324.1" cy="339.2" r="2.78"/><circle cx="324.3" cy="341.7" r="2.78"/><circle cx="325.9" cy="343.9" r="2.78"/><circle cx="325.4" cy="344.6" r="2.78"/><circle cx="327.9" cy="285.2" r="2.78"/><circle cx="329.4" cy="266.9" r="2.78"/><circle cx="329.0" cy="280.3" r="2.78"/><circle cx="329.7" cy="266.1" r="2.78"/><circle cx="331.6" cy="262.2" r="2.78"/><circle cx="331.2" cy="261.9" r="2.78"/><circle cx="332.9" cy="268.7" r="2.78"/><circle cx="332.9" cy="268.0" r="2.78"/><circle cx="332.2" cy="265.4" r="2.78"/><circle cx="332.8" cy="268.7" r="2.78"/><circle cx="334.8" cy="238.2" r="2.78"/><circle cx="334.5" cy="239.5" r="2.78"/><circle cx="335.6" cy="226.6" r="2.78"/><circle cx="335.8" cy="226.2" r="2.78"/><circle cx="336.7" cy="226.2" r="2.78"/><circle cx="336.7" cy="225.8" r="2.78"/><circle cx="336.9" cy="245.7" r="2.78"/><circle cx="337.2" cy="246.4" r="2.78"/><circle cx="337.4" cy="245.7" r="2.78"/><circle cx="338.1" cy="242.5" r="2.78"/><circle cx="338.5" cy="241.6" r="2.78"/><circle cx="339.6" cy="249.5" r="2.78"/><circle cx="339.3" cy="239.2" r="2.78"/><circle cx="339.7" cy="250.8" r="2.78"/><circle cx="340.7" cy="246.2" r="2.78"/><circle cx="340.1" cy="249.3" r="2.78"/><circle cx="341.6" cy="241.9" r="2.78"/><circle cx="344.8" cy="223.4" r="2.78"/><circle cx="344.0" cy="220.3" r="2.78"/><circle cx="344.3" cy="226.5" r="2.78"/><circle cx="345.8" cy="239.2" r="2.78"/><circle cx="346.9" cy="235.6" r="2.78"/><circle cx="346.6" cy="241.6" r="2.78"/><circle cx="349.1" cy="211.3" r="2.78"/><circle cx="349.1" cy="210.6" r="2.78"/><circle cx="351.5" cy="177.5" r="2.78"/><circle cx="351.2" cy="177.3" r="2.78"/><circle cx="352.7" cy="204.1" r="2.78"/><circle cx="352.8" cy="200.3" r="2.78"/><circle cx="354.8" cy="200.1" r="2.78"/><circle cx="354.0" cy="197.1" r="2.78"/><circle cx="354.5" cy="203.8" r="2.78"/><circle cx="356.0" cy="214.0" r="2.78"/><circle cx="355.7" cy="213.7" r="2.78"/><circle cx="356.8" cy="215.5" r="2.78"/><circle cx="357.8" cy="222.9" r="2.78"/><circle cx="357.9" cy="223.8" r="2.78"/><circle cx="358.2" cy="223.7" r="2.78"/><circle cx="358.3" cy="223.8" r="2.78"/><circle cx="359.6" cy="220.5" r="2.78"/><circle cx="359.5" cy="221.0" r="2.78"/><circle cx="360.0" cy="218.0" r="2.78"/><circle cx="361.2" cy="127.5" r="2.78"/><circle cx="362.3" cy="128.7" r="2.78"/><circle cx="363.1" cy="123.9" r="2.78"/><circle cx="363.9" cy="136.3" r="2.78"/><circle cx="364.2" cy="120.3" r="2.78"/><circle cx="364.8" cy="145.6" r="2.78"/><circle cx="365.7" cy="163.4" r="2.78"/><circle cx="365.4" cy="145.9" r="2.78"/><circle cx="366.9" cy="150.0" r="2.78"/><circle cx="367.5" cy="147.8" r="2.78"/><circle cx="367.7" cy="146.8" r="2.78"/><circle cx="367.8" cy="144.7" r="2.78"/><circle cx="369.3" cy="171.8" r="2.78"/><circle cx="369.9" cy="171.4" r="2.78"/><circle cx="370.8" cy="177.6" r="2.78"/><circle cx="371.9" cy="149.3" r="2.78"/><circle cx="373.0" cy="173.3" r="2.78"/><circle cx="375.0" cy="162.6" r="2.78"/><circle cx="374.6" cy="166.1" r="2.78"/><circle cx="374.7" cy="146.1" r="2.78"/><circle cx="374.2" cy="143.6" r="2.78"/><circle cx="377.0" cy="121.3" r="2.78"/><circle cx="377.8" cy="109.3" r="2.78"/><circle cx="377.7" cy="137.9" r="2.78"/><circle cx="379.2" cy="118.2" r="2.78"/><circle cx="379.4" cy="127.1" r="2.78"/><circle cx="382.9" cy="160.6" r="2.78"/><circle cx="382.1" cy="145.1" r="2.78"/><circle cx="383.5" cy="158.8" r="2.78"/><circle cx="384.0" cy="157.8" r="2.78"/><circle cx="384.5" cy="161.7" r="2.78"/><circle cx="384.7" cy="162.8" r="2.78"/><circle cx="384.2" cy="159.3" r="2.78"/><circle cx="385.7" cy="150.1" r="2.78"/><circle cx="385.1" cy="154.0" r="2.78"/><circle cx="387.8" cy="157.9" r="2.78"/><circle cx="389.4" cy="137.1" r="2.78"/><circle cx="389.8" cy="115.6" r="2.78"/><circle cx="389.3" cy="137.7" r="2.78"/><circle cx="390.7" cy="140.7" r="2.78"/><circle cx="392.4" cy="90.9" r="2.78"/><circle cx="393.4" cy="78.2" r="2.78"/><circle cx="393.2" cy="96.3" r="2.78"/><circle cx="394.9" cy="109.2" r="2.78"/><circle cx="394.2" cy="68.0" r="2.78"/><circle cx="394.9" cy="80.0" r="2.78"/><circle cx="396.1" cy="91.0" r="2.78"/><circle cx="396.2" cy="91.9" r="2.78"/><circle cx="396.5" cy="77.8" r="2.78"/><circle cx="398.0" cy="86.8" r="2.78"/><circle cx="397.6" cy="80.8" r="2.78"/><circle cx="397.3" cy="81.2" r="2.78"/><circle cx="399.5" cy="86.2" r="2.78"/><circle cx="399.1" cy="84.5" r="2.78"/><circle cx="399.2" cy="83.8" r="2.78"/><circle cx="399.8" cy="87.4" r="2.78"/><circle cx="400.1" cy="106.1" r="2.78"/><circle cx="401.5" cy="117.9" r="2.78"/><circle cx="402.4" cy="75.8" r="2.78"/><circle cx="404.9" cy="103.5" r="2.78"/><circle cx="405.0" cy="103.0" r="2.78"/><circle cx="404.7" cy="87.5" r="2.78"/><circle cx="405.9" cy="88.6" r="2.78"/><circle cx="406.8" cy="100.5" r="2.78"/><circle cx="406.8" cy="99.7" r="2.78"/><circle cx="406.4" cy="100.2" r="2.78"/><circle cx="407.5" cy="99.4" r="2.78"/><circle cx="407.2" cy="99.0" r="2.78"/><circle cx="408.7" cy="97.8" r="2.78"/><circle cx="408.6" cy="90.0" r="2.78"/><circle cx="408.7" cy="90.5" r="2.78"/><circle cx="409.9" cy="95.6" r="2.78"/><circle cx="409.8" cy="96.2" r="2.78"/><circle cx="410.5" cy="98.8" r="2.78"/><circle cx="410.1" cy="67.2" r="2.78"/><circle cx="410.6" cy="95.8" r="2.78"/><circle cx="412.9" cy="80.4" r="2.78"/><circle cx="414.2" cy="85.9" r="2.78"/><circle cx="414.0" cy="70.7" r="2.78"/><circle cx="415.7" cy="97.9" r="2.78"/><circle cx="416.1" cy="85.7" r="2.78"/><circle cx="417.3" cy="82.0" r="2.78"/><circle cx="417.1" cy="82.2" r="2.78"/><circle cx="418.6" cy="108.3" r="2.78"/><circle cx="420.5" cy="119.8" r="2.78"/><circle cx="420.7" cy="120.1" r="2.78"/><circle cx="420.5" cy="119.2" r="2.78"/><circle cx="422.0" cy="134.4" r="2.78"/><circle cx="421.6" cy="134.2" r="2.78"/><circle cx="423.0" cy="147.3" r="2.78"/><circle cx="423.4" cy="141.2" r="2.78"/><circle cx="424.6" cy="126.9" r="2.78"/><circle cx="424.3" cy="142.9" r="2.78"/><circle cx="424.5" cy="126.6" r="2.78"/><circle cx="424.5" cy="126.7" r="2.78"/><circle cx="425.4" cy="133.5" r="2.78"/><circle cx="426.2" cy="137.1" r="2.78"/><circle cx="426.2" cy="138.3" r="2.78"/><circle cx="427.4" cy="141.4" r="2.78"/><circle cx="429.9" cy="177.2" r="2.78"/><circle cx="429.6" cy="171.2" r="2.78"/><circle cx="429.9" cy="178.1" r="2.78"/><circle cx="430.9" cy="180.9" r="2.78"/><circle cx="433.0" cy="137.9" r="2.78"/><circle cx="432.3" cy="130.9" r="2.78"/><circle cx="433.5" cy="154.4" r="2.78"/><circle cx="434.4" cy="144.1" r="2.78"/><circle cx="434.7" cy="143.8" r="2.78"/><circle cx="435.2" cy="151.5" r="2.78"/><circle cx="436.4" cy="140.7" r="2.78"/><circle cx="438.5" cy="141.7" r="2.78"/><circle cx="438.9" cy="143.7" r="2.78"/><circle cx="439.2" cy="144.6" r="2.78"/><circle cx="439.0" cy="144.8" r="2.78"/><circle cx="444.3" cy="148.0" r="2.78"/><circle cx="444.9" cy="137.9" r="2.78"/><circle cx="445.0" cy="134.1" r="2.78"/><circle cx="444.2" cy="143.9" r="2.78"/><circle cx="445.3" cy="137.8" r="2.78"/><circle cx="446.6" cy="132.1" r="2.78"/><circle cx="446.6" cy="142.1" r="2.78"/><circle cx="447.4" cy="130.7" r="2.78"/><circle cx="447.9" cy="141.2" r="2.78"/><circle cx="447.9" cy="140.8" r="2.78"/><circle cx="449.6" cy="154.8" r="2.78"/><circle cx="449.3" cy="158.4" r="2.78"/><circle cx="450.6" cy="150.0" r="2.78"/><circle cx="450.2" cy="149.6" r="2.78"/><circle cx="451.5" cy="161.7" r="2.78"/><circle cx="451.4" cy="162.3" r="2.78"/><circle cx="451.4" cy="162.5" r="2.78"/><circle cx="452.8" cy="163.1" r="2.78"/><circle cx="452.2" cy="157.4" r="2.78"/><circle cx="454.7" cy="168.5" r="2.78"/><circle cx="454.8" cy="168.4" r="2.78"/><circle cx="454.7" cy="167.9" r="2.78"/><circle cx="455.8" cy="172.7" r="2.78"/><circle cx="455.7" cy="171.6" r="2.78"/><circle cx="456.8" cy="175.6" r="2.78"/><circle cx="456.5" cy="174.8" r="2.78"/><circle cx="457.0" cy="152.0" r="2.78"/><circle cx="458.8" cy="168.3" r="2.78"/><circle cx="458.4" cy="168.9" r="2.78"/><circle cx="460.0" cy="154.3" r="2.78"/><circle cx="459.6" cy="164.7" r="2.78"/><circle cx="459.2" cy="163.4" r="2.78"/><circle cx="460.6" cy="148.8" r="2.78"/><circle cx="460.7" cy="148.9" r="2.78"/><circle cx="461.5" cy="149.1" r="2.78"/><circle cx="461.6" cy="148.5" r="2.78"/><circle cx="462.8" cy="133.5" r="2.78"/><circle cx="463.0" cy="134.0" r="2.78"/><circle cx="462.9" cy="132.9" r="2.78"/><circle cx="464.0" cy="147.1" r="2.78"/><circle cx="463.5" cy="133.0" r="2.78"/><circle cx="463.4" cy="134.2" r="2.78"/><circle cx="465.7" cy="128.9" r="2.78"/><circle cx="467.7" cy="118.2" r="2.78"/><circle cx="468.5" cy="118.0" r="2.78"/><circle cx="468.4" cy="121.8" r="2.78"/><circle cx="468.2" cy="122.7" r="2.78"/><circle cx="469.1" cy="117.0" r="2.78"/><circle cx="469.7" cy="122.2" r="2.78"/><circle cx="474.6" cy="119.1" r="2.78"/><circle cx="478.5" cy="158.0" r="2.78"/><circle cx="480.0" cy="213.0" r="2.78"/><circle cx="481.5" cy="184.8" r="2.78"/><circle cx="482.9" cy="226.6" r="2.78"/><circle cx="482.1" cy="194.1" r="2.78"/><circle cx="482.3" cy="208.7" r="2.78"/><circle cx="483.8" cy="210.7" r="2.78"/><circle cx="484.2" cy="232.2" r="2.78"/><circle cx="484.5" cy="207.8" r="2.78"/><circle cx="484.3" cy="232.6" r="2.78"/><circle cx="486.6" cy="191.1" r="2.78"/><circle cx="488.1" cy="171.3" r="2.78"/><circle cx="488.8" cy="167.3" r="2.78"/><circle cx="488.0" cy="171.1" r="2.78"/><circle cx="489.9" cy="164.0" r="2.78"/><circle cx="489.4" cy="168.1" r="2.78"/><circle cx="490.3" cy="146.8" r="2.78"/><circle cx="491.5" cy="136.9" r="2.78"/><circle cx="492.8" cy="140.5" r="2.78"/><circle cx="492.4" cy="140.1" r="2.78"/><circle cx="493.9" cy="137.4" r="2.78"/><circle cx="493.1" cy="141.8" r="2.78"/><circle cx="493.8" cy="141.3" r="2.78"/><circle cx="494.2" cy="143.4" r="2.78"/><circle cx="494.9" cy="137.8" r="2.78"/><circle cx="497.6" cy="116.4" r="2.78"/><circle cx="497.6" cy="116.5" r="2.78"/><circle cx="497.0" cy="112.5" r="2.78"/><circle cx="498.7" cy="126.7" r="2.78"/><circle cx="498.9" cy="126.1" r="2.78"/><circle cx="499.4" cy="137.8" r="2.78"/><circle cx="499.6" cy="129.3" r="2.78"/><circle cx="500.6" cy="133.0" r="2.78"/><circle cx="500.4" cy="134.2" r="2.78"/><circle cx="500.9" cy="132.1" r="2.78"/><circle cx="501.9" cy="128.9" r="2.78"/><circle cx="501.9" cy="128.6" r="2.78"/><circle cx="503.6" cy="169.2" r="2.78"/><circle cx="504.2" cy="154.2" r="2.78"/><circle cx="504.5" cy="155.6" r="2.78"/><circle cx="506.7" cy="141.4" r="2.78"/><circle cx="506.2" cy="143.0" r="2.78"/><circle cx="507.2" cy="137.3" r="2.78"/><circle cx="507.8" cy="165.4" r="2.78"/><circle cx="507.4" cy="146.2" r="2.78"/><circle cx="509.7" cy="170.3" r="2.78"/><circle cx="509.9" cy="174.8" r="2.78"/><circle cx="509.1" cy="170.4" r="2.78"/><circle cx="510.5" cy="170.9" r="2.78"/><circle cx="510.8" cy="171.8" r="2.78"/><circle cx="511.8" cy="175.6" r="2.78"/><circle cx="512.0" cy="177.5" r="2.78"/><circle cx="512.4" cy="178.7" r="2.78"/><circle cx="512.7" cy="171.8" r="2.78"/><circle cx="513.3" cy="169.2" r="2.78"/><circle cx="513.6" cy="170.1" r="2.78"/><circle cx="514.6" cy="165.6" r="2.78"/><circle cx="514.5" cy="173.7" r="2.78"/><circle cx="516.0" cy="159.5" r="2.78"/><circle cx="517.3" cy="149.6" r="2.78"/><circle cx="517.8" cy="152.8" r="2.78"/><circle cx="517.7" cy="143.1" r="2.78"/><circle cx="518.9" cy="136.0" r="2.78"/><circle cx="519.5" cy="131.1" r="2.78"/><circle cx="519.0" cy="135.3" r="2.78"/><circle cx="519.4" cy="141.2" r="2.78"/><circle cx="520.0" cy="129.1" r="2.78"/><circle cx="521.1" cy="134.0" r="2.78"/><circle cx="521.1" cy="130.7" r="2.78"/><circle cx="522.2" cy="121.5" r="2.78"/><circle cx="522.7" cy="128.1" r="2.78"/><circle cx="522.2" cy="120.6" r="2.78"/><circle cx="523.8" cy="125.5" r="2.78"/><circle cx="524.9" cy="129.2" r="2.78"/><circle cx="524.9" cy="129.9" r="2.78"/><circle cx="524.9" cy="128.4" r="2.78"/><circle cx="526.0" cy="123.2" r="2.78"/><circle cx="527.4" cy="171.3" r="2.78"/><circle cx="527.8" cy="182.1" r="2.78"/><circle cx="529.1" cy="198.5" r="2.78"/><circle cx="529.5" cy="201.4" r="2.78"/><circle cx="530.3" cy="191.4" r="2.78"/><circle cx="530.5" cy="198.3" r="2.78"/><circle cx="530.3" cy="191.6" r="2.78"/><circle cx="532.6" cy="217.1" r="2.78"/><circle cx="532.4" cy="216.9" r="2.78"/><circle cx="533.6" cy="220.3" r="2.78"/><circle cx="533.5" cy="220.1" r="2.78"/><circle cx="534.6" cy="222.9" r="2.78"/><circle cx="534.9" cy="223.5" r="2.78"/><circle cx="534.3" cy="222.6" r="2.78"/><circle cx="535.6" cy="212.5" r="2.78"/><circle cx="536.0" cy="212.4" r="2.78"/><circle cx="536.6" cy="220.7" r="2.78"/><circle cx="536.6" cy="220.3" r="2.78"/><circle cx="537.1" cy="216.1" r="2.78"/><circle cx="537.5" cy="216.5" r="2.78"/><circle cx="538.9" cy="222.4" r="2.78"/><circle cx="538.4" cy="221.0" r="2.78"/><circle cx="539.9" cy="227.0" r="2.78"/><circle cx="539.8" cy="225.8" r="2.78"/><circle cx="539.6" cy="226.5" r="2.78"/><circle cx="541.6" cy="232.4" r="2.78"/><circle cx="542.6" cy="225.0" r="2.78"/><circle cx="542.9" cy="226.6" r="2.78"/><circle cx="542.8" cy="228.4" r="2.78"/><circle cx="544.7" cy="233.5" r="2.78"/><circle cx="544.2" cy="235.6" r="2.78"/><circle cx="545.6" cy="247.4" r="2.78"/><circle cx="546.1" cy="247.5" r="2.78"/><circle cx="546.6" cy="250.8" r="2.78"/><circle cx="546.6" cy="250.9" r="2.78"/><circle cx="547.8" cy="261.5" r="2.78"/><circle cx="547.7" cy="251.4" r="2.78"/><circle cx="547.7" cy="251.1" r="2.78"/><circle cx="548.2" cy="245.4" r="2.78"/><circle cx="548.2" cy="240.5" r="2.78"/><circle cx="549.1" cy="258.4" r="2.78"/><circle cx="549.2" cy="258.0" r="2.78"/><circle cx="549.7" cy="254.3" r="2.78"/><circle cx="550.7" cy="242.5" r="2.78"/><circle cx="552.0" cy="246.2" r="2.78"/><circle cx="551.4" cy="244.3" r="2.78"/><circle cx="551.4" cy="243.5" r="2.78"/><circle cx="552.7" cy="247.1" r="2.78"/><circle cx="552.6" cy="247.2" r="2.78"/><circle cx="553.3" cy="250.4" r="2.78"/><circle cx="554.4" cy="257.0" r="2.78"/><circle cx="554.2" cy="256.2" r="2.78"/><circle cx="555.8" cy="253.1" r="2.78"/><circle cx="556.1" cy="253.7" r="2.78"/><circle cx="556.3" cy="253.0" r="2.78"/><circle cx="557.6" cy="224.1" r="2.78"/><circle cx="557.9" cy="223.2" r="2.78"/><circle cx="557.1" cy="252.5" r="2.78"/><circle cx="559.2" cy="228.7" r="2.78"/><circle cx="559.5" cy="235.8" r="2.78"/><circle cx="559.0" cy="226.9" r="2.78"/><circle cx="561.8" cy="236.0" r="2.78"/><circle cx="562.5" cy="238.4" r="2.78"/><circle cx="563.0" cy="239.8" r="2.78"/><circle cx="562.9" cy="239.3" r="2.78"/><circle cx="563.8" cy="224.0" r="2.78"/><circle cx="563.5" cy="225.0" r="2.78"/><circle cx="564.9" cy="219.3" r="2.78"/><circle cx="565.6" cy="220.4" r="2.78"/><circle cx="565.8" cy="220.7" r="2.78"/><circle cx="566.4" cy="220.6" r="2.78"/><circle cx="566.9" cy="237.8" r="2.78"/><circle cx="567.7" cy="241.3" r="2.78"/><circle cx="567.6" cy="242.8" r="2.78"/><circle cx="568.6" cy="236.1" r="2.78"/><circle cx="568.1" cy="235.9" r="2.78"/><circle cx="569.9" cy="240.9" r="2.78"/><circle cx="569.1" cy="242.3" r="2.78"/><circle cx="569.2" cy="235.4" r="2.78"/><circle cx="569.8" cy="240.6" r="2.78"/><circle cx="570.5" cy="246.8" r="2.78"/><circle cx="570.2" cy="233.2" r="2.78"/><circle cx="571.9" cy="241.0" r="2.78"/><circle cx="571.3" cy="235.7" r="2.78"/><circle cx="572.8" cy="237.7" r="2.78"/><circle cx="572.6" cy="243.1" r="2.78"/><circle cx="572.6" cy="242.7" r="2.78"/><circle cx="572.9" cy="238.7" r="2.78"/><circle cx="574.9" cy="245.8" r="2.78"/><circle cx="574.0" cy="232.4" r="2.78"/><circle cx="574.4" cy="235.9" r="2.78"/><circle cx="575.9" cy="242.6" r="2.78"/><circle cx="575.4" cy="239.3" r="2.78"/><circle cx="575.6" cy="247.3" r="2.78"/><circle cx="576.9" cy="228.9" r="2.78"/><circle cx="576.7" cy="230.0" r="2.78"/><circle cx="577.9" cy="224.6" r="2.78"/><circle cx="577.1" cy="228.3" r="2.78"/><circle cx="578.4" cy="243.3" r="2.78"/><circle cx="578.1" cy="224.3" r="2.78"/><circle cx="579.2" cy="241.9" r="2.78"/><circle cx="579.7" cy="240.8" r="2.78"/><circle cx="579.8" cy="246.2" r="2.78"/><circle cx="580.4" cy="236.6" r="2.78"/><circle cx="581.7" cy="231.6" r="2.78"/><circle cx="582.5" cy="235.1" r="2.78"/><circle cx="582.6" cy="244.5" r="2.78"/><circle cx="583.5" cy="250.6" r="2.78"/><circle cx="583.3" cy="240.2" r="2.78"/><circle cx="584.2" cy="247.5" r="2.78"/><circle cx="584.6" cy="255.7" r="2.78"/><circle cx="584.8" cy="240.6" r="2.78"/><circle cx="585.9" cy="243.0" r="2.78"/><circle cx="586.5" cy="252.6" r="2.78"/><circle cx="587.3" cy="244.3" r="2.78"/><circle cx="588.6" cy="247.3" r="2.78"/><circle cx="588.2" cy="247.5" r="2.78"/><circle cx="588.8" cy="247.0" r="2.78"/><circle cx="589.9" cy="250.2" r="2.78"/><circle cx="589.8" cy="250.1" r="2.78"/><circle cx="589.1" cy="247.2" r="2.78"/><circle cx="590.8" cy="263.2" r="2.78"/><circle cx="590.8" cy="263.1" r="2.78"/><circle cx="592.8" cy="253.9" r="2.78"/><circle cx="592.3" cy="255.7" r="2.78"/><circle cx="593.9" cy="249.8" r="2.78"/><circle cx="594.0" cy="249.6" r="2.78"/><circle cx="594.8" cy="238.3" r="2.78"/><circle cx="594.9" cy="238.3" r="2.78"/><circle cx="594.1" cy="249.8" r="2.78"/><circle cx="596.0" cy="233.7" r="2.78"/><circle cx="595.4" cy="237.0" r="2.78"/><circle cx="596.8" cy="229.2" r="2.78"/><circle cx="597.9" cy="223.0" r="2.78"/><circle cx="597.6" cy="224.3" r="2.78"/><circle cx="598.5" cy="237.9" r="2.78"/><circle cx="599.6" cy="230.5" r="2.78"/><circle cx="599.8" cy="237.4" r="2.78"/><circle cx="599.7" cy="230.0" r="2.78"/><circle cx="599.7" cy="230.3" r="2.78"/><circle cx="600.8" cy="233.2" r="2.78"/><circle cx="600.3" cy="230.4" r="2.78"/><circle cx="602.0" cy="236.9" r="2.78"/><circle cx="601.2" cy="233.4" r="2.78"/><circle cx="602.6" cy="238.7" r="2.78"/><circle cx="602.1" cy="237.7" r="2.78"/><circle cx="603.8" cy="236.5" r="2.78"/><circle cx="603.3" cy="240.0" r="2.78"/><circle cx="603.5" cy="236.4" r="2.78"/><circle cx="603.7" cy="239.8" r="2.78"/><circle cx="604.5" cy="233.4" r="2.78"/><circle cx="604.8" cy="244.4" r="2.78"/><circle cx="604.6" cy="233.6" r="2.78"/><circle cx="606.5" cy="252.1" r="2.78"/><circle cx="606.2" cy="246.9" r="2.78"/><circle cx="607.6" cy="243.1" r="2.78"/><circle cx="607.9" cy="236.7" r="2.78"/><circle cx="607.8" cy="243.5" r="2.78"/><circle cx="609.2" cy="246.2" r="2.78"/><circle cx="610.9" cy="256.3" r="2.78"/><circle cx="610.7" cy="255.3" r="2.78"/><circle cx="611.5" cy="260.7" r="2.78"/><circle cx="612.9" cy="265.9" r="2.78"/><circle cx="612.5" cy="264.1" r="2.78"/><circle cx="615.0" cy="287.1" r="2.78"/><circle cx="614.8" cy="266.9" r="2.78"/><circle cx="614.2" cy="280.4" r="2.78"/><circle cx="614.9" cy="278.2" r="2.78"/><circle cx="615.7" cy="276.0" r="2.78"/><circle cx="615.5" cy="276.7" r="2.78"/><circle cx="615.4" cy="274.1" r="2.78"/><circle cx="616.5" cy="282.3" r="2.78"/><circle cx="617.0" cy="274.1" r="2.78"/><circle cx="617.6" cy="270.0" r="2.78"/><circle cx="617.6" cy="269.2" r="2.78"/><circle cx="618.2" cy="285.6" r="2.78"/><circle cx="618.8" cy="282.1" r="2.78"/><circle cx="619.6" cy="280.1" r="2.78"/><circle cx="619.2" cy="279.9" r="2.78"/><circle cx="620.8" cy="277.0" r="2.78"/><circle cx="621.0" cy="283.7" r="2.78"/><circle cx="620.5" cy="276.3" r="2.78"/><circle cx="621.3" cy="275.6" r="2.78"/><circle cx="621.3" cy="275.2" r="2.78"/><circle cx="621.3" cy="275.2" r="2.78"/><circle cx="623.0" cy="281.7" r="2.78"/><circle cx="622.9" cy="286.7" r="2.78"/><circle cx="623.7" cy="278.6" r="2.78"/><circle cx="625.5" cy="330.3" r="2.78"/><circle cx="625.3" cy="330.7" r="2.78"/><circle cx="627.1" cy="320.1" r="2.78"/><circle cx="627.4" cy="335.2" r="2.78"/><circle cx="627.1" cy="324.5" r="2.78"/><circle cx="628.6" cy="325.4" r="2.78"/><circle cx="629.9" cy="318.3" r="2.78"/><circle cx="629.8" cy="322.2" r="2.78"/><circle cx="629.8" cy="321.5" r="2.78"/><circle cx="630.8" cy="318.4" r="2.78"/><circle cx="630.7" cy="317.3" r="2.78"/><circle cx="631.6" cy="327.1" r="2.78"/><circle cx="631.6" cy="327.7" r="2.78"/><circle cx="632.5" cy="326.9" r="2.78"/><circle cx="632.3" cy="324.1" r="2.78"/><circle cx="632.5" cy="323.5" r="2.78"/><circle cx="632.8" cy="315.4" r="2.78"/><circle cx="633.1" cy="315.5" r="2.78"/><circle cx="634.7" cy="332.9" r="2.78"/><circle cx="634.4" cy="329.2" r="2.78"/><circle cx="634.7" cy="333.0" r="2.78"/><circle cx="635.7" cy="321.7" r="2.78"/><circle cx="636.0" cy="316.4" r="2.78"/><circle cx="636.7" cy="313.2" r="2.78"/><circle cx="636.9" cy="323.2" r="2.78"/><circle cx="636.3" cy="317.9" r="2.78"/><circle cx="637.5" cy="319.2" r="2.78"/><circle cx="638.0" cy="314.0" r="2.78"/><circle cx="638.8" cy="320.1" r="2.78"/><circle cx="638.4" cy="313.7" r="2.78"/><circle cx="639.4" cy="311.8" r="2.78"/><circle cx="639.9" cy="315.0" r="2.78"/><circle cx="639.3" cy="312.1" r="2.78"/><circle cx="640.4" cy="320.5" r="2.78"/><circle cx="641.9" cy="323.7" r="2.78"/><circle cx="641.8" cy="315.8" r="2.78"/><circle cx="642.9" cy="322.2" r="2.78"/><circle cx="642.6" cy="325.0" r="2.78"/><circle cx="642.6" cy="325.6" r="2.78"/><circle cx="643.7" cy="321.3" r="2.78"/><circle cx="643.8" cy="325.9" r="2.78"/><circle cx="644.6" cy="317.7" r="2.78"/><circle cx="644.6" cy="316.7" r="2.78"/><circle cx="644.4" cy="317.8" r="2.78"/><circle cx="645.3" cy="318.3" r="2.78"/><circle cx="645.9" cy="321.1" r="2.78"/><circle cx="646.9" cy="324.3" r="2.78"/><circle cx="646.3" cy="322.0" r="2.78"/><circle cx="647.8" cy="325.7" r="2.78"/><circle cx="647.5" cy="325.9" r="2.78"/><circle cx="648.1" cy="316.5" r="2.78"/><circle cx="648.9" cy="316.3" r="2.78"/><circle cx="649.8" cy="321.2" r="2.78"/><circle cx="649.4" cy="319.7" r="2.78"/><circle cx="649.6" cy="319.9" r="2.78"/><circle cx="651.0" cy="324.8" r="2.78"/><circle cx="650.7" cy="320.2" r="2.78"/><circle cx="651.7" cy="316.9" r="2.78"/><circle cx="651.9" cy="316.0" r="2.78"/><circle cx="651.9" cy="324.9" r="2.78"/><circle cx="652.7" cy="324.9" r="2.78"/><circle cx="653.8" cy="310.1" r="2.78"/><circle cx="654.1" cy="318.8" r="2.78"/><circle cx="654.7" cy="307.0" r="2.78"/><circle cx="655.0" cy="322.7" r="2.78"/><circle cx="655.4" cy="306.8" r="2.78"/><circle cx="656.0" cy="323.7" r="2.78"/><circle cx="656.1" cy="323.7" r="2.78"/><circle cx="656.2" cy="323.6" r="2.78"/><circle cx="657.3" cy="320.0" r="2.78"/><circle cx="657.4" cy="319.6" r="2.78"/><circle cx="658.8" cy="306.4" r="2.78"/><circle cx="658.4" cy="311.8" r="2.78"/><circle cx="658.6" cy="306.7" r="2.78"/><circle cx="659.6" cy="304.7" r="2.78"/><circle cx="660.0" cy="315.8" r="2.78"/><circle cx="659.1" cy="305.8" r="2.78"/><circle cx="659.7" cy="309.9" r="2.78"/><circle cx="661.2" cy="288.3" r="2.78"/><circle cx="662.7" cy="279.9" r="2.78"/><circle cx="662.3" cy="280.8" r="2.78"/><circle cx="663.5" cy="275.5" r="2.78"/><circle cx="663.7" cy="268.6" r="2.78"/><circle cx="664.1" cy="271.8" r="2.78"/><circle cx="664.9" cy="268.6" r="2.78"/><circle cx="665.0" cy="268.4" r="2.78"/><circle cx="666.9" cy="272.9" r="2.78"/><circle cx="667.0" cy="274.5" r="2.78"/><circle cx="668.0" cy="283.1" r="2.78"/><circle cx="667.2" cy="285.3" r="2.78"/><circle cx="668.8" cy="288.1" r="2.78"/><circle cx="668.2" cy="281.6" r="2.78"/><circle cx="669.1" cy="278.6" r="2.78"/><circle cx="669.6" cy="290.6" r="2.78"/><circle cx="669.4" cy="277.4" r="2.78"/><circle cx="671.0" cy="281.1" r="2.78"/><circle cx="670.4" cy="290.2" r="2.78"/><circle cx="671.1" cy="287.0" r="2.78"/><circle cx="671.9" cy="283.3" r="2.78"/><circle cx="672.8" cy="286.7" r="2.78"/><circle cx="672.8" cy="286.5" r="2.78"/><circle cx="673.6" cy="290.7" r="2.78"/><circle cx="673.8" cy="285.8" r="2.78"/><circle cx="674.2" cy="289.8" r="2.78"/><circle cx="674.8" cy="294.6" r="2.78"/><circle cx="674.9" cy="288.0" r="2.78"/><circle cx="675.9" cy="286.2" r="2.78"/><circle cx="675.7" cy="285.4" r="2.78"/><circle cx="677.2" cy="301.5" r="2.78"/><circle cx="677.4" cy="302.5" r="2.78"/><circle cx="678.4" cy="302.2" r="2.78"/><circle cx="678.3" cy="301.8" r="2.78"/><circle cx="678.7" cy="304.5" r="2.78"/><circle cx="678.4" cy="302.4" r="2.78"/><circle cx="679.8" cy="308.4" r="2.78"/><circle cx="680.0" cy="305.7" r="2.78"/><circle cx="679.8" cy="305.0" r="2.78"/><circle cx="680.1" cy="305.1" r="2.78"/><circle cx="680.1" cy="304.9" r="2.78"/><circle cx="682.0" cy="308.7" r="2.78"/><circle cx="681.6" cy="302.9" r="2.78"/><circle cx="681.7" cy="307.6" r="2.78"/><circle cx="682.1" cy="302.6" r="2.78"/><circle cx="682.6" cy="303.1" r="2.78"/><circle cx="683.8" cy="299.8" r="2.78"/><circle cx="683.3" cy="305.7" r="2.78"/><circle cx="683.6" cy="308.6" r="2.78"/><circle cx="684.9" cy="310.8" r="2.78"/><circle cx="685.0" cy="306.5" r="2.78"/><circle cx="684.8" cy="307.3" r="2.78"/><circle cx="685.8" cy="302.9" r="2.78"/><circle cx="685.5" cy="301.4" r="2.78"/><circle cx="686.5" cy="306.3" r="2.78"/><circle cx="686.1" cy="303.6" r="2.78"/><circle cx="686.6" cy="307.1" r="2.78"/><circle cx="687.4" cy="311.5" r="2.78"/><circle cx="687.4" cy="311.1" r="2.78"/><circle cx="688.0" cy="301.7" r="2.78"/><circle cx="688.9" cy="306.9" r="2.78"/><circle cx="688.7" cy="314.3" r="2.78"/><circle cx="689.7" cy="305.7" r="2.78"/><circle cx="689.5" cy="305.3" r="2.78"/><circle cx="689.7" cy="309.8" r="2.78"/><circle cx="691.4" cy="313.3" r="2.78"/><circle cx="691.2" cy="304.6" r="2.78"/><circle cx="692.8" cy="310.3" r="2.78"/><circle cx="693.7" cy="306.0" r="2.78"/><circle cx="693.4" cy="309.0" r="2.78"/><circle cx="694.7" cy="317.0" r="2.78"/><circle cx="694.3" cy="305.6" r="2.78"/><circle cx="694.9" cy="317.1" r="2.78"/><circle cx="695.6" cy="312.6" r="2.78"/><circle cx="696.4" cy="313.4" r="2.78"/><circle cx="697.0" cy="306.9" r="2.78"/><circle cx="696.9" cy="308.2" r="2.78"/><circle cx="699.6" cy="296.7" r="2.78"/><circle cx="699.9" cy="295.0" r="2.78"/><circle cx="699.9" cy="295.7" r="2.78"/><circle cx="700.3" cy="301.8" r="2.78"/><circle cx="701.0" cy="292.9" r="2.78"/><circle cx="701.4" cy="302.5" r="2.78"/><circle cx="702.1" cy="323.3" r="2.78"/><circle cx="702.9" cy="326.8" r="2.78"/><circle cx="702.0" cy="322.0" r="2.78"/><circle cx="703.5" cy="328.5" r="2.78"/><circle cx="703.1" cy="327.6" r="2.78"/><circle cx="704.8" cy="319.3" r="2.78"/><circle cx="704.4" cy="328.5" r="2.78"/><circle cx="704.8" cy="319.2" r="2.78"/><circle cx="705.2" cy="312.9" r="2.78"/><circle cx="705.4" cy="313.6" r="2.78"/><circle cx="705.7" cy="319.1" r="2.78"/><circle cx="706.3" cy="312.9" r="2.78"/><circle cx="706.3" cy="314.3" r="2.78"/><circle cx="707.7" cy="314.7" r="2.78"/><circle cx="707.7" cy="314.7" r="2.78"/><circle cx="707.9" cy="315.8" r="2.78"/><circle cx="708.7" cy="316.3" r="2.78"/><circle cx="708.8" cy="317.0" r="2.78"/><circle cx="709.0" cy="317.5" r="2.78"/><circle cx="709.4" cy="317.6" r="2.78"/><circle cx="709.8" cy="318.2" r="2.78"/><circle cx="710.1" cy="319.0" r="2.78"/><circle cx="710.6" cy="319.6" r="2.78"/><circle cx="710.8" cy="319.9" r="2.78"/><circle cx="711.7" cy="321.1" r="2.78"/><circle cx="711.5" cy="320.7" r="2.78"/><circle cx="712.9" cy="323.7" r="2.78"/><circle cx="712.4" cy="323.0" r="2.78"/><circle cx="712.5" cy="317.1" r="2.78"/><circle cx="714.0" cy="319.7" r="2.78"/><circle cx="713.4" cy="324.0" r="2.78"/><circle cx="713.8" cy="324.8" r="2.78"/><circle cx="714.9" cy="318.8" r="2.78"/><circle cx="714.9" cy="327.7" r="2.78"/><circle cx="714.9" cy="318.1" r="2.78"/><circle cx="715.3" cy="330.0" r="2.78"/><circle cx="715.7" cy="332.5" r="2.78"/><circle cx="717.1" cy="322.7" r="2.78"/><circle cx="717.9" cy="317.5" r="2.78"/><circle cx="718.2" cy="316.1" r="2.78"/><circle cx="718.2" cy="316.4" r="2.78"/><circle cx="719.1" cy="316.0" r="2.78"/><circle cx="720.0" cy="312.6" r="2.78"/><circle cx="719.6" cy="316.3" r="2.78"/><circle cx="720.3" cy="311.9" r="2.78"/><circle cx="720.3" cy="312.4" r="2.78"/><circle cx="721.1" cy="313.7" r="2.78"/><circle cx="724.0" cy="312.2" r="2.78"/><circle cx="723.9" cy="312.2" r="2.78"/><circle cx="723.6" cy="312.4" r="2.78"/><circle cx="724.9" cy="313.4" r="2.78"/><circle cx="724.3" cy="313.2" r="2.78"/><circle cx="724.7" cy="313.4" r="2.78"/><circle cx="725.2" cy="312.4" r="2.78"/><circle cx="727.8" cy="312.2" r="2.78"/><circle cx="727.6" cy="312.4" r="2.78"/><circle cx="728.3" cy="313.8" r="2.78"/><circle cx="728.7" cy="312.1" r="2.78"/><circle cx="728.2" cy="313.7" r="2.78"/><circle cx="728.8" cy="323.4" r="2.78"/><circle cx="729.6" cy="315.4" r="2.78"/><circle cx="729.3" cy="315.4" r="2.78"/><circle cx="730.0" cy="321.8" r="2.78"/><circle cx="729.3" cy="322.3" r="2.78"/><circle cx="730.9" cy="319.7" r="2.78"/><circle cx="731.0" cy="326.3" r="2.78"/><circle cx="731.1" cy="318.1" r="2.78"/><circle cx="732.1" cy="327.4" r="2.78"/><circle cx="732.7" cy="316.2" r="2.78"/><circle cx="732.1" cy="328.9" r="2.78"/><circle cx="733.8" cy="315.7" r="2.78"/><circle cx="734.3" cy="324.3" r="2.78"/><circle cx="734.6" cy="319.8" r="2.78"/><circle cx="734.9" cy="320.8" r="2.78"/><circle cx="735.9" cy="319.8" r="2.78"/><circle cx="735.6" cy="317.6" r="2.78"/><circle cx="736.7" cy="317.4" r="2.78"/><circle cx="736.5" cy="321.0" r="2.78"/><circle cx="736.6" cy="321.0" r="2.78"/><circle cx="737.8" cy="319.4" r="2.78"/><circle cx="737.7" cy="318.0" r="2.78"/><circle cx="737.7" cy="315.3" r="2.78"/><circle cx="738.5" cy="323.6" r="2.78"/><circle cx="738.4" cy="323.3" r="2.78"/><circle cx="739.9" cy="317.7" r="2.78"/><circle cx="739.2" cy="319.0" r="2.78"/><circle cx="739.7" cy="319.7" r="2.78"/><circle cx="740.6" cy="316.0" r="2.78"/><circle cx="740.7" cy="322.7" r="2.78"/><circle cx="740.8" cy="323.5" r="2.78"/><circle cx="742.2" cy="328.7" r="2.78"/><circle cx="742.9" cy="319.2" r="2.78"/><circle cx="742.7" cy="318.2" r="2.78"/><circle cx="742.2" cy="323.9" r="2.78"/><circle cx="743.0" cy="315.1" r="2.78"/><circle cx="743.3" cy="319.1" r="2.78"/><circle cx="744.0" cy="321.2" r="2.78"/><circle cx="744.5" cy="315.6" r="2.78"/><circle cx="744.5" cy="322.0" r="2.78"/><circle cx="744.9" cy="323.1" r="2.78"/><circle cx="745.6" cy="321.2" r="2.78"/><circle cx="745.2" cy="323.9" r="2.78"/><circle cx="746.3" cy="319.7" r="2.78"/><circle cx="746.3" cy="319.2" r="2.78"/><circle cx="747.7" cy="314.9" r="2.78"/><circle cx="747.2" cy="318.5" r="2.78"/><circle cx="747.5" cy="315.4" r="2.78"/><circle cx="748.4" cy="313.7" r="2.78"/><circle cx="749.5" cy="320.7" r="2.78"/><circle cx="749.9" cy="312.5" r="2.78"/><circle cx="749.0" cy="321.6" r="2.78"/><circle cx="750.9" cy="314.9" r="2.78"/><circle cx="750.3" cy="316.7" r="2.78"/><circle cx="750.9" cy="312.3" r="2.78"/><circle cx="751.4" cy="311.0" r="2.78"/><circle cx="751.5" cy="312.0" r="2.78"/><circle cx="751.1" cy="318.9" r="2.78"/><circle cx="753.0" cy="316.0" r="2.78"/><circle cx="752.9" cy="310.9" r="2.78"/><circle cx="753.3" cy="308.1" r="2.78"/><circle cx="753.9" cy="315.2" r="2.78"/><circle cx="754.0" cy="315.6" r="2.78"/><circle cx="755.0" cy="305.4" r="2.78"/><circle cx="754.2" cy="311.2" r="2.78"/><circle cx="754.7" cy="311.8" r="2.78"/><circle cx="755.1" cy="315.2" r="2.78"/><circle cx="756.9" cy="307.9" r="2.78"/><circle cx="756.8" cy="308.7" r="2.78"/><circle cx="757.7" cy="313.6" r="2.78"/><circle cx="757.6" cy="312.8" r="2.78"/><circle cx="758.8" cy="318.0" r="2.78"/><circle cx="758.6" cy="317.0" r="2.78"/><circle cx="760.0" cy="319.5" r="2.78"/><circle cx="759.8" cy="320.4" r="2.78"/><circle cx="760.8" cy="328.2" r="2.78"/><circle cx="760.7" cy="328.0" r="2.78"/><circle cx="760.9" cy="328.3" r="2.78"/><circle cx="761.8" cy="328.0" r="2.78"/><circle cx="761.1" cy="328.7" r="2.78"/><circle cx="761.2" cy="328.4" r="2.78"/><circle cx="762.3" cy="331.6" r="2.78"/><circle cx="763.5" cy="335.5" r="2.78"/><circle cx="764.0" cy="336.1" r="2.78"/><circle cx="763.9" cy="331.0" r="2.78"/><circle cx="764.9" cy="330.1" r="2.78"/><circle cx="764.4" cy="327.6" r="2.78"/><circle cx="765.9" cy="321.2" r="2.78"/><circle cx="766.0" cy="321.5" r="2.78"/><circle cx="766.3" cy="327.1" r="2.78"/><circle cx="766.5" cy="323.1" r="2.78"/><circle cx="767.4" cy="326.2" r="2.78"/><circle cx="767.9" cy="327.0" r="2.78"/><circle cx="768.2" cy="330.8" r="2.78"/><circle cx="768.3" cy="330.9" r="2.78"/><circle cx="768.3" cy="331.3" r="2.78"/><circle cx="769.2" cy="321.7" r="2.78"/><circle cx="769.6" cy="319.3" r="2.78"/><circle cx="769.8" cy="318.6" r="2.78"/><circle cx="770.9" cy="328.6" r="2.78"/><circle cx="770.8" cy="327.9" r="2.78"/><circle cx="771.0" cy="328.9" r="2.78"/><circle cx="771.2" cy="328.2" r="2.78"/><circle cx="772.5" cy="332.8" r="2.78"/><circle cx="772.2" cy="332.4" r="2.78"/><circle cx="773.6" cy="336.4" r="2.78"/><circle cx="773.5" cy="336.2" r="2.78"/><circle cx="774.2" cy="329.0" r="2.78"/><circle cx="774.5" cy="330.3" r="2.78"/><circle cx="774.6" cy="333.2" r="2.78"/><circle cx="775.9" cy="331.8" r="2.78"/><circle cx="776.0" cy="333.4" r="2.78"/><circle cx="775.8" cy="333.3" r="2.78"/><circle cx="776.0" cy="329.7" r="2.78"/><circle cx="776.4" cy="329.7" r="2.78"/><circle cx="777.5" cy="329.4" r="2.78"/><circle cx="777.3" cy="329.0" r="2.78"/><circle cx="778.0" cy="332.9" r="2.78"/><circle cx="778.9" cy="329.8" r="2.78"/><circle cx="779.8" cy="327.8" r="2.78"/><circle cx="779.9" cy="326.0" r="2.78"/><circle cx="779.9" cy="327.0" r="2.78"/><circle cx="781.9" cy="304.1" r="2.78"/><circle cx="781.6" cy="297.9" r="2.78"/><circle cx="781.4" cy="299.1" r="2.78"/><circle cx="781.5" cy="304.4" r="2.78"/><circle cx="782.5" cy="305.5" r="2.78"/><circle cx="782.8" cy="295.9" r="2.78"/><circle cx="782.9" cy="296.1" r="2.78"/><circle cx="783.6" cy="295.5" r="2.78"/><circle cx="784.5" cy="292.8" r="2.78"/><circle cx="785.0" cy="290.6" r="2.78"/><circle cx="784.9" cy="290.7" r="2.78"/><circle cx="785.8" cy="304.6" r="2.78"/><circle cx="785.9" cy="304.9" r="2.78"/><circle cx="787.0" cy="303.4" r="2.78"/><circle cx="786.7" cy="296.3" r="2.78"/><circle cx="786.7" cy="297.6" r="2.78"/><circle cx="787.2" cy="294.3" r="2.78"/><circle cx="787.4" cy="294.4" r="2.78"/><circle cx="788.3" cy="302.3" r="2.78"/><circle cx="788.6" cy="301.5" r="2.78"/><circle cx="788.7" cy="300.9" r="2.78"/><circle cx="789.9" cy="301.6" r="2.78"/><circle cx="789.6" cy="298.2" r="2.78"/><circle cx="789.9" cy="298.9" r="2.78"/><circle cx="789.9" cy="297.9" r="2.78"/><circle cx="790.6" cy="300.0" r="2.78"/><circle cx="790.8" cy="296.4" r="2.78"/><circle cx="790.5" cy="298.3" r="2.78"/><circle cx="791.5" cy="293.9" r="2.78"/><circle cx="791.3" cy="296.9" r="2.78"/><circle cx="791.6" cy="293.4" r="2.78"/><circle cx="791.4" cy="295.4" r="2.78"/><circle cx="793.0" cy="284.5" r="2.78"/><circle cx="794.1" cy="276.9" r="2.78"/><circle cx="794.3" cy="275.0" r="2.78"/><circle cx="794.9" cy="272.9" r="2.78"/><circle cx="795.2" cy="279.2" r="2.78"/><circle cx="796.2" cy="279.9" r="2.78"/><circle cx="796.3" cy="280.2" r="2.78"/><circle cx="797.7" cy="285.9" r="2.78"/><circle cx="797.5" cy="286.3" r="2.78"/><circle cx="799.6" cy="275.5" r="2.78"/><circle cx="799.3" cy="279.7" r="2.78"/><circle cx="799.4" cy="278.8" r="2.78"/><circle cx="800.9" cy="287.9" r="2.78"/><circle cx="802.6" cy="258.8" r="2.78"/><circle cx="802.3" cy="262.0" r="2.78"/><circle cx="802.7" cy="257.8" r="2.78"/><circle cx="804.0" cy="254.6" r="2.78"/><circle cx="804.8" cy="251.0" r="2.78"/><circle cx="804.7" cy="258.1" r="2.78"/><circle cx="804.7" cy="250.6" r="2.78"/><circle cx="805.3" cy="247.9" r="2.78"/><circle cx="806.1" cy="245.4" r="2.78"/><circle cx="806.2" cy="244.3" r="2.78"/><circle cx="808.0" cy="248.7" r="2.78"/><circle cx="808.0" cy="241.9" r="2.78"/><circle cx="807.9" cy="242.4" r="2.78"/><circle cx="808.7" cy="247.4" r="2.78"/><circle cx="809.4" cy="231.9" r="2.78"/><circle cx="809.9" cy="229.5" r="2.78"/><circle cx="810.7" cy="228.9" r="2.78"/><circle cx="811.7" cy="225.5" r="2.78"/><circle cx="811.0" cy="227.4" r="2.78"/><circle cx="811.9" cy="225.5" r="2.78"/><circle cx="812.8" cy="225.0" r="2.78"/><circle cx="812.1" cy="224.1" r="2.78"/><circle cx="813.6" cy="229.8" r="2.78"/><circle cx="813.8" cy="230.9" r="2.78"/><circle cx="814.5" cy="227.0" r="2.78"/><circle cx="814.7" cy="221.8" r="2.78"/><circle cx="815.2" cy="235.5" r="2.78"/><circle cx="815.9" cy="234.5" r="2.78"/><circle cx="817.0" cy="231.4" r="2.78"/><circle cx="817.0" cy="231.0" r="2.78"/><circle cx="817.5" cy="237.8" r="2.78"/><circle cx="817.1" cy="231.2" r="2.78"/><circle cx="819.7" cy="219.5" r="2.78"/><circle cx="819.3" cy="240.5" r="2.78"/><circle cx="819.3" cy="219.5" r="2.78"/><circle cx="820.4" cy="216.5" r="2.78"/><circle cx="821.4" cy="212.4" r="2.78"/><circle cx="821.1" cy="212.6" r="2.78"/><circle cx="822.8" cy="217.2" r="2.78"/><circle cx="822.8" cy="218.6" r="2.78"/><circle cx="823.4" cy="218.3" r="2.78"/><circle cx="823.8" cy="235.0" r="2.78"/><circle cx="823.5" cy="235.1" r="2.78"/><circle cx="824.7" cy="231.2" r="2.78"/><circle cx="824.2" cy="214.2" r="2.78"/><circle cx="826.6" cy="225.3" r="2.78"/><circle cx="828.0" cy="205.6" r="2.78"/><circle cx="827.6" cy="218.0" r="2.78"/><circle cx="827.1" cy="209.1" r="2.78"/><circle cx="829.6" cy="221.8" r="2.78"/><circle cx="829.8" cy="199.6" r="2.78"/><circle cx="831.9" cy="216.5" r="2.78"/><circle cx="832.0" cy="215.4" r="2.78"/><circle cx="833.0" cy="218.8" r="2.78"/><circle cx="832.5" cy="215.7" r="2.78"/><circle cx="833.5" cy="222.3" r="2.78"/><circle cx="834.2" cy="229.4" r="2.78"/><circle cx="834.1" cy="223.1" r="2.78"/><circle cx="834.5" cy="228.9" r="2.78"/><circle cx="835.5" cy="226.6" r="2.78"/><circle cx="835.6" cy="225.9" r="2.78"/><circle cx="835.4" cy="226.5" r="2.78"/><circle cx="836.9" cy="228.7" r="2.78"/><circle cx="836.5" cy="227.1" r="2.78"/><circle cx="837.3" cy="229.8" r="2.78"/><circle cx="837.5" cy="230.1" r="2.78"/><circle cx="838.9" cy="229.6" r="2.78"/><circle cx="838.7" cy="229.7" r="2.78"/><circle cx="838.6" cy="230.0" r="2.78"/><circle cx="839.4" cy="232.2" r="2.78"/><circle cx="839.9" cy="227.8" r="2.78"/><circle cx="839.9" cy="228.4" r="2.78"/><circle cx="840.2" cy="228.6" r="2.78"/><circle cx="840.8" cy="231.3" r="2.78"/><circle cx="841.5" cy="240.6" r="2.78"/><circle cx="842.7" cy="244.9" r="2.78"/><circle cx="842.8" cy="245.1" r="2.78"/><circle cx="842.3" cy="243.7" r="2.78"/><circle cx="843.7" cy="248.2" r="2.78"/><circle cx="843.5" cy="243.4" r="2.78"/><circle cx="844.8" cy="233.7" r="2.78"/><circle cx="844.6" cy="234.5" r="2.78"/><circle cx="844.1" cy="248.3" r="2.78"/><circle cx="845.3" cy="239.0" r="2.78"/><circle cx="845.0" cy="232.7" r="2.78"/><circle cx="846.8" cy="240.9" r="2.78"/><circle cx="846.6" cy="237.4" r="2.78"/><circle cx="846.8" cy="231.3" r="2.78"/><circle cx="847.6" cy="235.4" r="2.78"/><circle cx="847.6" cy="235.3" r="2.78"/><circle cx="849.0" cy="239.7" r="2.78"/><circle cx="848.9" cy="231.8" r="2.78"/><circle cx="849.9" cy="227.1" r="2.78"/><circle cx="850.0" cy="228.2" r="2.78"/><circle cx="849.8" cy="227.7" r="2.78"/><circle cx="850.1" cy="235.1" r="2.78"/><circle cx="850.1" cy="241.9" r="2.78"/><circle cx="851.4" cy="224.5" r="2.78"/><circle cx="852.8" cy="245.8" r="2.78"/><circle cx="852.6" cy="237.4" r="2.78"/><circle cx="853.7" cy="236.9" r="2.78"/><circle cx="853.1" cy="228.3" r="2.78"/><circle cx="854.1" cy="240.5" r="2.78"/><circle cx="854.3" cy="242.5" r="2.78"/><circle cx="855.9" cy="246.6" r="2.78"/><circle cx="855.6" cy="245.4" r="2.78"/><circle cx="856.0" cy="247.2" r="2.78"/><circle cx="856.2" cy="246.4" r="2.78"/><circle cx="856.7" cy="246.8" r="2.78"/><circle cx="857.4" cy="250.3" r="2.78"/><circle cx="857.6" cy="252.3" r="2.78"/><circle cx="857.8" cy="256.7" r="2.78"/><circle cx="859.2" cy="257.5" r="2.78"/><circle cx="859.9" cy="261.0" r="2.78"/><circle cx="859.9" cy="260.7" r="2.78"/><circle cx="861.4" cy="217.0" r="2.78"/><circle cx="861.6" cy="216.6" r="2.78"/><circle cx="862.8" cy="219.5" r="2.78"/><circle cx="862.7" cy="214.4" r="2.78"/><circle cx="862.7" cy="213.9" r="2.78"/><circle cx="862.0" cy="215.6" r="2.78"/><circle cx="864.1" cy="212.9" r="2.78"/><circle cx="864.7" cy="213.7" r="2.78"/><circle cx="864.7" cy="213.9" r="2.78"/><circle cx="865.6" cy="217.5" r="2.78"/><circle cx="866.4" cy="221.2" r="2.78"/><circle cx="866.9" cy="229.6" r="2.78"/><circle cx="867.6" cy="224.7" r="2.78"/><circle cx="867.6" cy="230.6" r="2.78"/><circle cx="868.5" cy="226.3" r="2.78"/><circle cx="868.8" cy="231.3" r="2.78"/><circle cx="869.8" cy="232.6" r="2.78"/><circle cx="869.5" cy="229.4" r="2.78"/><circle cx="869.8" cy="231.6" r="2.78"/><circle cx="870.0" cy="226.9" r="2.78"/><circle cx="871.3" cy="218.0" r="2.78"/><circle cx="871.3" cy="217.0" r="2.78"/><circle cx="872.6" cy="225.4" r="2.78"/><circle cx="873.0" cy="220.9" r="2.78"/><circle cx="873.3" cy="222.2" r="2.78"/><circle cx="873.8" cy="222.8" r="2.78"/><circle cx="874.6" cy="219.4" r="2.78"/><circle cx="874.4" cy="219.2" r="2.78"/><circle cx="874.4" cy="219.3" r="2.78"/><circle cx="875.8" cy="219.5" r="2.78"/><circle cx="875.3" cy="216.7" r="2.78"/><circle cx="876.9" cy="235.8" r="2.78"/><circle cx="876.6" cy="219.8" r="2.78"/><circle cx="876.4" cy="220.6" r="2.78"/><circle cx="877.8" cy="234.6" r="2.78"/><circle cx="878.9" cy="231.0" r="2.78"/><circle cx="878.9" cy="230.7" r="2.78"/><circle cx="879.2" cy="169.6" r="2.78"/><circle cx="880.6" cy="149.4" r="2.78"/><circle cx="882.8" cy="155.2" r="2.78"/><circle cx="882.2" cy="157.2" r="2.78"/><circle cx="882.5" cy="153.8" r="2.78"/><circle cx="883.8" cy="166.1" r="2.78"/><circle cx="883.9" cy="165.6" r="2.78"/><circle cx="884.1" cy="165.8" r="2.78"/><circle cx="884.9" cy="170.0" r="2.78"/><circle cx="885.2" cy="170.2" r="2.78"/><circle cx="885.6" cy="173.4" r="2.78"/><circle cx="886.7" cy="177.5" r="2.78"/><circle cx="886.1" cy="173.4" r="2.78"/><circle cx="887.5" cy="166.3" r="2.78"/><circle cx="887.1" cy="176.5" r="2.78"/><circle cx="888.2" cy="171.7" r="2.78"/><circle cx="888.9" cy="167.3" r="2.78"/><circle cx="888.1" cy="170.9" r="2.78"/><circle cx="890.0" cy="164.6" r="2.78"/><circle cx="890.0" cy="163.5" r="2.78"/><circle cx="890.0" cy="164.5" r="2.78"/><circle cx="890.4" cy="146.2" r="2.78"/><circle cx="892.9" cy="139.4" r="2.78"/><circle cx="892.9" cy="140.7" r="2.78"/><circle cx="892.8" cy="139.9" r="2.78"/><circle cx="893.4" cy="143.4" r="2.78"/><circle cx="894.6" cy="136.9" r="2.78"/><circle cx="894.7" cy="137.0" r="2.78"/><circle cx="894.8" cy="135.7" r="2.78"/><circle cx="895.9" cy="137.3" r="2.78"/><circle cx="895.9" cy="137.7" r="2.78"/><circle cx="896.5" cy="138.0" r="2.78"/><circle cx="896.3" cy="136.7" r="2.78"/><circle cx="898.0" cy="136.9" r="2.78"/><circle cx="897.7" cy="137.7" r="2.78"/><circle cx="898.8" cy="111.7" r="2.78"/><circle cx="900.0" cy="106.8" r="2.78"/><circle cx="901.1" cy="115.2" r="2.78"/><circle cx="901.2" cy="114.3" r="2.78"/><circle cx="902.7" cy="112.6" r="2.78"/><circle cx="902.7" cy="111.7" r="2.78"/><circle cx="903.9" cy="102.3" r="2.78"/><circle cx="904.3" cy="93.3" r="2.78"/><circle cx="904.2" cy="93.5" r="2.78"/><circle cx="905.1" cy="106.1" r="2.78"/><circle cx="906.0" cy="98.6" r="2.78"/><circle cx="905.1" cy="106.9" r="2.78"/><circle cx="905.1" cy="105.4" r="2.78"/><circle cx="906.8" cy="104.0" r="2.78"/><circle cx="906.7" cy="104.2" r="2.78"/><circle cx="907.4" cy="101.0" r="2.78"/><circle cx="907.5" cy="100.5" r="2.78"/><circle cx="909.6" cy="97.5" r="2.78"/><circle cx="909.7" cy="93.9" r="2.78"/><circle cx="909.7" cy="92.2" r="2.78"/><circle cx="910.7" cy="86.6" r="2.78"/><circle cx="910.6" cy="93.8" r="2.78"/><circle cx="910.9" cy="94.4" r="2.78"/><circle cx="912.9" cy="91.2" r="2.78"/><circle cx="912.1" cy="89.7" r="2.78"/><circle cx="912.8" cy="82.6" r="2.78"/><circle cx="914.0" cy="79.1" r="2.78"/><circle cx="913.3" cy="81.2" r="2.78"/><circle cx="913.7" cy="96.4" r="2.78"/><circle cx="914.3" cy="98.9" r="2.78"/><circle cx="915.0" cy="84.6" r="2.78"/><circle cx="916.6" cy="90.1" r="2.78"/><circle cx="916.2" cy="88.5" r="2.78"/><circle cx="917.4" cy="97.6" r="2.78"/><circle cx="918.6" cy="101.2" r="2.78"/><circle cx="919.0" cy="168.5" r="2.78"/><circle cx="919.7" cy="165.6" r="2.78"/><circle cx="919.2" cy="169.1" r="2.78"/><circle cx="921.6" cy="150.4" r="2.78"/><circle cx="922.4" cy="150.2" r="2.78"/><circle cx="923.9" cy="150.4" r="2.78"/><circle cx="923.8" cy="150.2" r="2.78"/><circle cx="923.1" cy="149.2" r="2.78"/><circle cx="924.7" cy="160.5" r="2.78"/><circle cx="924.5" cy="155.3" r="2.78"/><circle cx="924.3" cy="159.4" r="2.78"/><circle cx="925.3" cy="154.0" r="2.78"/><circle cx="925.7" cy="141.5" r="2.78"/><circle cx="926.2" cy="147.6" r="2.78"/><circle cx="926.7" cy="142.4" r="2.78"/><circle cx="928.0" cy="144.1" r="2.78"/><circle cx="927.3" cy="145.9" r="2.78"/><circle cx="927.7" cy="144.7" r="2.78"/><circle cx="930.0" cy="166.6" r="2.78"/><circle cx="929.5" cy="163.5" r="2.78"/><circle cx="929.8" cy="164.9" r="2.78"/><circle cx="930.8" cy="169.7" r="2.78"/><circle cx="930.5" cy="168.3" r="2.78"/><circle cx="931.2" cy="171.6" r="2.78"/><circle cx="931.2" cy="172.0" r="2.78"/></g>
<polyline points="121.2,445.8 121.5,445.4 121.8,444.9 122.1,444.5 122.4,444.1 122.7,443.6 123.0,443.2 123.3,442.8 123.6,442.3 123.9,441.8 124.2,441.3 124.5,440.8 124.8,440.4 125.1,439.9 125.4,439.5 125.7,439.0 126.0,438.7 126.3,438.3 126.6,438.0 126.9,438.3 127.2,438.7 127.5,439.1 127.8,439.5 128.1,440.0 128.4,440.5 128.7,441.6 129.0,442.8 129.3,444.1 129.6,445.4 129.9,446.7 130.2,448.1 130.5,449.5 130.8,451.1 131.1,452.7 131.4,454.3 131.7,455.9 132.0,457.5 132.3,459.1 132.6,460.6 132.9,462.0 133.2,463.0 133.5,463.8 133.8,464.6 134.1,465.4 134.4,466.2 134.7,466.9 135.0,467.6 135.3,468.3 135.6,468.9 135.9,469.4 136.2,469.9 136.5,470.0 136.8,470.0 137.1,470.0 137.4,470.0 137.7,470.0 138.0,470.0 138.3,470.0 138.6,470.0 138.9,470.0 139.2,470.0 139.5,470.0 139.8,470.0 140.1,470.0 140.4,470.0 140.7,470.0 141.0,470.0 141.3,470.0 141.6,470.1 141.9,470.1 142.2,470.2 142.5,470.3 142.8,470.4 143.1,470.4 143.4,470.5 143.7,470.6 144.0,470.7 144.3,470.8 144.6,470.9 144.9,471.0 145.2,471.1 145.5,471.2 145.8,471.3 146.1,471.4 146.4,471.5 146.7,471.6 147.0,471.7 147.3,471.8 147.6,472.0 147.9,472.2 148.2,472.5 148.5,472.8 148.8,473.2 149.1,473.5 149.4,473.8 149.7,474.2 150.0,474.5 150.3,474.8 150.6,475.1 150.9,475.4 151.2,475.7 151.5,476.0 151.8,476.2 152.1,476.0 152.4,475.5 152.7,474.9 153.0,474.3 153.3,473.6 153.6,473.0 153.9,472.3 154.2,471.7 154.5,471.1 154.8,470.5 155.1,469.9 155.4,469.3 155.7,468.8 156.0,468.3 156.3,468.1 156.6,468.7 156.9,469.4 157.2,470.2 157.5,471.1 157.8,471.9 158.1,472.9 158.4,474.2 158.7,475.5 159.0,476.8 159.3,478.2 159.6,479.5 159.9,480.8 160.2,482.0 160.5,483.0 160.8,484.1 161.1,485.1 161.4,486.1 161.7,487.0 162.0,487.6 162.3,487.7 162.6,487.9 162.9,488.0 163.2,488.1 163.5,488.2 163.8,488.4 164.1,488.5 164.4,488.6 164.7,488.7 165.0,488.7 165.3,488.7 165.6,488.6 165.9,488.6 166.2,488.5 166.5,488.4 166.8,488.4 167.1,488.3 167.4,488.2 167.7,488.1 168.0,488.0 168.3,487.1 168.6,486.0 168.9,484.8 169.2,483.5 169.5,482.2 169.8,480.8 170.1,479.5 170.4,478.0 170.7,476.5 171.0,475.0 171.3,473.5 171.6,471.9 171.9,470.4 172.2,468.9 172.5,467.5 172.8,466.3 173.1,465.1 173.4,463.9 173.7,462.8 174.0,461.8 174.3,460.9 174.6,460.5 174.9,460.4 175.2,460.4 175.5,460.3 175.8,460.2 176.1,460.1 176.4,460.1 176.7,460.0 177.0,460.1 177.3,460.3 177.6,460.7 177.9,461.0 178.2,461.4 178.5,461.7 178.8,461.8 179.1,461.5 179.4,461.0 179.7,460.5 180.0,460.0 180.3,459.4 180.6,458.9 180.9,458.3 181.2,457.8 181.5,457.4 181.8,457.0 182.1,457.0 182.4,457.3 182.7,457.6 183.0,457.9 183.3,458.2 183.6,458.5 183.9,458.8 184.2,459.2 184.5,459.5 184.8,459.8 185.1,460.1 185.4,460.3 185.7,460.5 186.0,460.7 186.3,460.9 186.6,461.1 186.9,461.3 187.2,461.5 187.5,461.7 187.8,461.8 188.1,461.8 188.4,461.6 188.7,461.3 189.0,461.0 189.3,460.7 189.6,460.4 189.9,460.0 190.2,459.7 190.5,459.3 190.8,459.0 191.1,458.7 191.4,458.4 191.7,458.1 192.0,458.0 192.3,458.1 192.6,458.2 192.9,458.4 193.2,458.5 193.5,458.6 193.8,458.8 194.1,458.9 194.4,459.1 194.7,459.2 195.0,459.4 195.3,459.5 195.6,459.7 195.9,459.8 196.2,460.0 196.5,460.1 196.8,460.2 197.1,460.4 197.4,460.5 197.7,460.6 198.0,460.8 198.3,460.9 198.6,461.0 198.9,461.1 199.2,461.2 199.5,461.0 199.8,460.4 200.1,459.5 200.4,458.6 200.7,457.7 201.0,456.7 201.3,455.7 201.6,454.7 201.9,453.7 202.2,452.7 202.5,451.6 202.8,450.5 203.1,449.4 203.4,448.4 203.7,447.3 204.0,446.3 204.3,445.3 204.6,444.6 204.9,444.1 205.2,443.5 205.5,443.0 205.8,442.5 206.1,442.1 206.4,442.0 206.7,442.4 207.0,442.8 207.3,443.3 207.6,443.8 207.9,444.2 208.2,445.0 208.5,445.8 208.8,446.7 209.1,447.7 209.4,448.7 209.7,449.6 210.0,450.6 210.3,451.6 210.6,452.5 210.9,453.4 211.2,454.3 211.5,455.2 211.8,456.2 212.1,457.1 212.4,457.9 212.7,458.7 213.0,459.4 213.3,459.6 213.6,459.8 213.9,460.0 214.2,460.2 214.5,460.4 214.8,460.5 215.1,460.5 215.4,460.2 215.7,459.9 216.0,459.5 216.3,459.1 216.6,458.7 216.9,458.3 217.2,457.9 217.5,457.5 217.8,457.1 218.1,456.7 218.4,456.4 218.7,456.0 219.0,455.6 219.3,455.2 219.6,454.9 219.9,454.5 220.2,454.1 220.5,453.7 220.8,453.4 221.1,453.0 221.4,452.6 221.7,452.2 222.0,451.9 222.3,451.5 222.6,451.1 222.9,450.8 223.2,450.5 223.5,450.2 223.8,449.8 224.1,449.5 224.4,449.2 224.7,448.9 225.0,448.6 225.3,448.3 225.6,447.9 225.9,447.6 226.2,447.3 226.5,447.0 226.8,446.7 227.1,446.3 227.4,446.0 227.7,445.7 228.0,445.3 228.3,444.9 228.6,444.6 228.9,444.1 229.2,443.5 229.5,442.9 229.8,442.3 230.1,441.7 230.4,441.0 230.7,440.3 231.0,439.7 231.3,439.0 231.6,438.2 231.9,437.5 232.2,436.2 232.5,434.8 232.8,433.3 233.1,431.8 233.4,430.4 233.7,429.0 234.0,427.9 234.3,426.9 234.6,425.8 234.9,424.8 235.2,424.0 235.5,423.2 235.8,423.3 236.1,423.9 236.4,424.6 236.7,425.3 237.0,426.0 237.3,426.8 237.6,427.6 237.9,428.3 238.2,428.9 238.5,429.5 238.8,430.2 239.1,430.8 239.4,431.4 239.7,432.0 240.0,432.6 240.3,433.1 240.6,433.5 240.9,433.1 241.2,432.6 241.5,432.1 241.8,431.5 242.1,430.9 242.4,430.2 242.7,429.6 243.0,429.0 243.3,428.3 243.6,427.8 243.9,427.3 244.2,426.9 244.5,426.5 244.8,426.2 245.1,425.8 245.4,425.4 245.7,425.0 246.0,424.6 246.3,424.0 246.6,423.5 246.9,422.9 247.2,422.2 247.5,421.5 247.8,419.8 248.1,417.8 248.4,415.7 248.7,413.1 249.0,410.0 249.3,407.2 249.6,404.6 249.9,402.0 250.2,399.4 250.5,396.8 250.8,394.4 251.1,392.0 251.4,389.7 251.7,387.4 252.0,385.6 252.3,384.3 252.6,383.1 252.9,381.9 253.2,380.8 253.5,379.8 253.8,378.9 254.1,378.6 254.4,378.3 254.7,378.0 255.0,377.8 255.3,377.5 255.6,377.3 255.9,377.0 256.2,376.7 256.5,376.4 256.8,376.1 257.1,375.4 257.4,374.5 257.7,373.6 258.0,372.5 258.3,371.5 258.6,370.5 258.9,369.5 259.2,368.4 259.5,367.3 259.8,366.2 260.1,365.2 260.4,364.3 260.7,363.7 261.0,363.5 261.3,363.3 261.6,363.1 261.9,363.0 262.2,362.8 262.5,362.7 262.8,362.5 263.1,362.4 263.4,362.2 263.7,362.0 264.0,361.5 264.3,361.0 264.6,360.3 264.9,359.7 265.2,359.0 265.5,358.3 265.8,357.6 266.1,356.9 266.4,356.2 266.7,355.5 267.0,354.7 267.3,354.0 267.6,353.2 267.9,352.4 268.2,351.6 268.5,350.8 268.8,350.0 269.1,349.2 269.4,348.4 269.7,347.6 270.0,346.8 270.3,346.0 270.6,345.3 270.9,344.6 271.2,343.9 271.5,343.4 271.8,343.0 272.1,342.5 272.4,342.1 272.7,341.7 273.0,341.3 273.3,341.0 273.6,340.6 273.9,340.2 274.2,339.8 274.5,339.4 274.8,339.0 275.1,338.6 275.4,338.2 275.7,337.8 276.0,337.5 276.3,337.1 276.6,336.7 276.9,336.3 277.2,335.9 277.5,335.5 277.8,335.1 278.1,334.7 278.4,334.3 278.7,333.8 279.0,333.0 279.3,332.2 279.6,331.2 279.9,330.3 280.2,329.3 280.5,328.3 280.8,327.3 281.1,326.3 281.4,325.3 281.7,324.4 282.0,323.5 282.3,322.6 282.6,321.8 282.9,320.9 283.2,320.0 283.5,319.1 283.8,318.3 284.1,317.5 284.4,316.8 284.7,316.2 285.0,315.6 285.3,316.0 285.6,316.6 285.9,317.2 286.2,317.9 286.5,318.5 286.8,319.2 287.1,319.9 287.4,320.7 287.7,321.5 288.0,322.3 288.3,323.1 288.6,323.9 288.9,324.7 289.2,325.5 289.5,326.3 289.8,327.0 290.1,327.7 290.4,328.2 290.7,328.7 291.0,329.2 291.3,329.7 291.6,330.2 291.9,330.6 292.2,331.0 292.5,331.4 292.8,331.8 293.1,331.9 293.4,331.6 293.7,331.2 294.0,330.9 294.3,330.4 294.6,330.0 294.9,329.5 295.2,329.1 295.5,328.6 295.8,328.2 296.1,327.7 296.4,327.3 296.7,326.8 297.0,326.4 297.3,325.9 297.6,325.5 297.9,325.0 298.2,324.6 298.5,324.1 298.8,323.7 299.1,323.2 299.4,322.8 299.7,322.3 300.0,321.9 300.3,321.4 300.6,321.0 300.9,320.5 301.2,320.1 301.5,319.7 301.8,319.2 302.1,318.8 302.4,318.4 302.7,318.0 303.0,317.6 303.3,317.2 303.6,316.8 303.9,316.4 304.2,316.0 304.5,315.6 304.8,315.2 305.1,314.9 305.4,314.8 305.7,314.6 306.0,314.4 306.3,314.3 306.6,314.1 306.9,314.0 307.2,313.8 307.5,313.6 307.8,313.5 308.1,313.3 308.4,313.2 308.7,313.0 309.0,312.8 309.3,312.6 309.6,311.9 309.9,310.8 310.2,309.6 310.5,308.3 310.8,307.0 311.1,305.7 311.4,304.4 311.7,303.2 312.0,302.3 312.3,301.6 312.6,300.9 312.9,300.2 313.2,299.6 313.5,299.0 313.8,298.4 314.1,297.9 314.4,297.5 314.7,297.9 315.0,298.4 315.3,299.0 315.6,299.6 315.9,300.3 316.2,301.0 316.5,301.6 316.8,302.3 317.1,303.0 317.4,303.8 317.7,304.6 318.0,305.5 318.3,306.3 318.6,307.1 318.9,307.8 319.2,308.4 319.5,308.6 319.8,308.2 320.1,307.8 320.4,307.3 320.7,306.8 321.0,306.2 321.3,305.7 321.6,305.1 321.9,304.5 322.2,303.9 322.5,303.4 322.8,302.8 323.1,302.4 323.4,301.9 323.7,301.6 324.0,301.2 324.3,300.8 324.6,300.4 324.9,300.0 325.2,299.6 325.5,299.2 325.8,298.7 326.1,298.3 326.4,297.3 326.7,295.7 327.0,294.0 327.3,292.2 327.6,290.0 327.9,286.9 328.2,283.6 328.5,280.2 328.8,277.0 329.1,273.9 329.4,270.9 329.7,267.9 330.0,265.0 330.3,262.9 330.6,260.8 330.9,258.8 331.2,256.8 331.5,254.9 331.8,253.1 332.1,251.8 332.4,250.7 332.7,249.7 333.0,248.7 333.3,248.3 333.6,247.8 333.9,247.4 334.2,247.0 334.5,246.6 334.8,246.2 335.1,245.8 335.4,245.3 335.7,244.7 336.0,243.6 336.3,242.4 336.6,241.2 336.9,240.0 337.2,238.7 337.5,237.5 337.8,236.1 338.1,234.7 338.4,233.2 338.7,231.8 339.0,230.4 339.3,229.2 339.6,228.3 339.9,227.6 340.2,227.0 340.5,226.4 340.8,225.8 341.1,225.3 341.4,224.8 341.7,224.5 342.0,224.2 342.3,224.0 342.6,223.7 342.9,223.4 343.2,223.1 343.5,222.8 343.8,222.4 344.1,221.5 344.4,220.6 344.7,219.6 345.0,218.6 345.3,217.6 345.6,216.5 345.9,214.9 346.2,213.1 346.5,211.3 346.8,209.4 347.1,207.6 347.4,205.8 347.7,204.1 348.0,202.5 348.3,201.7 348.6,201.0 348.9,200.3 349.2,199.6 349.5,198.9 349.8,198.2 350.1,197.6 350.4,197.0 350.7,196.3 351.0,195.7 351.3,195.1 351.6,194.5 351.9,193.8 352.2,193.2 352.5,192.5 352.8,191.8 353.1,191.1 353.4,190.4 353.7,189.8 354.0,189.1 354.3,188.4 354.6,187.7 354.9,187.0 355.2,186.3 355.5,185.6 355.8,184.9 356.1,184.1 356.4,183.3 356.7,182.2 357.0,181.2 357.3,180.2 357.6,179.1 357.9,178.0 358.2,177.0 358.5,175.9 358.8,174.8 359.1,173.6 359.4,172.5 359.7,171.1 360.0,169.6 360.3,168.0 360.6,166.5 360.9,164.9 361.2,163.4 361.5,161.9 361.8,160.5 362.1,159.3 362.4,158.1 362.7,157.0 363.0,155.9 363.3,154.9 363.6,154.1 363.9,153.8 364.2,154.0 364.5,154.2 364.8,154.4 365.1,154.6 365.4,154.8 365.7,155.2 366.0,155.8 366.3,156.5 366.6,157.3 366.9,158.0 367.2,158.8 367.5,159.5 367.8,160.2 368.1,160.7 368.4,160.9 368.7,161.2 369.0,161.4 369.3,161.7 369.6,161.9 369.9,162.1 370.2,162.3 370.5,162.5 370.8,162.3 371.1,162.0 371.4,161.7 371.7,161.3 372.0,160.9 372.3,160.4 372.6,160.0 372.9,159.5 373.2,158.9 373.5,158.0 373.8,157.1 374.1,156.1 374.4,155.1 374.7,154.1 375.0,153.1 375.3,152.2 375.6,151.2 375.9,150.4 376.2,149.6 376.5,148.8 376.8,148.0 377.1,147.2 377.4,146.4 377.7,145.7 378.0,145.0 378.3,144.6 378.6,144.3 378.9,143.9 379.2,143.6 379.5,143.2 379.8,142.9 380.1,142.6 380.4,142.3 380.7,141.9 381.0,141.6 381.3,141.2 381.6,140.6 381.9,139.9 382.2,139.3 382.5,138.7 382.8,138.5 383.1,138.2 383.4,138.0 383.7,137.8 384.0,137.6 384.3,137.4 384.6,137.2 384.9,137.0 385.2,136.8 385.5,136.5 385.8,136.3 386.1,136.1 386.4,135.9 386.7,135.7 387.0,135.4 387.3,135.2 387.6,134.8 387.9,134.0 388.2,133.2 388.5,132.4 388.8,131.5 389.1,130.6 389.4,129.7 389.7,128.8 390.0,127.9 390.3,127.1 390.6,126.2 390.9,125.6 391.2,124.9 391.5,124.2 391.8,123.5 392.1,122.8 392.4,122.2 392.7,121.7 393.0,121.3 393.3,121.8 393.6,122.4 393.9,123.1 394.2,123.8 394.5,124.6 394.8,125.4 395.1,126.2 395.4,127.0 395.7,127.7 396.0,128.5 396.3,129.2 396.6,130.0 396.9,130.7 397.2,131.5 397.5,132.1 397.8,132.7 398.1,132.9 398.4,132.5 398.7,132.1 399.0,131.6 399.3,131.0 399.6,130.5 399.9,129.9 400.2,129.4 400.5,128.8 400.8,128.3 401.1,127.7 401.4,127.3 401.7,127.0 402.0,126.6 402.3,126.3 402.6,126.0 402.9,125.7 403.2,125.3 403.5,125.0 403.8,124.7 404.1,124.4 404.4,124.0 404.7,123.7 405.0,123.3 405.3,122.9 405.6,122.5 405.9,121.4 406.2,120.3 406.5,119.0 406.8,117.7 407.1,116.4 407.4,115.1 407.7,113.8 408.0,112.5 408.3,111.3 408.6,110.0 408.9,108.8 409.2,107.5 409.5,106.2 409.8,105.0 410.1,103.8 410.4,102.6 410.7,101.6 411.0,100.7 411.3,100.1 411.6,100.4 411.9,100.9 412.2,101.4 412.5,101.9 412.8,102.4 413.1,102.9 413.4,103.3 413.7,103.7 414.0,103.7 414.3,103.5 414.6,103.4 414.9,103.3 415.2,103.1 415.5,102.9 415.8,102.8 416.1,102.6 416.4,102.5 416.7,102.3 417.0,102.2 417.3,102.1 417.6,102.1 417.9,102.7 418.2,103.2 418.5,103.9 418.8,104.6 419.1,105.3 419.4,106.0 419.7,106.8 420.0,107.5 420.3,108.1 420.6,108.8 420.9,109.1 421.2,109.5 421.5,109.8 421.8,110.1 422.1,110.5 422.4,110.8 422.7,111.1 423.0,111.4 423.3,111.7 423.6,111.9 423.9,111.9 424.2,111.7 424.5,111.5 424.8,111.2 425.1,110.9 425.4,110.6 425.7,110.3 426.0,110.0 426.3,109.7 426.6,109.4 426.9,109.2 427.2,108.9 427.5,108.8 427.8,109.0 428.1,109.2 428.4,109.5 428.7,109.8 429.0,110.2 429.3,110.5 429.6,110.9 429.9,111.2 430.2,111.6 430.5,112.0 430.8,112.3 431.1,112.7 431.4,113.1 431.7,113.4 432.0,113.8 432.3,114.1 432.6,114.4 432.9,114.7 433.2,115.0 433.5,115.4 433.8,115.7 434.1,116.0 434.4,116.4 434.7,116.7 435.0,117.0 435.3,117.3 435.6,117.5 435.9,117.8 436.2,118.0 436.5,117.7 436.8,117.2 437.1,116.8 437.4,116.2 437.7,115.6 438.0,115.0 438.3,114.5 438.6,113.9 438.9,113.3 439.2,112.8 439.5,112.4 439.8,112.2 440.1,111.9 440.4,111.6 440.7,111.4 441.0,111.2 441.3,111.0 441.6,110.8 441.9,110.6 442.2,111.1 442.5,111.7 442.8,112.3 443.1,113.0 443.4,113.7 443.7,114.5 444.0,115.2 444.3,116.0 444.6,117.1 444.9,118.3 445.2,119.7 445.5,121.0 445.8,122.4 446.1,123.8 446.4,125.2 446.7,126.6 447.0,127.9 447.3,129.1 447.6,130.4 447.9,131.6 448.2,132.9 448.5,134.1 448.8,135.3 449.1,136.5 449.4,137.7 449.7,138.9 450.0,140.0 450.3,140.9 450.6,141.9 450.9,142.8 451.2,143.6 451.5,144.4 451.8,144.7 452.1,145.0 452.4,145.3 452.7,145.6 453.0,145.9 453.3,146.1 453.6,146.4 453.9,146.6 454.2,146.9 454.5,147.1 454.8,147.3 455.1,147.6 455.4,147.7 455.7,147.9 456.0,148.0 456.3,148.2 456.6,148.3 456.9,148.5 457.2,148.6 457.5,148.7 457.8,148.9 458.1,149.0 458.4,149.2 458.7,149.3 459.0,149.5 459.3,149.6 459.6,149.8 459.9,149.9 460.2,150.2 460.5,150.5 460.8,150.8 461.1,151.2 461.4,151.5 461.7,151.8 462.0,152.2 462.3,152.5 462.6,152.9 462.9,153.2 463.2,153.6 463.5,153.9 463.8,154.3 464.1,154.7 464.4,155.0 464.7,155.4 465.0,155.8 465.3,156.2 465.6,156.6 465.9,156.9 466.2,157.3 466.5,157.6 466.8,157.9 467.1,157.8 467.4,157.5 467.7,157.2 468.0,156.8 468.3,156.4 468.6,156.0 468.9,155.6 469.2,155.2 469.5,154.9 469.8,154.5 470.1,154.2 470.4,153.8 470.7,153.5 471.0,153.2 471.3,153.1 471.6,153.9 471.9,154.8 472.2,155.9 472.5,157.0 472.8,158.0 473.1,159.2 473.4,160.4 473.7,161.7 474.0,163.0 474.3,164.4 474.6,165.7 474.9,167.0 475.2,168.3 475.5,169.6 475.8,170.8 476.1,171.9 476.4,173.0 476.7,174.1 477.0,175.0 477.3,175.2 477.6,175.4 477.9,175.6 478.2,175.8 478.5,176.0 478.8,176.2 479.1,176.4 479.4,176.6 479.7,176.7 480.0,176.9 480.3,177.1 480.6,177.2 480.9,177.3 481.2,177.5 481.5,177.6 481.8,177.7 482.1,177.9 482.4,178.0 482.7,177.9 483.0,177.7 483.3,177.4 483.6,177.2 483.9,176.9 484.2,176.6 484.5,176.3 484.8,176.0 485.1,175.6 485.4,175.3 485.7,174.3 486.0,171.6 486.3,168.5 486.6,165.3 486.9,162.5 487.2,160.9 487.5,159.4 487.8,157.9 488.1,156.5 488.4,155.2 488.7,153.9 489.0,153.3 489.3,152.9 489.6,152.4 489.9,152.0 490.2,151.7 490.5,151.3 490.8,151.5 491.1,151.9 491.4,152.4 491.7,152.9 492.0,153.5 492.3,154.0 492.6,154.5 492.9,154.9 493.2,154.8 493.5,154.5 493.8,154.2 494.1,153.8 494.4,153.4 494.7,153.0 495.0,152.6 495.3,152.2 495.6,151.9 495.9,151.6 496.2,151.3 496.5,151.5 496.8,151.9 497.1,152.3 497.4,152.8 497.7,153.3 498.0,153.8 498.3,154.3 498.6,154.8 498.9,155.3 499.2,155.9 499.5,156.6 499.8,157.2 500.1,157.9 500.4,158.5 500.7,159.1 501.0,159.6 501.3,160.0 501.6,159.9 501.9,159.7 502.2,159.6 502.5,159.4 502.8,159.3 503.1,159.1 503.4,158.9 503.7,158.8 504.0,158.6 504.3,158.4 504.6,158.1 504.9,157.9 505.2,157.7 505.5,157.4 505.8,157.2 506.1,157.1 506.4,157.1 506.7,157.2 507.0,157.4 507.3,157.6 507.6,157.9 507.9,158.1 508.2,158.3 508.5,158.6 508.8,158.8 509.1,159.2 509.4,159.6 509.7,160.0 510.0,160.4 510.3,160.8 510.6,161.2 510.9,161.6 511.2,162.0 511.5,162.5 511.8,162.9 512.1,163.2 512.4,163.6 512.7,163.9 513.0,164.2 513.3,164.5 513.6,164.7 513.9,165.0 514.2,165.3 514.5,165.5 514.8,165.7 515.1,166.0 515.4,166.1 515.7,166.1 516.0,165.8 516.3,165.3 516.6,164.8 516.9,164.3 517.2,163.8 517.5,163.3 517.8,162.8 518.1,162.4 518.4,162.2 518.7,161.9 519.0,161.7 519.3,161.4 519.6,161.2 519.9,161.0 520.2,160.8 520.5,160.6 520.8,160.9 521.1,161.5 521.4,162.2 521.7,162.9 522.0,163.7 522.3,164.5 522.6,165.5 522.9,166.9 523.2,168.4 523.5,170.0 523.8,171.7 524.1,173.3 524.4,175.0 524.7,177.0 525.0,179.1 525.3,181.1 525.6,183.2 525.9,185.3 526.2,187.2 526.5,188.6 526.8,189.9 527.1,191.2 527.4,192.4 527.7,193.6 528.0,194.8 528.3,195.9 528.6,197.0 528.9,197.7 529.2,198.2 529.5,198.6 529.8,199.1 530.1,199.5 530.4,199.9 530.7,200.2 531.0,200.6 531.3,201.0 531.6,201.4 531.9,201.7 532.2,202.1 532.5,202.5 532.8,202.8 533.1,203.1 533.4,203.4 533.7,203.7 534.0,204.0 534.3,204.3 534.6,204.6 534.9,204.9 535.2,205.2 535.5,205.5 535.8,205.8 536.1,206.1 536.4,206.4 536.7,206.6 537.0,206.9 537.3,207.2 537.6,207.5 537.9,207.9 538.2,208.2 538.5,208.5 538.8,208.8 539.1,209.3 539.4,209.7 539.7,210.1 540.0,210.6 540.3,211.1 540.6,211.6 540.9,212.1 541.2,212.7 541.5,213.2 541.8,213.7 542.1,214.3 542.4,214.8 542.7,215.4 543.0,215.9 543.3,216.4 543.6,216.9 543.9,217.3 544.2,217.8 544.5,218.2 544.8,218.5 545.1,218.7 545.4,218.5 545.7,218.3 546.0,218.0 546.3,217.8 546.6,217.5 546.9,217.2 547.2,216.9 547.5,216.6 547.8,216.3 548.1,216.0 548.4,215.7 548.7,215.5 549.0,215.3 549.3,215.1 549.6,215.4 549.9,216.1 550.2,217.0 550.5,217.9 550.8,218.8 551.1,219.8 551.4,220.9 551.7,221.9 552.0,222.9 552.3,224.2 552.6,225.6 552.9,226.9 553.2,228.3 553.5,229.7 553.8,231.1 554.1,232.5 554.4,233.8 554.7,235.1 555.0,236.3 555.3,236.9 555.6,237.5 555.9,238.1 556.2,238.7 556.5,239.3 556.8,239.9 557.1,240.4 557.4,241.0 557.7,241.5 558.0,242.0 558.3,242.3 558.6,242.6 558.9,242.9 559.2,243.3 559.5,243.6 559.8,243.9 560.1,244.2 560.4,244.4 560.7,244.7 561.0,245.0 561.3,245.2 561.6,245.4 561.9,245.6 562.2,244.9 562.5,244.1 562.8,243.2 563.1,242.2 563.4,241.2 563.7,240.2 564.0,238.7 564.3,237.1 564.6,235.3 564.9,233.6 565.2,231.8 565.5,230.1 565.8,228.5 566.1,226.9 566.4,225.9 566.7,225.3 567.0,224.7 567.3,224.2 567.6,223.6 567.9,223.1 568.2,222.6 568.5,222.2 568.8,222.0 569.1,222.4 569.4,222.9 569.7,223.4 570.0,224.0 570.3,224.6 570.6,225.3 570.9,225.9 571.2,226.4 571.5,227.0 571.8,227.4 572.1,227.4 572.4,227.2 572.7,227.0 573.0,226.8 573.3,226.6 573.6,226.4 573.9,226.1 574.2,225.9 574.5,225.7 574.8,225.5 575.1,225.3 575.4,225.1 575.7,225.1 576.0,225.6 576.3,226.1 576.6,226.7 576.9,227.3 577.2,227.9 577.5,228.6 577.8,229.3 578.1,229.9 578.4,230.6 578.7,231.2 579.0,231.7 579.3,232.1 579.6,232.7 579.9,233.1 580.2,233.6 580.5,234.1 580.8,234.5 581.1,234.8 581.4,235.0 581.7,234.9 582.0,234.7 582.3,234.6 582.6,234.5 582.9,234.3 583.2,234.2 583.5,234.1 583.8,233.9 584.1,233.8 584.4,233.8 584.7,234.0 585.0,234.3 585.3,234.6 585.6,234.9 585.9,235.3 586.2,235.7 586.5,236.1 586.8,236.5 587.1,236.9 587.4,237.3 587.7,237.6 588.0,238.0 588.3,238.4 588.6,238.8 588.9,239.2 589.2,239.5 589.5,239.9 589.8,240.3 590.1,240.7 590.4,241.1 590.7,241.5 591.0,241.9 591.3,242.3 591.6,242.6 591.9,243.0 592.2,243.3 592.5,243.7 592.8,244.0 593.1,244.4 593.4,244.7 593.7,245.0 594.0,245.3 594.3,245.5 594.6,245.4 594.9,245.0 595.2,244.6 595.5,244.1 595.8,243.7 596.1,243.2 596.4,242.7 596.7,242.2 597.0,241.8 597.3,241.3 597.6,240.9 597.9,240.4 598.2,240.0 598.5,239.6 598.8,239.4 599.1,239.7 599.4,240.1 599.7,240.5 600.0,240.9 600.3,241.4 600.6,241.9 600.9,243.3 601.2,244.9 601.5,246.6 601.8,248.4 602.1,250.2 602.4,251.9 602.7,253.6 603.0,255.3 603.3,256.9 603.6,258.6 603.9,260.3 604.2,261.9 604.5,263.5 604.8,264.9 605.1,266.0 605.4,267.0 605.7,268.1 606.0,269.1 606.3,270.2 606.6,271.3 606.9,272.4 607.2,273.5 607.5,274.6 607.8,275.7 608.1,276.7 608.4,277.7 608.7,278.6 609.0,279.0 609.3,279.4 609.6,279.7 609.9,280.0 610.2,280.3 610.5,280.6 610.8,280.9 611.1,281.2 611.4,281.4 611.7,281.7 612.0,282.0 612.3,282.3 612.6,282.6 612.9,283.0 613.2,283.3 613.5,283.7 613.8,284.0 614.1,284.4 614.4,284.7 614.7,285.1 615.0,285.4 615.3,285.8 615.6,286.2 615.9,286.5 616.2,286.9 616.5,287.2 616.8,287.6 617.1,288.0 617.4,288.3 617.7,288.7 618.0,289.1 618.3,289.4 618.6,289.8 618.9,290.2 619.2,290.6 619.5,291.1 619.8,291.5 620.1,292.0 620.4,292.5 620.7,292.9 621.0,293.4 621.3,293.9 621.6,294.4 621.9,294.8 622.2,295.3 622.5,295.7 622.8,296.1 623.1,296.5 623.4,296.9 623.7,297.3 624.0,297.6 624.3,297.9 624.6,297.8 624.9,297.5 625.2,297.1 625.5,296.7 625.8,296.3 626.1,295.9 626.4,295.5 626.7,295.2 627.0,295.0 627.3,295.0 627.6,295.0 627.9,295.0 628.2,295.0 628.5,295.0 628.8,295.2 629.1,296.3 629.4,297.6 629.7,299.1 630.0,300.7 630.3,302.3 630.6,303.7 630.9,305.2 631.2,306.6 631.5,308.1 631.8,309.6 632.1,311.0 632.4,312.4 632.7,313.7 633.0,315.0 633.3,315.7 633.6,316.3 633.9,316.9 634.2,317.5 634.5,318.1 634.8,318.7 635.1,319.3 635.4,319.8 635.7,320.3 636.0,320.8 636.3,321.3 636.6,321.5 636.9,321.8 637.2,322.0 637.5,322.2 637.8,322.4 638.1,322.6 638.4,322.9 638.7,323.0 639.0,323.2 639.3,323.4 639.6,323.6 639.9,323.7 640.2,323.3 640.5,322.4 640.8,321.5 641.1,320.4 641.4,319.3 641.7,318.1 642.0,316.9 642.3,315.8 642.6,314.5 642.9,312.9 643.2,311.2 643.5,309.5 643.8,307.8 644.1,306.1 644.4,304.4 644.7,302.8 645.0,301.3 645.3,300.2 645.6,299.1 645.9,298.0 646.2,296.9 646.5,296.0 646.8,295.2 647.1,295.1 647.4,295.3 647.7,295.6 648.0,295.8 648.3,296.1 648.6,296.4 648.9,296.7 649.2,296.9 649.5,297.2 649.8,297.4 650.1,297.4 650.4,297.1 650.7,296.8 651.0,296.4 651.3,296.0 651.6,295.6 651.9,295.1 652.2,294.7 652.5,294.3 652.8,293.8 653.1,293.4 653.4,293.0 653.7,292.6 654.0,292.3 654.3,292.0 654.6,292.1 654.9,292.4 655.2,292.8 655.5,293.2 655.8,293.7 656.1,294.1 656.4,294.6 656.7,295.1 657.0,295.6 657.3,296.1 657.6,296.6 657.9,297.1 658.2,297.6 658.5,298.0 658.8,298.4 659.1,298.8 659.4,299.1 659.7,299.0 660.0,298.6 660.3,298.2 660.6,297.7 660.9,297.2 661.2,296.7 661.5,296.2 661.8,295.7 662.1,295.2 662.4,294.7 662.7,294.3 663.0,294.0 663.3,293.8 663.6,293.8 663.9,293.8 664.2,293.9 664.5,293.9 664.8,293.9 665.1,294.0 665.4,294.0 665.7,294.1 666.0,294.1 666.3,294.2 666.6,294.2 666.9,294.3 667.2,294.3 667.5,294.4 667.8,294.6 668.1,294.8 668.4,295.0 668.7,295.2 669.0,295.4 669.3,295.7 669.6,295.9 669.9,296.2 670.2,296.4 670.5,296.7 670.8,296.9 671.1,297.1 671.4,297.3 671.7,297.5 672.0,297.7 672.3,297.9 672.6,297.9 672.9,297.5 673.2,297.0 673.5,296.5 673.8,296.0 674.1,295.4 674.4,294.8 674.7,294.2 675.0,293.6 675.3,293.1 675.6,292.5 675.9,291.9 676.2,291.3 676.5,290.7 676.8,290.1 677.1,289.5 677.4,288.9 677.7,288.4 678.0,288.0 678.3,288.5 678.6,289.0 678.9,289.6 679.2,290.3 679.5,291.0 679.8,291.7 680.1,292.5 680.4,293.3 680.7,294.2 681.0,295.5 681.3,296.9 681.6,298.3 681.9,299.8 682.2,301.2 682.5,302.7 682.8,304.2 683.1,305.7 683.4,307.1 683.7,308.5 684.0,309.7 684.3,310.8 684.6,311.9 684.9,313.0 685.2,314.1 685.5,315.2 685.8,316.2 686.1,317.2 686.4,318.1 686.7,318.9 687.0,319.4 687.3,319.5 687.6,319.5 687.9,319.6 688.2,319.6 688.5,319.6 688.8,319.7 689.1,319.7 689.4,319.8 689.7,319.8 690.0,319.8 690.3,319.9 690.6,319.9 690.9,319.9 691.2,320.0 691.5,320.1 691.8,320.2 692.1,320.3 692.4,320.5 692.7,320.6 693.0,320.7 693.3,320.9 693.6,321.0 693.9,321.2 694.2,321.3 694.5,321.5 694.8,321.6 695.1,321.8 695.4,321.9 695.7,322.1 696.0,322.2 696.3,322.4 696.6,322.5 696.9,322.7 697.2,322.8 697.5,323.0 697.8,323.2 698.1,323.4 698.4,323.7 698.7,323.9 699.0,324.1 699.3,324.4 699.6,324.6 699.9,324.9 700.2,325.1 700.5,325.3 700.8,325.6 701.1,325.8 701.4,326.0 701.7,326.2 702.0,326.4 702.3,326.6 702.6,326.8 702.9,327.0 703.2,326.7 703.5,326.2 703.8,325.7 704.1,325.1 704.4,324.5 704.7,323.8 705.0,323.2 705.3,322.6 705.6,322.0 705.9,321.6 706.2,321.1 706.5,320.6 706.8,320.2 707.1,319.8 707.4,319.5 707.7,319.7 708.0,320.3 708.3,321.0 708.6,321.7 708.9,322.5 709.2,323.2 709.5,324.1 709.8,325.3 710.1,326.5 710.4,327.7 710.7,329.0 711.0,330.2 711.3,331.4 711.6,332.6 711.9,333.7 712.2,334.5 712.5,335.3 712.8,336.0 713.1,336.7 713.4,337.4 713.7,338.1 714.0,338.7 714.3,339.2 714.6,339.4 714.9,339.5 715.2,339.5 715.5,339.6 715.8,339.6 716.1,339.7 716.4,339.7 716.7,339.8 717.0,339.8 717.3,339.8 717.6,339.9 717.9,339.9 718.2,339.9 718.5,340.0 718.8,339.9 719.1,339.1 719.4,338.2 719.7,337.1 720.0,336.0 720.3,334.9 720.6,333.8 720.9,332.0 721.2,330.1 721.5,328.2 721.8,326.2 722.1,324.2 722.4,322.3 722.7,320.4 723.0,318.8 723.3,317.8 723.6,316.9 723.9,316.0 724.2,315.2 724.5,314.4 724.8,313.6 725.1,312.9 725.4,312.3 725.7,311.9 726.0,312.0 726.3,312.2 726.6,312.3 726.9,312.5 727.2,312.7 727.5,312.8 727.8,313.0 728.1,313.2 728.4,313.3 728.7,313.5 729.0,313.6 729.3,313.7 729.6,313.6 729.9,313.2 730.2,312.8 730.5,312.4 730.8,311.9 731.1,311.4 731.4,310.9 731.7,310.4 732.0,310.0 732.3,309.6 732.6,309.2 732.9,308.8 733.2,308.9 733.5,309.2 733.8,309.6 734.1,309.9 734.4,310.3 734.7,310.7 735.0,311.1 735.3,311.5 735.6,311.9 735.9,312.3 736.2,312.7 736.5,313.2 736.8,313.6 737.1,314.0 737.4,314.4 737.7,314.7 738.0,315.0 738.3,314.8 738.6,314.6 738.9,314.3 739.2,314.0 739.5,313.7 739.8,313.4 740.1,313.1 740.4,312.8 740.7,312.4 741.0,312.1 741.3,311.9 741.6,311.6 741.9,311.3 742.2,311.1 742.5,310.8 742.8,310.5 743.1,310.2 743.4,310.0 743.7,309.7 744.0,309.5 744.3,309.2 744.6,309.0 744.9,308.8 745.2,308.7 745.5,308.7 745.8,308.6 746.1,308.6 746.4,308.6 746.7,308.5 747.0,308.5 747.3,308.5 747.6,308.4 747.9,308.4 748.2,308.4 748.5,308.3 748.8,308.3 749.1,308.3 749.4,308.3 749.7,308.2 750.0,308.2 750.3,308.1 750.6,308.1 750.9,308.1 751.2,308.0 751.5,307.6 751.8,307.0 752.1,306.4 752.4,305.7 752.7,305.0 753.0,304.3 753.3,303.5 753.6,302.8 753.9,302.1 754.2,301.4 754.5,300.6 754.8,299.8 755.1,299.0 755.4,298.2 755.7,297.5 756.0,296.8 756.3,296.1 756.6,295.5 756.9,295.0 757.2,295.3 757.5,295.7 757.8,296.1 758.1,296.5 758.4,296.9 758.7,297.4 759.0,298.5 759.3,299.7 759.6,301.0 759.9,302.4 760.2,303.9 760.5,305.3 760.8,306.7 761.1,308.1 761.4,309.3 761.7,310.4 762.0,311.5 762.3,312.6 762.6,313.7 762.9,314.8 763.2,315.8 763.5,316.7 763.8,317.6 764.1,318.0 764.4,318.4 764.7,318.9 765.0,319.3 765.3,319.6 765.6,320.0 765.9,320.3 766.2,320.6 766.5,320.5 766.8,320.4 767.1,320.3 767.4,320.1 767.7,320.0 768.0,319.8 768.3,319.6 768.6,319.5 768.9,319.3 769.2,319.0 769.5,318.6 769.8,318.3 770.1,318.0 770.4,317.7 770.7,317.3 771.0,317.0 771.3,316.6 771.6,316.3 771.9,315.9 772.2,315.5 772.5,315.2 772.8,314.8 773.1,314.5 773.4,314.1 773.7,313.8 774.0,313.5 774.3,313.2 774.6,312.9 774.9,312.6 775.2,312.3 775.5,311.9 775.8,311.6 776.1,311.3 776.4,311.0 776.7,310.7 777.0,310.4 777.3,310.1 777.6,309.8 777.9,309.5 778.2,309.3 778.5,309.0 778.8,308.7 779.1,308.5 779.4,308.4 779.7,308.2 780.0,308.0 780.3,307.9 780.6,307.7 780.9,307.5 781.2,307.4 781.5,307.2 781.8,307.0 782.1,306.4 782.4,305.5 782.7,304.5 783.0,303.5 783.3,302.5 783.6,301.4 783.9,300.4 784.2,299.4 784.5,298.5 784.8,297.7 785.1,297.0 785.4,296.2 785.7,295.5 786.0,294.7 786.3,294.1 786.6,293.5 786.9,293.0 787.2,293.5 787.5,294.2 787.8,295.0 788.1,295.8 788.4,296.6 788.7,297.4 789.0,298.2 789.3,299.2 789.6,300.2 789.9,301.1 790.2,302.1 790.5,303.0 790.8,303.9 791.1,304.7 791.4,305.1 791.7,305.3 792.0,305.4 792.3,305.5 792.6,305.5 792.9,305.2 793.2,304.8 793.5,304.4 793.8,304.0 794.1,303.5 794.4,303.0 794.7,302.6 795.0,302.1 795.3,301.6 795.6,301.1 795.9,300.6 796.2,300.1 796.5,299.5 796.8,299.0 797.1,298.4 797.4,297.8 797.7,297.3 798.0,296.7 798.3,296.0 798.6,295.4 798.9,294.3 799.2,292.6 799.5,290.9 799.8,289.1 800.1,287.2 800.4,285.2 800.7,282.7 801.0,280.2 801.3,277.6 801.6,275.0 801.9,272.5 802.2,270.3 802.5,268.1 802.8,266.0 803.1,263.9 803.4,262.0 803.7,260.3 804.0,259.7 804.3,259.4 804.6,259.0 804.9,258.8 805.2,258.5 805.5,258.2 805.8,257.9 806.1,257.6 806.4,257.4 806.7,257.1 807.0,256.8 807.3,256.5 807.6,256.2 807.9,255.9 808.2,255.7 808.5,255.4 808.8,255.1 809.1,254.7 809.4,254.4 809.7,253.7 810.0,252.8 810.3,252.0 810.6,251.1 810.9,250.2 811.2,249.3 811.5,248.5 811.8,247.7 812.1,247.3 812.4,246.9 812.7,246.6 813.0,246.2 813.3,246.0 813.6,245.7 813.9,245.7 814.2,245.8 814.5,246.0 814.8,246.1 815.1,246.3 815.4,246.5 815.7,246.7 816.0,246.8 816.3,246.8 816.6,246.3 816.9,245.7 817.2,245.0 817.5,244.3 817.8,243.6 818.1,242.8 818.4,242.1 818.7,241.4 819.0,240.7 819.3,240.1 819.6,239.5 819.9,238.9 820.2,238.2 820.5,237.6 820.8,237.0 821.1,236.4 821.4,235.8 821.7,235.2 822.0,234.7 822.3,234.1 822.6,233.6 822.9,233.3 823.2,233.0 823.5,232.7 823.8,232.4 824.1,232.1 824.4,231.8 824.7,231.5 825.0,231.2 825.3,230.9 825.6,230.6 825.9,230.3 826.2,230.0 826.5,229.8 826.8,229.5 827.1,229.2 827.4,228.9 827.7,228.5 828.0,228.2 828.3,227.8 828.6,227.5 828.9,227.1 829.2,226.8 829.5,226.4 829.8,226.1 830.1,225.7 830.4,225.3 830.7,224.7 831.0,223.7 831.3,222.7 831.6,221.6 831.9,220.5 832.2,219.4 832.5,218.3 832.8,217.2 833.1,216.2 833.4,215.3 833.7,214.4 834.0,213.5 834.3,212.7 834.6,211.8 834.9,211.0 835.2,210.3 835.5,209.7 835.8,209.6 836.1,209.7 836.4,209.8 836.7,210.0 837.0,210.2 837.3,210.4 837.6,210.7 837.9,211.4 838.2,212.2 838.5,213.0 838.8,213.9 839.1,214.8 839.4,215.7 839.7,216.6 840.0,217.5 840.3,218.5 840.6,219.6 840.9,220.7 841.2,221.8 841.5,222.8 841.8,223.9 842.1,224.8 842.4,225.7 842.7,226.2 843.0,226.5 843.3,226.7 843.6,227.0 843.9,227.2 844.2,227.4 844.5,227.4 844.8,227.2 845.1,226.9 845.4,226.6 845.7,226.3 846.0,225.9 846.3,225.5 846.6,225.2 846.9,224.8 847.2,224.4 847.5,224.0 847.8,223.6 848.1,223.3 848.4,222.9 848.7,222.6 849.0,222.2 849.3,221.9 849.6,221.6 849.9,221.3 850.2,221.0 850.5,220.7 850.8,220.4 851.1,220.1 851.4,219.8 851.7,219.5 852.0,219.2 852.3,218.9 852.6,218.6 852.9,218.3 853.2,218.0 853.5,217.7 853.8,217.5 854.1,217.2 854.4,216.9 854.7,216.6 855.0,216.3 855.3,216.0 855.6,215.7 855.9,215.4 856.2,215.1 856.5,214.8 856.8,214.5 857.1,214.2 857.4,213.9 857.7,213.6 858.0,213.3 858.3,213.0 858.6,212.7 858.9,212.3 859.2,212.1 859.5,211.8 859.8,211.5 860.1,211.2 860.4,210.8 860.7,210.3 861.0,209.4 861.3,208.4 861.6,207.4 861.9,206.3 862.2,205.2 862.5,204.1 862.8,203.1 863.1,202.3 863.4,201.6 863.7,201.0 864.0,200.3 864.3,199.7 864.6,199.1 864.9,198.6 865.2,198.1 865.5,197.6 865.8,197.8 866.1,198.3 866.4,198.9 866.7,199.5 867.0,200.2 867.3,200.9 867.6,201.6 867.9,202.3 868.2,203.0 868.5,203.8 868.8,204.6 869.1,205.5 869.4,206.3 869.7,207.1 870.0,207.8 870.3,208.5 870.6,209.0 870.9,208.8 871.2,208.6 871.5,208.3 871.8,208.0 872.1,207.7 872.4,207.4 872.7,207.1 873.0,206.8 873.3,206.5 873.6,206.1 873.9,205.8 874.2,205.4 874.5,205.1 874.8,204.7 875.1,204.4 875.4,204.0 875.7,203.6 876.0,203.2 876.3,202.8 876.6,202.2 876.9,201.3 877.2,200.4 877.5,199.4 877.8,198.4 878.1,197.4 878.4,196.3 878.7,194.2 879.0,192.0 879.3,189.8 879.6,187.4 879.9,185.1 880.2,182.8 880.5,180.5 880.8,178.1 881.1,175.7 881.4,173.3 881.7,171.0 882.0,168.8 882.3,167.2 882.6,166.2 882.9,165.2 883.2,164.3 883.5,163.5 883.8,162.9 884.1,162.7 884.4,162.5 884.7,162.2 885.0,162.1 885.3,161.9 885.6,161.7 885.9,161.5 886.2,161.3 886.5,161.1 886.8,160.9 887.1,160.7 887.4,160.2 887.7,159.5 888.0,158.8 888.3,158.1 888.6,157.3 888.9,156.6 889.2,155.8 889.5,155.0 889.8,154.2 890.1,153.3 890.4,152.3 890.7,151.4 891.0,150.5 891.3,150.0 891.6,150.1 891.9,150.1 892.2,150.2 892.5,150.2 892.8,150.3 893.1,150.4 893.4,150.4 893.7,150.5 894.0,150.5 894.3,150.6 894.6,150.3 894.9,149.7 895.2,149.1 895.5,148.4 895.8,147.7 896.1,146.9 896.4,146.2 896.7,145.5 897.0,144.8 897.3,144.2 897.6,143.5 897.9,142.9 898.2,142.3 898.5,141.7 898.8,141.1 899.1,140.5 899.4,139.9 899.7,139.3 900.0,138.8 900.3,138.4 900.6,138.1 900.9,137.7 901.2,137.4 901.5,137.1 901.8,136.8 902.1,136.4 902.4,136.1 902.7,135.8 903.0,135.5 903.3,135.2 903.6,134.9 903.9,134.7 904.2,134.4 904.5,134.2 904.8,133.9 905.1,133.7 905.4,133.5 905.7,133.2 906.0,133.0 906.3,132.8 906.6,132.5 906.9,132.3 907.2,132.0 907.5,131.7 907.8,131.4 908.1,131.0 908.4,130.3 908.7,129.6 909.0,128.8 909.3,128.0 909.6,127.2 909.9,126.3 910.2,125.5 910.5,124.6 910.8,123.8 911.1,122.9 911.4,122.0 911.7,121.0 912.0,120.0 912.3,119.0 912.6,117.9 912.9,116.9 913.2,116.0 913.5,115.1 913.8,114.4 914.1,114.1 914.4,113.8 914.7,113.6 915.0,113.4 915.3,113.2 915.6,113.0 915.9,113.4 916.2,113.8 916.5,114.3 916.8,114.9 917.1,115.5 917.4,116.1 917.7,117.0 918.0,118.1 918.3,119.3 918.6,120.6 918.9,121.9 919.2,123.1 919.5,124.4 919.8,125.5 920.1,126.5 920.4,127.1 920.7,127.8 921.0,128.4 921.3,129.1 921.6,129.7 921.9,130.3 922.2,130.8 922.5,131.3 922.8,131.7 923.1,131.9 923.4,131.6 923.7,131.3 924.0,131.0 924.3,130.6 924.6,130.2 924.9,129.8 925.2,129.4 925.5,129.0 925.8,128.6 926.1,128.2 926.4,127.8 926.7,127.5 927.0,127.1 927.3,126.8 927.6,126.5 927.9,126.1 928.2,125.8 928.5,125.4 928.8,125.1 929.1,124.8 929.4,124.4 929.7,124.1 930.0,123.8 930.3,123.4 930.6,123.0 930.9,122.7 931.2,122.3 931.5,122.0 931.8,121.6 932.1,121.2 932.4,120.9 932.7,120.5 933.0,120.1 933.3,119.8 933.6,119.4 933.9,119.1 934.2,118.8 934.5,118.5 934.8,118.2 935.1,118.0 935.4,117.9 935.7,117.8 936.0,117.7 936.3,117.6 936.6,117.5 936.9,117.4 937.2,117.3 937.5,117.2 937.8,117.1 938.1,116.9 938.4,116.4 938.7,116.0 939.0,115.5 939.3,114.9 939.6,114.4 939.9,113.8 940.2,113.3 940.5,112.7 940.8,111.9 941.1,110.9 941.4,109.9 941.7,108.9 942.0,107.9 942.3,106.9 942.6,106.0 942.9,105.3 943.2,104.6 943.5,104.0 943.8,103.3 944.1,102.7 944.4,102.0 944.4,102.0" fill="none" stroke="#0072B2" stroke-width="2.35" stroke-linejoin="round" stroke-linecap="square"/>
<g fill="#ff0000" fill-opacity="0.7" stroke="#ff0000" stroke-opacity="0.7" stroke-width="1.39"><circle cx="937.5" cy="155.4" r="2.08"/><circle cx="933.1" cy="160.0" r="2.08"/><circle cx="936.2" cy="160.6" r="2.08"/><circle cx="938.0" cy="161.9" r="2.08"/><circle cx="935.0" cy="163.0" r="2.08"/><circle cx="936.9" cy="164.4" r="2.08"/><circle cx="933.0" cy="165.0" r="2.08"/><circle cx="935.0" cy="166.9" r="2.08"/><circle cx="932.5" cy="168.0" r="2.08"/><circle cx="934.4" cy="168.0" r="2.08"/><circle cx="931.2" cy="169.4" r="2.08"/><circle cx="934.0" cy="161.5" r="2.08"/><circle cx="936.0" cy="162.5" r="2.08"/><circle cx="934.0" cy="164.0" r="2.08"/><circle cx="936.0" cy="166.0" r="2.08"/><circle cx="933.5" cy="167.0" r="2.08"/><circle cx="937.0" cy="163.2" r="2.08"/><circle cx="935.5" cy="161.5" r="2.08"/><circle cx="934.8" cy="165.5" r="2.08"/></g>
</g>
<path d="M227.5 542.5v5.4M384.5 542.5v5.4M542.5 542.5v5.4M699.5 542.5v5.4M857.5 542.5v5.4M79.5 537.5h-5.4M79.5 429.5h-5.4M79.5 321.5h-5.4M79.5 213.5h-5.4M79.5 106.5h-5.4" stroke="#000" stroke-width="1.11" fill="none"/>
<rect x="79.5" y="15.5" width="906.0" height="527.0" fill="none" stroke="#000" stroke-width="1.11"/>
<g font-family="'DejaVu Sans', 'Liberation Sans', sans-serif" font-size="13.89px" fill="#000">
<text x="226.7" y="562.1" text-anchor="middle">2017</text>
<text x="383.7" y="562.1" text-anchor="middle">2019</text>
<text x="541.7" y="562.1" text-anchor="middle">2021</text>
<text x="699.7" y="562.1" text-anchor="middle">2023</text>
<text x="856.9" y="562.1" text-anchor="middle">2025</text>
<text x="70.8" y="542.80" text-anchor="end">0</text>
<text x="69.5" y="434.80" text-anchor="end">1000</text>
<text x="69.8" y="326.80" text-anchor="end">2000</text>
<text x="69.0" y="218.80" text-anchor="end">3000</text>
<text x="69.0" y="111.80" text-anchor="end">4000</text>
<text x="532.5" y="581.9" text-anchor="middle">ds</text>
<text transform="translate(25.2,279) rotate(-90)" text-anchor="middle">y</text>
</g>
</svg>
</body></html>
